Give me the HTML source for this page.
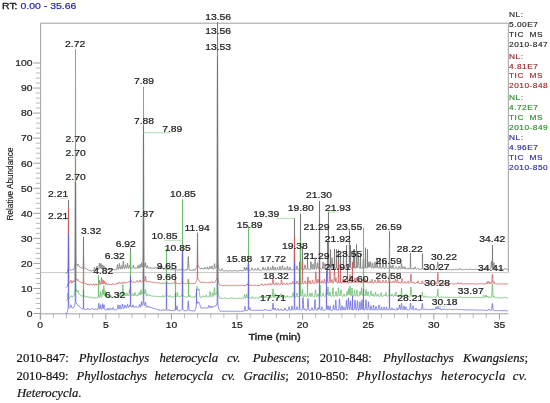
<!DOCTYPE html>
<html><head><meta charset="utf-8"><style>
html,body{margin:0;padding:0;background:#fff;width:550px;height:403px;overflow:hidden;}
svg{position:absolute;left:0;top:0;display:block;will-change:transform;}
.cap{position:absolute;left:0;top:0;font-family:"Liberation Serif",serif;font-size:12.7px;color:#111;-webkit-text-stroke:0.2px #111;}
.w{position:absolute;height:17.4px;line-height:17.4px;white-space:nowrap;transform:scaleY(1.05);transform-origin:0 13px;}
.j{text-align:justify;text-align-last:justify;white-space:normal;}
</style></head><body>
<svg width="550" height="403" viewBox="0 0 550 403" font-family="Liberation Sans, sans-serif">
<rect width="550" height="403" fill="#fff"/>
<text transform="translate(2.0,8.8) scale(1.14,1)" font-size="9.2" fill="#222" stroke="#222" stroke-width="0.35">RT: <tspan fill="#2323b0" stroke="#2323b0" stroke-width="0.2">0.00 - 35.66</tspan></text>
<line x1="40.60" y1="23.20" x2="508.30" y2="23.20" stroke="#a0a0a0" stroke-width="1" stroke-opacity="1.0"/>
<line x1="508.30" y1="23.20" x2="508.30" y2="272.50" stroke="#a0a0a0" stroke-width="1" stroke-opacity="1.0"/>
<line x1="40.60" y1="272.60" x2="508.30" y2="272.60" stroke="#c8c8c8" stroke-width="1" stroke-opacity="1.0"/>
<line x1="40.60" y1="23.20" x2="40.60" y2="319.50" stroke="#a0a0a0" stroke-width="1" stroke-opacity="1.0"/>
<line x1="40.60" y1="313.80" x2="508.50" y2="313.80" stroke="#a0a0a0" stroke-width="1" stroke-opacity="1.0"/>
<line x1="33.50" y1="313.50" x2="40.60" y2="313.50" stroke="#a0a0a0" stroke-width="1" stroke-opacity="1.0"/>
<line x1="35.80" y1="308.49" x2="40.60" y2="308.49" stroke="#b8b8b8" stroke-width="1" stroke-opacity="1.0"/>
<line x1="35.80" y1="303.48" x2="40.60" y2="303.48" stroke="#b8b8b8" stroke-width="1" stroke-opacity="1.0"/>
<line x1="35.80" y1="298.47" x2="40.60" y2="298.47" stroke="#b8b8b8" stroke-width="1" stroke-opacity="1.0"/>
<line x1="35.80" y1="293.46" x2="40.60" y2="293.46" stroke="#b8b8b8" stroke-width="1" stroke-opacity="1.0"/>
<line x1="33.50" y1="288.45" x2="40.60" y2="288.45" stroke="#a0a0a0" stroke-width="1" stroke-opacity="1.0"/>
<line x1="35.80" y1="283.44" x2="40.60" y2="283.44" stroke="#b8b8b8" stroke-width="1" stroke-opacity="1.0"/>
<line x1="35.80" y1="278.43" x2="40.60" y2="278.43" stroke="#b8b8b8" stroke-width="1" stroke-opacity="1.0"/>
<line x1="35.80" y1="273.42" x2="40.60" y2="273.42" stroke="#b8b8b8" stroke-width="1" stroke-opacity="1.0"/>
<line x1="35.80" y1="268.41" x2="40.60" y2="268.41" stroke="#b8b8b8" stroke-width="1" stroke-opacity="1.0"/>
<line x1="33.50" y1="263.40" x2="40.60" y2="263.40" stroke="#a0a0a0" stroke-width="1" stroke-opacity="1.0"/>
<line x1="35.80" y1="258.39" x2="40.60" y2="258.39" stroke="#b8b8b8" stroke-width="1" stroke-opacity="1.0"/>
<line x1="35.80" y1="253.38" x2="40.60" y2="253.38" stroke="#b8b8b8" stroke-width="1" stroke-opacity="1.0"/>
<line x1="35.80" y1="248.37" x2="40.60" y2="248.37" stroke="#b8b8b8" stroke-width="1" stroke-opacity="1.0"/>
<line x1="35.80" y1="243.36" x2="40.60" y2="243.36" stroke="#b8b8b8" stroke-width="1" stroke-opacity="1.0"/>
<line x1="33.50" y1="238.35" x2="40.60" y2="238.35" stroke="#a0a0a0" stroke-width="1" stroke-opacity="1.0"/>
<line x1="35.80" y1="233.34" x2="40.60" y2="233.34" stroke="#b8b8b8" stroke-width="1" stroke-opacity="1.0"/>
<line x1="35.80" y1="228.33" x2="40.60" y2="228.33" stroke="#b8b8b8" stroke-width="1" stroke-opacity="1.0"/>
<line x1="35.80" y1="223.32" x2="40.60" y2="223.32" stroke="#b8b8b8" stroke-width="1" stroke-opacity="1.0"/>
<line x1="35.80" y1="218.31" x2="40.60" y2="218.31" stroke="#b8b8b8" stroke-width="1" stroke-opacity="1.0"/>
<line x1="33.50" y1="213.30" x2="40.60" y2="213.30" stroke="#a0a0a0" stroke-width="1" stroke-opacity="1.0"/>
<line x1="35.80" y1="208.29" x2="40.60" y2="208.29" stroke="#b8b8b8" stroke-width="1" stroke-opacity="1.0"/>
<line x1="35.80" y1="203.28" x2="40.60" y2="203.28" stroke="#b8b8b8" stroke-width="1" stroke-opacity="1.0"/>
<line x1="35.80" y1="198.27" x2="40.60" y2="198.27" stroke="#b8b8b8" stroke-width="1" stroke-opacity="1.0"/>
<line x1="35.80" y1="193.26" x2="40.60" y2="193.26" stroke="#b8b8b8" stroke-width="1" stroke-opacity="1.0"/>
<line x1="33.50" y1="188.25" x2="40.60" y2="188.25" stroke="#a0a0a0" stroke-width="1" stroke-opacity="1.0"/>
<line x1="35.80" y1="183.24" x2="40.60" y2="183.24" stroke="#b8b8b8" stroke-width="1" stroke-opacity="1.0"/>
<line x1="35.80" y1="178.23" x2="40.60" y2="178.23" stroke="#b8b8b8" stroke-width="1" stroke-opacity="1.0"/>
<line x1="35.80" y1="173.22" x2="40.60" y2="173.22" stroke="#b8b8b8" stroke-width="1" stroke-opacity="1.0"/>
<line x1="35.80" y1="168.21" x2="40.60" y2="168.21" stroke="#b8b8b8" stroke-width="1" stroke-opacity="1.0"/>
<line x1="33.50" y1="163.20" x2="40.60" y2="163.20" stroke="#a0a0a0" stroke-width="1" stroke-opacity="1.0"/>
<line x1="35.80" y1="158.19" x2="40.60" y2="158.19" stroke="#b8b8b8" stroke-width="1" stroke-opacity="1.0"/>
<line x1="35.80" y1="153.18" x2="40.60" y2="153.18" stroke="#b8b8b8" stroke-width="1" stroke-opacity="1.0"/>
<line x1="35.80" y1="148.17" x2="40.60" y2="148.17" stroke="#b8b8b8" stroke-width="1" stroke-opacity="1.0"/>
<line x1="35.80" y1="143.16" x2="40.60" y2="143.16" stroke="#b8b8b8" stroke-width="1" stroke-opacity="1.0"/>
<line x1="33.50" y1="138.15" x2="40.60" y2="138.15" stroke="#a0a0a0" stroke-width="1" stroke-opacity="1.0"/>
<line x1="35.80" y1="133.14" x2="40.60" y2="133.14" stroke="#b8b8b8" stroke-width="1" stroke-opacity="1.0"/>
<line x1="35.80" y1="128.13" x2="40.60" y2="128.13" stroke="#b8b8b8" stroke-width="1" stroke-opacity="1.0"/>
<line x1="35.80" y1="123.12" x2="40.60" y2="123.12" stroke="#b8b8b8" stroke-width="1" stroke-opacity="1.0"/>
<line x1="35.80" y1="118.11" x2="40.60" y2="118.11" stroke="#b8b8b8" stroke-width="1" stroke-opacity="1.0"/>
<line x1="33.50" y1="113.10" x2="40.60" y2="113.10" stroke="#a0a0a0" stroke-width="1" stroke-opacity="1.0"/>
<line x1="35.80" y1="108.09" x2="40.60" y2="108.09" stroke="#b8b8b8" stroke-width="1" stroke-opacity="1.0"/>
<line x1="35.80" y1="103.08" x2="40.60" y2="103.08" stroke="#b8b8b8" stroke-width="1" stroke-opacity="1.0"/>
<line x1="35.80" y1="98.07" x2="40.60" y2="98.07" stroke="#b8b8b8" stroke-width="1" stroke-opacity="1.0"/>
<line x1="35.80" y1="93.06" x2="40.60" y2="93.06" stroke="#b8b8b8" stroke-width="1" stroke-opacity="1.0"/>
<line x1="33.50" y1="88.05" x2="40.60" y2="88.05" stroke="#a0a0a0" stroke-width="1" stroke-opacity="1.0"/>
<line x1="35.80" y1="83.04" x2="40.60" y2="83.04" stroke="#b8b8b8" stroke-width="1" stroke-opacity="1.0"/>
<line x1="35.80" y1="78.03" x2="40.60" y2="78.03" stroke="#b8b8b8" stroke-width="1" stroke-opacity="1.0"/>
<line x1="35.80" y1="73.02" x2="40.60" y2="73.02" stroke="#b8b8b8" stroke-width="1" stroke-opacity="1.0"/>
<line x1="35.80" y1="68.01" x2="40.60" y2="68.01" stroke="#b8b8b8" stroke-width="1" stroke-opacity="1.0"/>
<line x1="33.50" y1="63.00" x2="40.60" y2="63.00" stroke="#a0a0a0" stroke-width="1" stroke-opacity="1.0"/>
<text transform="translate(32.60,316.80) scale(1.15,1)" font-size="9.0" fill="#1e1e1e" stroke="#1e1e1e" stroke-width="0.22" text-anchor="end" font-weight="normal">0</text>
<text transform="translate(32.60,291.75) scale(1.15,1)" font-size="9.0" fill="#1e1e1e" stroke="#1e1e1e" stroke-width="0.22" text-anchor="end" font-weight="normal">10</text>
<text transform="translate(32.60,266.70) scale(1.15,1)" font-size="9.0" fill="#1e1e1e" stroke="#1e1e1e" stroke-width="0.22" text-anchor="end" font-weight="normal">20</text>
<text transform="translate(32.60,241.65) scale(1.15,1)" font-size="9.0" fill="#1e1e1e" stroke="#1e1e1e" stroke-width="0.22" text-anchor="end" font-weight="normal">30</text>
<text transform="translate(32.60,216.60) scale(1.15,1)" font-size="9.0" fill="#1e1e1e" stroke="#1e1e1e" stroke-width="0.22" text-anchor="end" font-weight="normal">40</text>
<text transform="translate(32.60,191.55) scale(1.15,1)" font-size="9.0" fill="#1e1e1e" stroke="#1e1e1e" stroke-width="0.22" text-anchor="end" font-weight="normal">50</text>
<text transform="translate(32.60,166.50) scale(1.15,1)" font-size="9.0" fill="#1e1e1e" stroke="#1e1e1e" stroke-width="0.22" text-anchor="end" font-weight="normal">60</text>
<text transform="translate(32.60,141.45) scale(1.15,1)" font-size="9.0" fill="#1e1e1e" stroke="#1e1e1e" stroke-width="0.22" text-anchor="end" font-weight="normal">70</text>
<text transform="translate(32.60,116.40) scale(1.15,1)" font-size="9.0" fill="#1e1e1e" stroke="#1e1e1e" stroke-width="0.22" text-anchor="end" font-weight="normal">80</text>
<text transform="translate(32.60,91.35) scale(1.15,1)" font-size="9.0" fill="#1e1e1e" stroke="#1e1e1e" stroke-width="0.22" text-anchor="end" font-weight="normal">90</text>
<text transform="translate(32.60,66.30) scale(1.15,1)" font-size="9.0" fill="#1e1e1e" stroke="#1e1e1e" stroke-width="0.22" text-anchor="end" font-weight="normal">100</text>
<line x1="40.20" y1="313.80" x2="40.20" y2="319.60" stroke="#a0a0a0" stroke-width="1" stroke-opacity="1.0"/>
<line x1="53.32" y1="313.80" x2="53.32" y2="318.00" stroke="#b8b8b8" stroke-width="1" stroke-opacity="1.0"/>
<line x1="66.44" y1="313.80" x2="66.44" y2="318.00" stroke="#b8b8b8" stroke-width="1" stroke-opacity="1.0"/>
<line x1="79.56" y1="313.80" x2="79.56" y2="318.00" stroke="#b8b8b8" stroke-width="1" stroke-opacity="1.0"/>
<line x1="92.68" y1="313.80" x2="92.68" y2="318.00" stroke="#b8b8b8" stroke-width="1" stroke-opacity="1.0"/>
<line x1="105.80" y1="313.80" x2="105.80" y2="319.60" stroke="#a0a0a0" stroke-width="1" stroke-opacity="1.0"/>
<line x1="118.92" y1="313.80" x2="118.92" y2="318.00" stroke="#b8b8b8" stroke-width="1" stroke-opacity="1.0"/>
<line x1="132.04" y1="313.80" x2="132.04" y2="318.00" stroke="#b8b8b8" stroke-width="1" stroke-opacity="1.0"/>
<line x1="145.16" y1="313.80" x2="145.16" y2="318.00" stroke="#b8b8b8" stroke-width="1" stroke-opacity="1.0"/>
<line x1="158.28" y1="313.80" x2="158.28" y2="318.00" stroke="#b8b8b8" stroke-width="1" stroke-opacity="1.0"/>
<line x1="171.40" y1="313.80" x2="171.40" y2="319.60" stroke="#a0a0a0" stroke-width="1" stroke-opacity="1.0"/>
<line x1="184.52" y1="313.80" x2="184.52" y2="318.00" stroke="#b8b8b8" stroke-width="1" stroke-opacity="1.0"/>
<line x1="197.64" y1="313.80" x2="197.64" y2="318.00" stroke="#b8b8b8" stroke-width="1" stroke-opacity="1.0"/>
<line x1="210.76" y1="313.80" x2="210.76" y2="318.00" stroke="#b8b8b8" stroke-width="1" stroke-opacity="1.0"/>
<line x1="223.88" y1="313.80" x2="223.88" y2="318.00" stroke="#b8b8b8" stroke-width="1" stroke-opacity="1.0"/>
<line x1="237.00" y1="313.80" x2="237.00" y2="319.60" stroke="#a0a0a0" stroke-width="1" stroke-opacity="1.0"/>
<line x1="250.12" y1="313.80" x2="250.12" y2="318.00" stroke="#b8b8b8" stroke-width="1" stroke-opacity="1.0"/>
<line x1="263.24" y1="313.80" x2="263.24" y2="318.00" stroke="#b8b8b8" stroke-width="1" stroke-opacity="1.0"/>
<line x1="276.36" y1="313.80" x2="276.36" y2="318.00" stroke="#b8b8b8" stroke-width="1" stroke-opacity="1.0"/>
<line x1="289.48" y1="313.80" x2="289.48" y2="318.00" stroke="#b8b8b8" stroke-width="1" stroke-opacity="1.0"/>
<line x1="302.60" y1="313.80" x2="302.60" y2="319.60" stroke="#a0a0a0" stroke-width="1" stroke-opacity="1.0"/>
<line x1="315.72" y1="313.80" x2="315.72" y2="318.00" stroke="#b8b8b8" stroke-width="1" stroke-opacity="1.0"/>
<line x1="328.84" y1="313.80" x2="328.84" y2="318.00" stroke="#b8b8b8" stroke-width="1" stroke-opacity="1.0"/>
<line x1="341.96" y1="313.80" x2="341.96" y2="318.00" stroke="#b8b8b8" stroke-width="1" stroke-opacity="1.0"/>
<line x1="355.08" y1="313.80" x2="355.08" y2="318.00" stroke="#b8b8b8" stroke-width="1" stroke-opacity="1.0"/>
<line x1="368.20" y1="313.80" x2="368.20" y2="319.60" stroke="#a0a0a0" stroke-width="1" stroke-opacity="1.0"/>
<line x1="381.32" y1="313.80" x2="381.32" y2="318.00" stroke="#b8b8b8" stroke-width="1" stroke-opacity="1.0"/>
<line x1="394.44" y1="313.80" x2="394.44" y2="318.00" stroke="#b8b8b8" stroke-width="1" stroke-opacity="1.0"/>
<line x1="407.56" y1="313.80" x2="407.56" y2="318.00" stroke="#b8b8b8" stroke-width="1" stroke-opacity="1.0"/>
<line x1="420.68" y1="313.80" x2="420.68" y2="318.00" stroke="#b8b8b8" stroke-width="1" stroke-opacity="1.0"/>
<line x1="433.80" y1="313.80" x2="433.80" y2="319.60" stroke="#a0a0a0" stroke-width="1" stroke-opacity="1.0"/>
<line x1="446.92" y1="313.80" x2="446.92" y2="318.00" stroke="#b8b8b8" stroke-width="1" stroke-opacity="1.0"/>
<line x1="460.04" y1="313.80" x2="460.04" y2="318.00" stroke="#b8b8b8" stroke-width="1" stroke-opacity="1.0"/>
<line x1="473.16" y1="313.80" x2="473.16" y2="318.00" stroke="#b8b8b8" stroke-width="1" stroke-opacity="1.0"/>
<line x1="486.28" y1="313.80" x2="486.28" y2="318.00" stroke="#b8b8b8" stroke-width="1" stroke-opacity="1.0"/>
<line x1="499.40" y1="313.80" x2="499.40" y2="319.60" stroke="#a0a0a0" stroke-width="1" stroke-opacity="1.0"/>
<text transform="translate(40.20,328.30) scale(1.15,1)" font-size="9.0" fill="#1e1e1e" stroke="#1e1e1e" stroke-width="0.22" text-anchor="middle" font-weight="normal">0</text>
<text transform="translate(105.80,328.30) scale(1.15,1)" font-size="9.0" fill="#1e1e1e" stroke="#1e1e1e" stroke-width="0.22" text-anchor="middle" font-weight="normal">5</text>
<text transform="translate(171.40,328.30) scale(1.15,1)" font-size="9.0" fill="#1e1e1e" stroke="#1e1e1e" stroke-width="0.22" text-anchor="middle" font-weight="normal">10</text>
<text transform="translate(237.00,328.30) scale(1.15,1)" font-size="9.0" fill="#1e1e1e" stroke="#1e1e1e" stroke-width="0.22" text-anchor="middle" font-weight="normal">15</text>
<text transform="translate(302.60,328.30) scale(1.15,1)" font-size="9.0" fill="#1e1e1e" stroke="#1e1e1e" stroke-width="0.22" text-anchor="middle" font-weight="normal">20</text>
<text transform="translate(368.20,328.30) scale(1.15,1)" font-size="9.0" fill="#1e1e1e" stroke="#1e1e1e" stroke-width="0.22" text-anchor="middle" font-weight="normal">25</text>
<text transform="translate(433.80,328.30) scale(1.15,1)" font-size="9.0" fill="#1e1e1e" stroke="#1e1e1e" stroke-width="0.22" text-anchor="middle" font-weight="normal">30</text>
<text transform="translate(499.40,328.30) scale(1.15,1)" font-size="9.0" fill="#1e1e1e" stroke="#1e1e1e" stroke-width="0.22" text-anchor="middle" font-weight="normal">35</text>
<text transform="translate(274.60,340.10) scale(1.15,1)" font-size="9.6" fill="#1e1e1e" stroke="#1e1e1e" stroke-width="0.4" text-anchor="middle" font-weight="normal">Time (min)</text>
<text transform="translate(13.2,184) rotate(-90) scale(1,1.15)" font-size="8.2" fill="#1e1e1e" stroke="#1e1e1e" stroke-width="0.15" text-anchor="middle">Relative Abundance</text>
<path d="M66.00,273.8 66.20,273.4 66.50,273.0 66.52,273.0 66.76,272.6 67.00,272.2 67.24,271.9 67.48,271.5 67.50,270.5 67.80,270.0 68.00,269.5 68.13,269.1 68.20,268.2 68.30,259.5 68.38,235.4 68.44,211.4 68.50,200.0 68.53,203.1 68.56,211.4 68.62,235.2 68.70,259.3 68.80,267.9 68.85,268.6 69.00,268.9 69.09,269.0 69.33,269.2 69.50,269.4 69.57,269.4 69.81,269.7 69.88,269.8 70.00,269.9 70.13,270.0 70.28,270.1 70.50,270.1 70.53,270.1 70.60,270.0 70.84,269.9 71.00,270.0 71.08,270.0 71.21,270.0 71.32,270.0 71.50,270.1 71.56,270.1 71.61,270.1 71.88,270.0 71.93,270.0 72.00,269.9 72.17,269.8 72.28,269.7 72.41,269.7 72.50,269.7 72.65,269.8 72.89,269.9 73.00,270.0 73.21,269.7 73.43,269.7 73.50,269.6 73.61,269.6 73.83,269.4 74.00,269.2 74.15,268.7 74.39,268.0 74.50,267.6 74.63,267.1 74.87,266.1 75.00,265.5 75.11,264.9 75.20,263.1 75.30,247.8 75.38,205.5 75.43,170.0 75.44,163.7 75.50,143.6 75.56,163.5 75.62,205.1 75.69,243.6 75.70,247.1 75.80,262.1 75.83,263.0 76.00,263.8 76.09,264.1 76.41,264.8 76.50,264.9 76.65,265.1 76.89,265.4 76.94,265.4 77.00,265.5 77.01,265.5 77.13,265.6 77.34,265.6 77.37,265.5 77.50,265.3 77.60,265.0 77.66,264.8 77.69,264.7 77.80,264.4 77.90,264.2 78.00,264.3 78.09,264.4 78.14,264.5 78.20,264.6 78.38,265.3 78.40,265.4 78.50,265.7 78.55,265.8 78.62,266.0 78.66,266.1 78.94,266.4 78.95,266.4 78.99,266.4 79.00,266.4 79.27,266.6 79.34,266.6 79.50,266.7 79.51,266.7 79.75,266.8 79.99,267.0 80.00,267.0 80.23,267.2 80.50,267.5 80.55,267.5 80.66,267.6 80.95,267.8 81.00,267.8 81.06,267.8 81.38,267.9 81.50,267.9 81.62,267.9 81.86,268.0 81.91,268.0 82.00,268.0 82.10,268.0 82.31,268.0 82.34,268.0 82.50,268.0 82.63,267.9 82.66,267.9 82.87,267.7 83.00,267.6 83.06,267.5 83.11,267.5 83.20,267.0 83.30,263.2 83.35,257.4 83.38,252.5 83.44,241.9 83.50,236.9 83.56,242.0 83.59,247.1 83.62,252.6 83.70,263.3 83.80,267.1 83.91,267.6 84.00,267.7 84.14,267.8 84.31,267.9 84.50,268.0 84.54,268.0 84.86,268.0 85.00,268.0 85.10,268.0 85.34,268.2 85.50,268.3 85.58,268.4 85.78,268.5 85.82,268.6 86.00,268.8 86.14,268.8 86.18,268.9 86.50,268.9 86.54,268.9 86.74,268.8 86.98,268.9 87.00,268.9 87.22,269.1 87.46,269.4 87.50,269.4 87.78,269.7 87.92,269.8 88.00,269.9 88.18,270.0 88.32,270.1 88.50,270.1 88.64,270.2 88.88,270.2 89.00,270.3 89.12,270.3 89.30,270.4 89.36,270.5 89.50,270.6 89.60,270.7 89.70,270.7 89.92,270.8 90.00,270.8 90.02,270.8 90.26,270.7 90.32,270.7 90.50,270.7 90.74,270.7 90.98,270.8 91.00,270.8 91.30,270.9 91.46,270.9 91.50,270.9 91.70,270.9 91.86,270.8 92.00,270.8 92.18,270.6 92.42,270.5 92.50,270.4 92.66,270.4 92.90,270.4 92.97,270.5 93.00,270.5 93.14,270.5 93.37,270.5 93.46,270.5 93.50,270.5 93.51,270.5 93.69,270.3 93.84,269.9 93.86,269.8 93.93,269.6 94.00,269.2 94.10,268.7 94.17,268.3 94.30,267.7 94.41,267.3 94.50,267.2 94.65,267.6 94.70,267.8 94.86,268.7 94.90,268.9 94.97,269.2 95.00,269.4 95.16,269.9 95.26,270.0 95.37,270.1 95.49,270.1 95.50,270.1 95.58,270.0 95.82,269.8 96.00,269.7 96.01,269.7 96.06,269.6 96.13,269.6 96.30,269.3 96.34,269.3 96.50,268.7 96.53,268.5 96.54,268.5 96.60,268.1 96.80,266.9 96.85,266.6 96.86,266.6 97.00,266.2 97.09,266.3 97.20,266.7 97.26,267.0 97.33,267.4 97.40,267.9 97.50,268.4 97.57,268.8 97.66,269.1 97.81,269.4 97.99,269.6 98.00,269.6 98.13,269.7 98.39,269.7 98.50,269.6 98.51,269.6 98.53,269.6 98.79,269.0 98.84,268.8 99.00,267.6 99.10,266.5 99.11,266.4 99.30,264.2 99.35,263.7 99.50,263.0 99.59,263.2 99.67,263.8 99.70,264.0 99.83,265.5 99.90,266.3 100.00,267.3 100.01,267.4 100.07,267.9 100.16,268.3 100.34,268.4 100.39,268.2 100.49,267.5 100.50,267.5 100.60,266.5 100.63,266.2 100.79,264.6 100.80,264.5 100.87,263.9 101.00,263.5 101.11,263.9 101.20,264.6 101.35,266.2 101.40,266.7 101.50,267.7 101.51,267.8 101.59,268.3 101.66,268.7 101.67,268.7 101.84,268.8 101.99,268.2 102.00,268.1 102.07,267.6 102.10,267.4 102.30,265.7 102.31,265.6 102.50,264.8 102.55,264.9 102.70,265.6 102.79,266.4 102.90,267.3 103.00,268.1 103.01,268.1 103.03,268.3 103.16,268.9 103.27,269.1 103.34,269.0 103.38,268.9 103.49,268.5 103.50,268.5 103.59,268.0 103.60,267.9 103.78,266.7 103.80,266.6 103.99,265.8 104.00,265.8 104.10,266.0 104.20,266.4 104.34,267.3 104.40,267.7 104.50,268.3 104.51,268.3 104.58,268.6 104.66,268.9 104.82,269.1 104.84,269.1 104.88,269.1 104.99,268.9 105.00,268.9 105.06,268.7 105.10,268.5 105.28,267.8 105.30,267.8 105.38,267.5 105.50,267.3 105.60,267.4 105.70,267.7 105.78,268.0 105.84,268.2 105.90,268.4 106.00,268.8 106.08,269.1 106.16,269.3 106.32,269.5 106.49,269.7 106.50,269.7 106.56,269.8 106.88,269.9 107.00,270.0 107.26,270.0 107.28,270.0 107.50,270.0 107.66,269.9 107.98,269.8 108.00,269.8 108.01,269.8 108.22,269.7 108.34,269.5 108.46,269.3 108.50,269.3 108.60,269.0 108.70,268.8 108.80,268.6 108.91,268.4 108.94,268.4 109.00,268.4 109.20,268.7 109.26,268.8 109.31,269.0 109.40,269.2 109.50,269.4 109.63,269.6 109.66,269.7 109.87,269.8 109.99,269.8 110.00,269.8 110.11,269.8 110.35,269.8 110.38,269.8 110.50,269.9 110.59,269.9 110.78,269.9 110.91,269.9 111.00,269.9 111.01,269.9 111.10,269.9 111.31,269.7 111.34,269.6 111.50,269.3 111.58,269.2 111.60,269.1 111.80,268.6 111.82,268.6 112.00,268.4 112.06,268.4 112.20,268.7 112.32,269.0 112.38,269.2 112.40,269.2 112.50,269.5 112.66,269.7 112.72,269.8 112.78,269.8 112.99,269.8 113.00,269.8 113.04,269.8 113.28,269.7 113.50,269.7 113.52,269.7 113.76,269.7 114.00,269.8 114.18,269.9 114.32,269.9 114.50,269.9 114.58,269.9 114.72,269.9 114.90,269.8 115.00,269.7 115.14,269.6 115.38,269.5 115.50,269.6 115.62,269.6 115.86,269.7 116.00,269.7 116.18,269.8 116.46,269.7 116.50,269.7 116.51,269.7 116.58,269.7 116.84,269.1 116.86,269.0 117.00,268.1 117.10,267.3 117.18,266.6 117.30,265.5 117.42,264.7 117.50,264.5 117.66,265.0 117.70,265.3 117.90,267.0 118.00,267.8 118.14,268.6 118.16,268.7 118.46,269.4 118.49,269.4 118.50,269.4 118.51,269.4 118.67,269.2 118.84,268.7 118.86,268.6 119.00,267.6 119.07,266.9 119.10,266.6 119.30,264.4 119.39,263.7 119.50,263.3 119.63,263.7 119.70,264.2 119.87,265.9 119.90,266.2 120.00,267.2 120.11,268.0 120.16,268.3 120.26,268.7 120.35,269.0 120.49,269.1 120.50,269.1 120.51,269.1 120.66,269.1 120.67,269.1 120.84,268.8 120.98,268.2 121.00,268.1 121.07,267.7 121.10,267.6 121.22,266.8 121.30,266.3 121.46,265.8 121.50,265.7 121.70,266.3 121.88,267.4 121.90,267.5 121.94,267.7 122.00,268.0 122.16,268.6 122.26,268.8 122.28,268.8 122.31,268.8 122.49,268.6 122.50,268.5 122.60,268.1 122.64,267.9 122.66,267.7 122.84,265.9 122.90,265.2 123.00,263.8 123.08,262.7 123.10,262.5 123.30,261.2 123.32,261.2 123.50,262.6 123.56,263.3 123.59,263.8 123.70,265.3 123.88,267.3 123.96,267.9 123.99,268.0 124.00,268.1 124.28,268.7 124.29,268.7 124.31,268.7 124.50,268.6 124.51,268.6 124.55,268.5 124.79,268.1 124.84,268.0 125.00,267.3 125.03,267.2 125.08,266.9 125.10,266.7 125.27,265.6 125.30,265.5 125.48,264.8 125.50,264.8 125.59,265.0 125.70,265.5 125.80,266.1 125.90,266.7 125.99,267.2 126.00,267.3 126.04,267.5 126.16,267.9 126.28,268.2 126.49,268.4 126.50,268.4 126.51,268.4 126.52,268.4 126.59,268.4 126.76,268.2 126.84,267.9 126.99,267.1 127.00,267.0 127.08,266.3 127.10,266.2 127.30,264.3 127.31,264.2 127.48,263.3 127.50,263.2 127.55,263.3 127.70,264.0 127.79,264.8 127.87,265.6 127.90,265.9 128.00,266.7 128.03,266.9 128.16,267.7 128.27,268.1 128.49,268.4 128.50,268.4 128.51,268.4 128.59,268.4 128.83,268.0 128.84,268.0 128.99,267.5 129.00,267.4 129.07,267.1 129.10,267.0 129.30,266.0 129.31,266.0 129.50,265.5 129.55,265.6 129.70,265.9 129.82,266.4 129.87,266.6 129.90,266.7 130.00,267.0 130.06,267.2 130.16,267.3 130.20,267.2 130.27,266.1 130.30,264.8 130.38,258.0 130.44,251.3 130.49,248.1 130.50,248.0 130.54,249.6 130.56,251.3 130.62,258.2 130.70,265.1 130.78,267.5 130.80,267.7 131.00,268.1 131.10,268.2 131.20,268.3 131.50,268.3 131.52,268.3 131.76,268.3 132.00,268.3 132.24,268.3 132.48,268.4 132.50,268.4 132.51,268.4 132.80,268.1 132.84,268.0 133.00,267.4 133.08,267.0 133.10,266.9 133.20,266.2 133.30,265.6 133.48,265.0 133.50,265.0 133.70,265.5 133.80,266.1 133.90,266.7 134.00,267.2 134.04,267.4 134.16,267.8 134.28,268.0 134.49,268.2 134.50,268.2 134.52,268.3 134.76,268.4 134.98,268.4 135.00,268.4 135.01,268.4 135.08,268.4 135.34,268.4 135.38,268.3 135.48,268.2 135.50,268.2 135.60,268.1 135.70,268.0 135.80,267.8 135.94,267.7 136.00,267.6 136.18,267.6 136.20,267.7 136.40,267.9 136.42,267.9 136.50,268.0 136.66,268.2 136.84,268.3 136.98,268.4 136.99,268.4 137.00,268.4 137.01,268.4 137.24,268.2 137.34,268.0 137.38,267.9 137.50,267.5 137.56,267.2 137.60,267.0 137.80,265.9 138.00,265.4 138.04,265.4 138.20,265.9 138.28,266.3 138.40,266.9 138.50,267.4 138.52,267.5 138.66,268.0 138.84,268.3 138.93,268.3 138.99,268.3 139.00,268.3 139.01,268.3 139.24,268.1 139.33,267.9 139.34,267.9 139.50,267.2 139.60,266.6 139.65,266.2 139.80,265.2 139.89,264.8 140.00,264.5 140.13,264.8 140.20,265.1 140.37,266.2 140.40,266.3 140.50,266.9 140.51,267.0 140.60,267.3 140.61,267.4 140.66,267.5 140.84,267.3 140.92,267.0 140.93,267.0 140.99,266.6 141.00,266.5 141.10,265.4 141.16,264.9 141.30,263.6 141.33,263.4 141.40,262.9 141.50,262.7 141.64,263.1 141.70,263.5 141.88,265.0 141.90,265.2 142.00,265.9 142.16,266.7 142.20,266.8 142.49,266.8 142.50,266.8 142.51,266.8 142.60,266.6 142.91,265.8 143.00,265.4 143.20,263.1 143.23,260.9 143.30,246.3 143.38,200.0 143.44,154.1 143.47,138.2 143.50,132.2 143.56,154.1 143.62,199.9 143.70,246.1 143.71,249.4 143.80,262.8 143.95,265.0 144.00,265.2 144.19,265.9 144.28,266.2 144.50,266.7 144.51,266.8 144.68,266.9 144.84,266.6 144.91,266.4 145.00,265.8 145.10,265.1 145.24,263.9 145.30,263.4 145.48,262.7 145.50,262.7 145.70,263.7 145.72,263.8 145.90,265.6 145.96,266.1 146.00,266.7 146.09,267.3 146.16,267.7 146.28,268.0 146.49,268.3 146.50,268.3 146.51,268.3 146.68,268.2 146.81,268.0 146.84,267.9 147.00,267.4 147.05,267.2 147.10,267.0 147.29,266.1 147.30,266.1 147.50,265.7 147.53,265.7 147.69,266.2 147.70,266.2 147.77,266.5 147.90,267.2 148.00,267.6 148.09,267.9 148.16,268.0 148.41,268.2 148.49,268.2 148.50,268.2 148.65,268.1 148.89,268.1 149.00,268.1 149.01,268.1 149.13,268.1 149.34,268.1 149.37,268.1 149.50,268.0 149.53,268.0 149.60,267.9 149.69,267.8 149.80,267.6 149.93,267.5 150.00,267.4 150.09,267.4 150.20,267.5 150.25,267.6 150.40,267.7 150.49,267.8 150.50,267.9 150.66,268.0 150.73,268.0 150.83,268.1 150.97,268.1 150.99,268.2 151.00,268.2 151.01,268.2 151.21,268.2 151.23,268.2 151.34,268.2 151.50,268.2 151.53,268.1 151.55,268.1 151.60,268.1 151.79,267.9 151.80,267.9 151.93,267.8 152.00,267.7 152.03,267.7 152.20,267.9 152.27,267.9 152.40,268.1 152.50,268.2 152.51,268.2 152.66,268.3 152.71,268.4 152.83,268.4 152.99,268.4 153.00,268.4 153.11,268.4 153.23,268.4 153.43,268.3 153.50,268.2 153.67,268.1 153.91,268.0 154.00,268.0 154.15,268.1 154.39,268.3 154.50,268.3 154.51,268.3 154.71,268.3 154.84,268.2 155.00,268.0 155.04,267.9 155.10,267.7 155.11,267.7 155.30,267.2 155.44,267.0 155.50,266.9 155.70,267.1 155.76,267.2 155.90,267.5 156.00,267.7 156.16,268.0 156.24,268.1 156.48,268.2 156.49,268.3 156.50,268.3 156.72,268.4 157.00,268.6 157.01,268.6 157.04,268.6 157.34,268.5 157.42,268.4 157.44,268.4 157.50,268.3 157.60,268.1 157.80,267.6 157.82,267.6 158.00,267.4 158.14,267.5 158.20,267.5 158.38,267.9 158.40,267.9 158.50,268.1 158.62,268.3 158.66,268.3 158.86,268.5 158.96,268.6 158.99,268.6 159.00,268.6 159.01,268.6 159.10,268.6 159.34,268.4 159.36,268.3 159.42,268.2 159.50,267.9 159.60,267.4 159.68,266.9 159.80,266.3 159.82,266.2 159.92,265.8 160.00,265.7 160.16,266.1 160.20,266.2 160.40,267.3 160.50,267.9 160.64,268.4 160.66,268.5 160.84,268.8 160.96,268.9 160.99,268.9 161.00,268.9 161.01,268.9 161.24,268.9 161.34,268.7 161.36,268.7 161.50,268.3 161.56,268.0 161.60,267.9 161.80,267.0 162.00,266.6 162.04,266.7 162.20,267.1 162.28,267.4 162.40,267.9 162.50,268.3 162.52,268.4 162.66,268.8 162.84,269.1 162.91,269.2 162.99,269.2 163.00,269.2 163.24,269.3 163.31,269.3 163.50,269.3 163.51,269.3 163.63,269.2 163.84,269.1 163.87,269.0 164.00,268.8 164.10,268.6 164.11,268.6 164.30,268.1 164.35,268.0 164.50,267.9 164.59,268.0 164.70,268.2 164.80,268.5 164.90,268.7 164.91,268.8 165.00,269.0 165.16,269.2 165.20,269.3 165.31,269.3 165.49,269.3 165.50,269.3 165.52,269.3 165.61,269.3 165.76,269.1 165.94,268.8 166.00,268.6 166.15,267.9 166.20,267.6 166.24,267.3 166.40,266.4 166.48,266.1 166.50,266.0 166.55,265.9 166.60,265.9 166.80,266.5 166.87,266.9 167.00,267.8 167.11,268.4 167.20,268.8 167.26,269.0 167.35,269.2 167.50,269.4 167.59,269.5 167.83,269.6 168.00,269.6 168.01,269.6 168.15,269.6 168.34,269.5 168.48,269.3 168.50,269.3 168.55,269.2 168.60,269.1 168.80,268.7 168.88,268.5 169.00,268.4 169.20,268.6 169.40,269.0 169.44,269.1 169.50,269.2 169.66,269.4 169.68,269.4 169.92,269.6 169.99,269.6 170.00,269.6 170.14,269.7 170.16,269.7 170.48,269.8 170.50,269.8 170.54,269.8 170.86,269.7 170.88,269.7 171.00,269.7 171.01,269.7 171.10,269.6 171.34,269.5 171.50,269.4 171.58,269.3 171.60,269.2 171.80,269.0 171.82,269.0 172.00,268.9 172.14,269.1 172.20,269.1 172.23,269.2 172.40,269.5 172.50,269.7 172.54,269.7 172.63,269.8 172.66,269.8 172.95,269.9 172.99,269.9 173.00,269.9 173.19,269.9 173.43,269.9 173.50,269.9 173.67,269.9 173.91,270.0 173.96,270.0 174.00,270.0 174.23,270.1 174.36,270.1 174.50,270.0 174.63,270.0 174.68,270.0 174.92,269.9 175.00,269.8 175.01,269.8 175.16,269.8 175.34,269.6 175.40,269.6 175.50,269.4 175.54,269.3 175.60,269.2 175.64,269.1 175.80,268.7 175.94,268.4 175.96,268.4 176.00,268.4 176.20,268.6 176.26,268.7 176.36,269.0 176.40,269.1 176.50,269.3 176.66,269.6 176.74,269.7 176.98,269.9 176.99,269.9 177.00,269.9 177.22,270.1 177.43,270.2 177.50,270.2 177.54,270.2 177.83,270.3 177.94,270.2 178.00,270.2 178.15,270.1 178.39,270.0 178.50,269.9 178.63,269.9 178.87,270.0 179.00,270.1 179.01,270.1 179.11,270.2 179.34,270.2 179.43,270.2 179.50,270.1 179.60,270.0 179.80,269.6 179.83,269.6 180.00,269.4 180.15,269.4 180.20,269.5 180.39,269.8 180.40,269.8 180.50,269.9 180.63,270.0 180.66,270.0 180.87,270.1 180.99,270.2 181.00,270.2 181.10,270.2 181.11,270.2 181.43,270.1 181.50,270.1 181.82,269.9 181.83,269.9 182.00,269.7 182.06,269.6 182.20,269.2 182.30,265.4 182.38,255.2 182.44,245.0 182.50,240.1 182.54,242.4 182.56,245.0 182.62,255.2 182.70,265.5 182.78,269.0 182.80,269.3 183.00,269.8 183.10,269.9 183.18,270.0 183.50,270.1 183.58,270.2 183.90,270.2 184.00,270.2 184.14,270.2 184.38,270.2 184.45,270.2 184.50,270.2 184.62,270.2 184.85,270.3 184.86,270.3 185.00,270.4 185.01,270.4 185.17,270.3 185.18,270.3 185.34,270.2 185.41,270.1 185.50,270.0 185.58,269.9 185.60,269.8 185.65,269.7 185.70,269.6 185.80,269.5 185.89,269.4 186.00,269.3 186.10,269.4 186.13,269.4 186.20,269.5 186.40,269.8 186.42,269.8 186.45,269.8 186.50,269.9 186.66,270.0 186.85,270.0 186.90,270.0 186.99,270.0 187.00,270.0 187.14,270.0 187.31,270.0 187.38,269.9 187.50,269.5 187.64,268.4 187.70,267.6 187.78,266.3 187.90,263.7 188.00,261.2 188.10,258.9 188.30,256.5 188.34,256.6 188.50,258.7 188.58,260.6 188.70,263.5 188.82,266.1 188.96,268.3 189.00,268.7 189.06,269.2 189.29,270.1 189.38,270.2 189.49,270.3 189.50,270.3 189.78,270.4 189.89,270.4 190.00,270.3 190.21,270.2 190.45,270.1 190.50,270.0 190.69,270.0 190.93,270.1 191.00,270.1 191.01,270.1 191.17,270.2 191.34,270.3 191.49,270.3 191.50,270.3 191.60,270.2 191.71,270.1 191.80,270.1 191.89,270.0 192.00,270.0 192.11,270.0 192.20,270.0 192.40,270.1 192.43,270.2 192.50,270.2 192.66,270.2 192.67,270.2 192.91,270.2 192.99,270.2 193.00,270.2 193.01,270.2 193.02,270.2 193.15,270.2 193.34,270.2 193.39,270.1 193.42,270.1 193.50,270.0 193.60,269.8 193.71,269.6 193.74,269.6 193.80,269.4 193.98,269.2 194.00,269.2 194.11,269.2 194.20,269.3 194.22,269.3 194.40,269.7 194.46,269.8 194.50,269.9 194.66,270.1 194.70,270.2 194.99,270.4 195.00,270.4 195.02,270.3 195.34,269.9 195.42,269.8 195.50,269.6 195.74,269.2 196.00,268.7 196.06,268.6 196.30,268.1 196.50,267.7 196.54,267.6 196.78,267.2 197.00,266.7 197.02,266.7 197.20,265.9 197.22,265.5 197.30,261.6 197.34,256.8 197.38,249.9 197.44,238.4 197.50,232.8 197.56,238.2 197.62,249.5 197.70,260.9 197.74,263.5 197.80,264.9 197.94,265.1 198.00,265.1 198.18,265.4 198.42,265.8 198.50,266.0 198.66,266.4 198.82,266.7 198.90,266.9 199.00,267.1 199.22,267.6 199.50,268.0 199.54,268.0 199.62,268.1 199.78,268.3 200.00,268.6 200.02,268.6 200.09,268.6 200.26,268.7 200.49,268.8 200.50,268.8 200.81,268.9 200.82,268.9 201.00,268.9 201.01,268.9 201.05,268.9 201.22,268.8 201.29,268.8 201.34,268.8 201.50,268.6 201.53,268.5 201.60,268.4 201.77,268.2 201.80,268.1 202.00,268.0 202.09,268.0 202.17,268.1 202.20,268.2 202.40,268.5 202.49,268.7 202.50,268.7 202.57,268.8 202.66,268.9 202.89,268.9 202.99,268.9 203.00,268.9 203.13,268.9 203.37,268.9 203.50,268.9 203.61,268.9 203.66,268.9 203.85,269.0 204.00,269.0 204.01,269.0 204.06,269.0 204.17,268.9 204.34,268.8 204.38,268.7 204.50,268.4 204.57,268.2 204.60,268.1 204.62,268.1 204.80,267.5 204.86,267.4 204.95,267.3 205.00,267.3 205.10,267.4 205.20,267.6 205.34,268.0 205.35,268.1 205.40,268.2 205.50,268.5 205.66,268.8 205.67,268.8 205.91,269.0 205.99,269.0 206.00,269.0 206.06,269.0 206.15,269.0 206.35,269.0 206.39,269.0 206.50,269.0 206.51,269.0 206.63,269.0 206.75,268.9 206.84,268.8 206.95,268.6 207.00,268.4 207.07,268.2 207.10,268.0 207.30,267.2 207.31,267.2 207.35,267.1 207.50,266.8 207.55,266.9 207.70,267.2 207.79,267.6 207.90,268.0 208.00,268.4 208.03,268.5 208.16,268.9 208.35,269.1 208.49,269.2 208.50,269.2 208.56,269.2 208.75,269.2 208.96,269.2 209.00,269.2 209.01,269.2 209.28,268.9 209.34,268.8 209.50,268.2 209.52,268.2 209.60,267.8 209.76,267.0 209.80,266.8 209.97,266.4 210.00,266.4 210.20,266.9 210.24,267.0 210.37,267.7 210.40,267.8 210.50,268.3 210.56,268.5 210.66,268.7 210.69,268.7 210.93,268.9 210.96,268.8 210.99,268.8 211.00,268.8 211.01,268.8 211.17,268.7 211.34,268.5 211.41,268.3 211.50,267.9 211.53,267.8 211.60,267.5 211.65,267.2 211.80,266.4 211.93,265.9 211.97,265.9 212.00,265.8 212.20,266.3 212.25,266.6 212.37,267.2 212.40,267.4 212.49,267.8 212.50,267.9 212.66,268.4 212.73,268.6 212.97,268.9 212.99,268.9 213.00,268.9 213.19,269.1 213.21,269.1 213.50,269.2 213.51,269.2 213.53,269.2 213.59,269.1 213.84,268.4 213.91,268.0 213.93,267.9 214.00,267.4 214.10,266.4 214.15,265.9 214.30,264.5 214.39,263.8 214.50,263.6 214.63,264.0 214.70,264.6 214.75,265.1 214.87,266.3 214.90,266.6 215.00,267.5 215.15,268.0 215.16,268.0 215.19,268.1 215.47,268.3 215.49,268.3 215.50,268.3 215.59,268.2 215.71,268.0 215.95,267.5 216.00,267.5 216.09,267.4 216.19,267.2 216.43,266.8 216.49,266.7 216.50,266.7 216.75,265.8 216.81,265.5 217.00,264.4 217.05,264.0 217.15,262.8 217.20,260.3 217.29,235.9 217.30,229.9 217.38,145.6 217.44,62.2 217.50,22.4 217.51,23.7 217.53,33.3 217.56,62.3 217.62,145.9 217.70,230.3 217.77,257.0 217.80,260.8 217.91,264.4 218.00,265.1 218.09,265.8 218.23,266.6 218.47,267.7 218.49,267.8 218.50,267.8 218.71,268.6 218.95,269.3 219.00,269.4 219.19,269.8 219.50,270.3 219.51,270.3 219.90,270.6 219.91,270.6 220.00,271.0 220.22,270.9 220.46,270.8 220.50,270.8 220.70,270.8 220.94,270.8 221.00,270.8 221.01,270.8 221.18,270.8 221.34,270.6 221.50,270.2 221.60,269.8 221.64,269.6 221.80,268.9 221.90,268.6 222.00,268.5 222.04,268.5 222.20,268.8 222.36,269.4 222.40,269.6 222.50,270.0 222.60,270.2 222.66,270.3 222.84,270.5 222.99,270.7 223.00,270.7 223.08,270.7 223.32,270.9 223.50,271.0 223.64,271.0 223.90,271.1 224.00,271.1 224.04,271.1 224.30,271.0 224.50,270.9 224.62,270.9 224.86,270.7 225.00,270.6 225.01,270.6 225.10,270.6 225.34,270.6 225.50,270.6 225.58,270.6 225.60,270.6 225.80,270.5 225.90,270.5 225.91,270.5 226.00,270.5 226.20,270.6 226.30,270.7 226.31,270.7 226.40,270.8 226.50,270.8 226.63,270.9 226.66,270.9 226.87,270.9 226.99,270.9 227.00,270.9 227.11,270.9 227.35,270.9 227.50,271.0 227.59,271.0 227.91,271.1 228.00,271.1 228.12,271.1 228.31,271.1 228.50,271.1 228.52,271.1 228.84,271.0 229.00,270.9 229.01,270.9 229.08,270.9 229.32,270.8 229.34,270.8 229.50,270.7 229.56,270.6 229.60,270.6 229.80,270.5 230.00,270.4 230.05,270.5 230.12,270.5 230.20,270.6 230.40,270.8 230.45,270.8 230.50,270.9 230.52,270.9 230.66,270.9 230.77,270.9 230.99,270.9 231.00,270.9 231.01,270.9 231.25,270.8 231.49,270.9 231.50,270.9 231.73,271.0 231.75,271.0 232.00,271.0 232.05,271.0 232.15,271.0 232.45,270.9 232.47,270.9 232.50,270.9 232.71,270.7 232.95,270.7 233.00,270.7 233.19,270.7 233.29,270.8 233.43,270.9 233.50,270.9 233.69,271.0 233.75,271.0 234.00,271.0 234.01,271.0 234.15,270.9 234.25,270.9 234.34,270.8 234.49,270.7 234.50,270.7 234.60,270.6 234.73,270.4 234.80,270.3 234.91,270.2 234.97,270.2 235.00,270.2 235.20,270.4 235.29,270.5 235.31,270.5 235.40,270.6 235.50,270.8 235.63,270.8 235.66,270.8 235.69,270.9 235.87,270.9 235.99,270.8 236.00,270.8 236.11,270.8 236.35,270.9 236.50,270.9 236.59,271.0 236.91,271.1 237.00,271.1 237.05,271.1 237.31,271.1 237.45,271.0 237.50,271.0 237.77,270.9 238.00,270.7 238.01,270.7 238.25,270.6 238.49,270.7 238.50,270.7 238.73,270.9 239.00,271.0 239.01,271.0 239.03,271.0 239.05,271.0 239.34,271.0 239.43,270.9 239.45,270.9 239.50,270.8 239.60,270.7 239.75,270.4 239.80,270.3 239.99,270.1 240.00,270.1 240.20,270.1 240.23,270.2 240.40,270.4 240.47,270.5 240.48,270.5 240.50,270.5 240.66,270.7 240.71,270.8 240.88,270.9 240.99,270.9 241.00,270.9 241.03,270.9 241.20,270.8 241.43,270.7 241.44,270.7 241.50,270.7 241.68,270.6 241.92,270.7 242.00,270.7 242.16,270.9 242.26,270.9 242.48,271.0 242.50,271.0 242.66,271.0 242.88,270.9 242.98,270.9 243.00,270.9 243.22,270.7 243.46,270.6 243.50,270.6 243.51,270.6 243.70,270.5 243.84,270.2 243.94,269.9 244.00,269.6 244.10,269.0 244.26,267.9 244.30,267.6 244.50,267.0 244.62,267.3 244.66,267.4 244.70,267.7 244.90,269.1 245.00,269.7 245.02,269.8 245.16,270.4 245.34,270.6 245.49,270.6 245.50,270.6 245.51,270.6 245.58,270.5 245.82,270.1 245.84,270.1 246.00,269.5 246.06,269.2 246.10,269.0 246.30,267.9 246.50,267.4 246.62,267.6 246.70,268.0 246.90,269.1 246.99,269.6 247.00,269.7 247.02,269.8 247.16,270.3 247.39,270.5 247.41,270.5 247.49,270.4 247.50,270.4 247.71,269.7 247.74,269.5 247.95,267.5 248.00,266.9 248.19,264.3 248.20,264.2 248.40,262.9 248.43,262.9 248.50,263.2 248.60,264.2 248.67,265.1 248.80,266.9 248.97,268.8 248.99,268.9 249.00,269.0 249.06,269.5 249.37,270.3 249.39,270.3 249.50,270.4 249.69,270.3 249.93,270.2 250.00,270.1 250.17,270.1 250.41,270.2 250.50,270.2 250.65,270.3 250.97,270.4 251.00,270.4 251.01,270.4 251.34,270.1 251.36,270.1 251.37,270.0 251.50,269.7 251.60,269.3 251.76,268.5 251.80,268.4 252.00,267.8 252.08,267.9 252.20,268.2 252.32,268.6 252.40,268.9 252.50,269.3 252.56,269.5 252.66,269.7 252.73,269.9 252.80,270.0 252.99,270.2 253.00,270.2 253.04,270.2 253.13,270.2 253.36,270.3 253.45,270.2 253.50,270.2 253.69,270.1 253.76,270.1 253.93,270.1 254.00,270.0 254.01,270.0 254.17,270.0 254.34,270.0 254.41,269.9 254.50,269.7 254.60,269.4 254.73,269.0 254.80,268.8 254.99,268.5 255.00,268.5 255.13,268.6 255.20,268.8 255.39,269.4 255.40,269.4 255.50,269.7 255.66,270.0 255.71,270.0 255.95,270.0 255.99,270.0 256.00,270.0 256.19,270.0 256.43,270.1 256.50,270.1 256.67,270.2 256.87,270.3 256.99,270.3 257.00,270.3 257.01,270.3 257.27,270.2 257.34,270.0 257.39,269.9 257.50,269.5 257.59,269.2 257.60,269.1 257.80,268.2 257.83,268.1 258.00,267.7 258.07,267.8 258.16,268.0 258.20,268.2 258.31,268.6 258.40,269.0 258.50,269.5 258.55,269.6 258.56,269.6 258.66,269.9 258.87,270.1 258.88,270.1 258.99,270.1 259.00,270.1 259.12,270.0 259.27,270.0 259.36,270.0 259.50,270.0 259.60,270.0 259.84,270.2 260.00,270.3 260.16,270.4 260.35,270.4 260.50,270.4 260.56,270.4 260.75,270.4 261.00,270.3 261.07,270.3 261.31,270.2 261.50,270.1 261.55,270.1 261.79,270.2 262.00,270.2 262.01,270.2 262.03,270.2 262.34,269.9 262.35,269.9 262.41,269.7 262.50,269.4 262.60,268.9 262.73,268.1 262.75,268.0 262.80,267.8 262.97,267.2 263.00,267.2 263.20,267.6 263.21,267.7 263.38,268.5 263.40,268.7 263.45,268.9 263.50,269.2 263.66,269.7 263.69,269.8 263.78,270.0 263.99,270.1 264.00,270.1 264.01,270.1 264.10,270.1 264.34,270.0 264.41,269.9 264.50,269.9 264.51,269.9 264.58,269.9 264.72,269.8 264.82,269.7 264.84,269.7 265.00,269.3 265.06,269.1 265.10,269.0 265.12,268.9 265.30,268.2 265.38,268.0 265.44,267.9 265.50,267.8 265.68,268.1 265.70,268.1 265.78,268.4 265.90,268.9 265.92,269.0 266.00,269.3 266.16,269.8 266.40,270.1 266.49,270.2 266.50,270.2 266.70,270.3 266.72,270.3 267.00,270.2 267.01,270.2 267.10,270.2 267.12,270.2 267.34,269.7 267.42,269.4 267.50,269.0 267.60,268.4 267.66,268.1 267.80,267.2 267.90,266.8 268.00,266.6 268.14,267.0 268.20,267.3 268.38,268.4 268.40,268.5 268.50,269.1 268.66,269.8 268.70,269.9 268.74,270.0 268.99,270.2 269.00,270.2 269.10,270.3 269.14,270.3 269.46,270.1 269.50,270.1 269.51,270.1 269.70,269.9 269.84,269.6 269.94,269.3 270.00,269.1 270.10,268.7 270.18,268.3 270.22,268.1 270.30,267.8 270.42,267.4 270.50,267.3 270.62,267.5 270.70,267.8 270.74,268.0 270.90,268.7 270.94,268.9 271.00,269.1 271.14,269.5 271.16,269.5 271.18,269.5 271.42,269.7 271.49,269.7 271.50,269.8 271.66,269.8 271.81,269.9 271.88,269.9 271.90,269.9 272.00,269.8 272.14,269.6 272.22,269.2 272.28,268.9 272.40,268.1 272.50,267.3 272.60,266.5 272.62,266.4 272.80,265.7 272.84,265.7 273.00,266.3 273.08,266.9 273.20,267.8 273.32,268.7 273.46,269.4 273.50,269.6 273.56,269.7 273.79,270.1 273.88,270.2 273.96,270.2 274.00,270.2 274.01,270.2 274.28,269.9 274.34,269.8 274.36,269.8 274.50,269.3 274.60,268.7 274.68,268.3 274.80,267.6 274.92,267.2 275.00,267.0 275.16,267.3 275.20,267.5 275.40,268.5 275.50,269.0 275.56,269.3 275.64,269.6 275.66,269.6 275.96,270.1 275.99,270.1 276.00,270.1 276.28,270.1 276.36,270.1 276.50,270.1 276.51,270.1 276.52,270.1 276.76,269.8 276.84,269.7 277.00,269.2 277.10,268.8 277.13,268.7 277.24,268.1 277.30,267.9 277.50,267.4 277.53,267.4 277.56,267.5 277.70,267.9 277.85,268.5 277.90,268.8 277.96,269.0 278.00,269.2 278.09,269.4 278.16,269.6 278.33,269.8 278.49,269.9 278.50,270.0 278.57,270.0 278.61,270.0 278.81,270.1 279.00,270.1 279.01,270.1 279.13,270.0 279.33,269.5 279.34,269.5 279.50,268.7 279.53,268.5 279.57,268.3 279.60,268.0 279.80,266.7 279.81,266.6 280.00,266.1 280.05,266.2 280.20,266.8 280.29,267.5 280.40,268.3 280.50,268.9 280.61,269.5 280.66,269.6 280.92,270.1 280.99,270.1 281.00,270.1 281.01,270.1 281.32,270.1 281.50,270.0 281.51,270.0 281.64,269.8 281.84,269.3 281.88,269.1 282.00,268.5 282.10,267.8 282.12,267.6 282.30,266.3 282.36,266.0 282.50,265.7 282.60,266.0 282.70,266.6 282.90,268.1 282.92,268.2 283.00,268.8 283.16,269.5 283.32,269.8 283.49,269.8 283.50,269.8 283.56,269.8 283.80,269.8 284.00,269.8 284.01,269.8 284.04,269.8 284.28,269.7 284.34,269.7 284.50,269.2 284.51,269.2 284.60,268.8 284.80,267.9 284.91,267.5 285.00,267.4 285.20,267.8 285.23,267.9 285.40,268.7 285.47,269.0 285.50,269.1 285.66,269.5 285.71,269.6 285.95,269.9 285.99,269.9 286.00,269.9 286.19,270.0 286.50,270.1 286.51,270.1 286.71,269.9 286.84,269.6 286.91,269.4 287.00,269.0 287.10,268.4 287.11,268.3 287.30,267.0 287.43,266.4 287.50,266.3 287.67,266.7 287.70,266.9 287.90,268.1 287.91,268.2 288.00,268.7 288.15,269.4 288.16,269.4 288.39,269.9 288.49,270.0 288.50,270.0 288.57,270.1 288.71,270.1 288.97,270.1 289.00,270.0 289.01,270.0 289.11,270.0 289.29,269.7 289.34,269.5 289.50,268.9 289.53,268.8 289.60,268.5 289.77,267.6 289.80,267.5 290.00,267.1 290.01,267.1 290.20,267.7 290.25,267.9 290.40,268.7 290.50,269.2 290.57,269.5 290.59,269.6 290.66,269.7 290.97,270.1 290.99,270.1 291.00,270.1 291.31,270.0 291.50,269.9 291.55,269.9 291.79,269.9 292.00,269.9 292.03,269.8 292.27,269.9 292.50,269.9 292.59,269.9 292.87,269.9 292.99,269.8 293.00,269.8 293.27,269.7 293.50,269.4 293.59,269.3 293.83,269.0 294.00,268.7 294.07,268.6 294.18,268.1 294.20,267.9 294.30,261.5 294.31,260.1 294.38,243.9 294.44,226.5 294.50,218.2 294.55,224.2 294.56,226.6 294.58,232.0 294.62,244.0 294.70,261.6 294.80,268.0 294.87,268.6 294.90,268.7 295.00,268.8 295.14,269.0 295.27,269.1 295.38,269.2 295.50,269.3 295.62,269.4 295.86,269.6 295.89,269.6 296.00,269.6 296.01,269.6 296.18,269.6 296.29,269.4 296.34,269.2 296.50,268.5 296.58,268.0 296.60,267.9 296.61,267.8 296.80,266.4 296.85,266.1 297.00,265.8 297.09,266.0 297.20,266.5 297.33,267.4 297.40,267.9 297.50,268.6 297.57,269.0 297.66,269.4 297.89,269.9 297.99,270.0 298.00,270.0 298.19,269.9 298.29,269.9 298.50,269.8 298.59,269.8 298.91,269.5 299.00,269.4 299.15,269.3 299.39,269.0 299.50,269.0 299.59,268.9 299.63,268.9 299.87,268.8 299.99,268.7 300.00,268.7 300.19,267.9 300.20,267.7 300.30,260.8 300.31,259.3 300.38,241.8 300.44,222.9 300.50,213.8 300.55,220.3 300.56,222.8 300.59,231.9 300.62,241.7 300.70,260.8 300.79,267.4 300.80,267.6 301.00,268.6 301.03,268.6 301.27,268.9 301.37,269.0 301.50,269.1 301.59,269.1 301.77,269.1 301.99,269.0 302.00,269.0 302.09,268.9 302.20,268.5 302.30,265.7 302.33,263.4 302.38,257.8 302.44,250.1 302.50,246.4 302.56,250.1 302.57,251.2 302.62,257.8 302.70,265.7 302.76,268.0 302.80,268.6 302.81,268.6 303.00,269.2 303.05,269.3 303.16,269.4 303.37,269.5 303.48,269.5 303.50,269.5 303.72,269.5 303.77,269.5 303.96,269.5 304.00,269.5 304.01,269.5 304.20,269.3 304.22,269.3 304.34,269.0 304.44,268.5 304.50,268.2 304.60,267.4 304.62,267.2 304.76,266.0 304.80,265.7 304.94,264.9 305.00,264.8 305.16,265.3 305.18,265.4 305.20,265.6 305.40,267.2 305.42,267.4 305.50,268.0 305.66,268.9 305.90,269.5 305.99,269.6 306.00,269.6 306.10,269.7 306.22,269.7 306.50,269.6 306.62,269.6 306.82,269.4 307.00,269.2 307.06,269.1 307.20,268.8 307.30,266.8 307.34,264.6 307.38,261.4 307.44,256.1 307.50,253.5 307.54,254.8 307.56,256.1 307.62,261.5 307.70,267.0 307.74,268.2 307.78,268.8 307.80,269.0 308.00,269.2 308.06,269.2 308.10,269.2 308.30,269.2 308.50,269.2 308.54,269.2 308.78,269.3 309.00,269.5 309.02,269.5 309.34,269.7 309.50,269.7 309.73,269.7 309.74,269.7 310.00,269.7 310.01,269.6 310.13,269.5 310.34,268.6 310.45,267.6 310.50,267.1 310.60,265.8 310.69,264.5 310.80,263.0 310.93,261.9 311.00,261.7 311.15,262.5 311.17,262.7 311.20,263.0 311.40,265.8 311.41,266.0 311.50,267.1 311.55,267.6 311.66,268.5 311.73,268.9 311.87,269.3 311.99,269.4 312.00,269.4 312.01,269.4 312.11,269.4 312.13,269.3 312.34,268.8 312.35,268.7 312.50,267.7 312.54,267.4 312.59,266.9 312.60,266.8 312.80,264.8 312.83,264.6 312.94,264.0 313.00,263.9 313.15,264.4 313.20,264.8 313.26,265.4 313.40,266.7 313.50,267.6 313.55,268.0 313.66,268.6 313.74,268.9 313.94,269.3 313.98,269.3 313.99,269.3 314.00,269.3 314.21,269.3 314.22,269.3 314.34,269.0 314.50,268.2 314.54,267.8 314.66,266.3 314.80,263.7 314.90,261.5 314.94,260.7 315.00,259.5 315.14,257.7 315.20,257.5 315.32,258.3 315.38,259.2 315.40,259.6 315.50,261.6 315.60,263.8 315.62,264.2 315.72,266.0 315.86,267.8 315.94,268.5 316.00,268.8 316.04,269.0 316.19,269.3 316.28,269.3 316.34,269.4 316.50,269.3 316.51,269.3 316.52,269.3 316.76,268.9 316.84,268.5 316.85,268.5 317.00,267.4 317.10,266.2 317.25,264.4 317.30,263.9 317.32,263.7 317.50,262.7 317.57,262.8 317.70,263.8 317.72,263.9 317.81,264.9 317.90,266.0 318.00,267.0 318.05,267.4 318.16,268.1 318.29,268.5 318.49,268.7 318.50,268.7 318.53,268.7 318.68,268.6 318.85,268.4 319.00,268.2 319.08,268.0 319.20,267.0 319.25,264.7 319.30,258.6 319.38,235.3 319.40,227.3 319.44,212.2 319.50,201.2 319.56,212.1 319.62,235.2 319.64,242.6 319.70,258.5 319.80,266.9 319.88,267.7 320.00,268.0 320.12,268.2 320.36,268.6 320.50,268.8 320.68,269.0 320.71,269.0 321.00,269.2 321.08,269.2 321.11,269.2 321.43,269.2 321.50,269.2 321.67,269.2 321.91,269.1 322.00,269.2 322.01,269.2 322.15,269.1 322.34,268.4 322.39,268.0 322.50,267.1 322.51,266.9 322.60,265.9 322.71,264.4 322.80,263.3 322.91,262.3 323.00,261.9 323.11,262.4 323.20,263.2 323.23,263.5 323.40,265.8 323.47,266.6 323.50,266.9 323.66,268.3 323.71,268.5 323.75,268.7 323.95,269.1 323.99,269.2 324.00,269.2 324.01,269.2 324.15,269.1 324.19,269.0 324.34,268.5 324.47,267.7 324.50,267.5 324.51,267.4 324.60,266.6 324.71,265.4 324.80,264.5 324.91,263.8 324.95,263.6 325.00,263.6 325.19,264.5 325.20,264.6 325.40,266.6 325.43,266.9 325.50,267.6 325.53,267.8 325.66,268.7 325.75,269.0 325.93,269.4 325.99,269.4 326.00,269.4 326.15,269.3 326.25,269.3 326.49,269.2 326.50,269.2 326.73,269.2 326.97,269.1 327.00,269.1 327.21,269.0 327.50,268.9 327.53,268.8 327.68,268.7 327.93,268.4 328.00,268.3 328.08,268.1 328.20,267.2 328.30,260.1 328.38,240.5 328.40,233.8 328.44,221.1 328.50,211.8 328.56,221.0 328.62,240.4 328.64,246.6 328.70,260.0 328.80,267.0 328.88,267.8 328.92,267.8 329.00,268.0 329.12,268.1 329.32,268.4 329.36,268.4 329.50,268.5 329.64,268.5 329.68,268.5 329.88,268.5 330.00,268.5 330.08,268.5 330.12,268.4 330.20,268.2 330.22,268.1 330.30,265.9 330.36,261.3 330.38,259.3 330.44,252.7 330.50,249.6 330.56,252.7 330.60,257.1 330.62,259.3 330.70,266.0 330.80,268.3 330.92,268.5 330.94,268.5 331.00,268.6 331.01,268.6 331.18,268.2 331.32,267.3 331.34,267.1 331.42,266.3 331.50,265.1 331.60,263.4 331.66,262.2 331.80,259.6 331.90,258.2 332.00,257.7 332.10,258.3 332.20,259.7 332.22,260.1 332.40,263.7 332.50,265.5 332.62,267.1 332.66,267.5 332.82,268.4 332.99,268.6 333.00,268.7 333.06,268.7 333.30,268.6 333.50,268.7 333.54,268.7 333.78,268.8 334.00,268.8 334.10,268.8 334.20,268.5 334.27,267.3 334.30,266.0 334.38,259.1 334.44,252.2 334.50,248.9 334.56,252.1 334.62,259.0 334.67,264.0 334.70,265.9 334.80,268.4 334.99,268.6 335.00,268.6 335.23,268.5 335.47,268.5 335.50,268.5 335.71,268.6 335.95,268.6 336.00,268.6 336.20,268.4 336.27,267.2 336.30,266.0 336.38,259.2 336.44,252.5 336.50,249.3 336.56,252.5 336.62,259.2 336.65,262.3 336.67,264.1 336.70,266.0 336.80,268.4 337.00,268.7 337.05,268.7 337.37,268.7 337.50,268.6 337.61,268.5 337.85,268.4 338.00,268.4 338.09,268.4 338.20,268.2 338.30,265.9 338.33,264.0 338.38,259.3 338.44,252.9 338.50,249.8 338.56,252.9 338.58,254.9 338.62,259.4 338.65,262.5 338.70,266.0 338.80,268.4 338.98,268.7 339.00,268.7 339.05,268.7 339.30,268.7 339.50,268.6 339.54,268.6 339.78,268.6 340.00,268.6 340.02,268.6 340.10,268.6 340.20,268.4 340.26,267.8 340.30,266.7 340.38,261.9 340.44,257.1 340.50,254.8 340.56,257.1 340.58,258.6 340.62,261.9 340.70,266.7 340.80,268.5 340.82,268.5 340.98,268.6 341.00,268.6 341.06,268.6 341.30,268.6 341.50,268.7 341.54,268.7 341.72,268.8 341.78,268.8 342.00,268.9 342.10,268.9 342.12,268.9 342.44,268.8 342.50,268.8 342.68,268.7 342.92,268.6 343.00,268.6 343.16,268.5 343.20,268.3 343.30,266.2 343.38,260.4 343.40,258.4 343.41,257.4 343.44,254.6 343.50,251.9 343.56,254.7 343.62,260.5 343.70,266.3 343.72,267.1 343.80,268.4 343.81,268.5 344.00,268.6 344.12,268.5 344.13,268.5 344.37,268.4 344.50,268.4 344.61,268.4 344.65,268.4 344.85,268.5 345.00,268.5 345.05,268.6 345.09,268.6 345.37,268.6 345.41,268.6 345.50,268.6 345.61,268.5 345.81,268.4 345.85,268.4 345.93,268.4 346.00,268.4 346.09,268.3 346.20,268.0 346.30,265.1 346.33,262.8 346.38,257.0 346.44,249.0 346.50,245.2 346.56,249.0 346.62,257.0 346.65,260.7 346.70,265.1 346.80,268.0 346.89,268.3 347.00,268.4 347.05,268.3 347.13,268.3 347.37,268.5 347.48,268.5 347.50,268.5 347.61,268.6 347.88,268.6 347.93,268.6 348.00,268.5 348.20,268.3 348.33,268.2 348.44,268.1 348.50,268.0 348.68,267.9 348.92,267.7 349.00,267.7 349.16,267.5 349.20,267.2 349.30,262.5 349.38,249.6 349.44,236.8 349.48,231.4 349.50,230.7 349.56,236.8 349.62,249.6 349.70,262.5 349.80,267.1 349.88,267.6 350.00,267.6 350.02,267.6 350.20,267.4 350.26,266.4 350.30,264.6 350.38,256.8 350.44,249.0 350.50,245.3 350.56,249.1 350.62,256.9 350.70,264.8 350.74,266.6 350.80,267.7 350.98,268.2 351.00,268.2 351.30,268.4 351.50,268.5 351.61,268.5 351.70,268.6 352.00,268.6 352.01,268.6 352.33,268.4 352.50,268.3 352.57,268.2 352.81,268.0 353.00,268.0 353.05,268.0 353.20,267.8 353.29,266.0 353.30,265.5 353.38,259.1 353.44,252.7 353.50,249.7 353.56,252.7 353.61,258.0 353.62,259.1 353.70,265.5 353.74,267.0 353.80,267.8 354.00,268.1 354.01,268.0 354.14,268.0 354.20,267.8 354.30,265.4 354.38,258.8 354.44,252.3 354.46,250.7 354.50,249.2 354.56,252.3 354.62,258.8 354.70,265.4 354.80,267.8 354.94,268.0 355.00,268.1 355.18,268.1 355.42,268.2 355.50,268.2 355.74,268.2 355.93,268.2 356.00,268.2 356.14,268.0 356.20,267.8 356.30,264.8 356.33,262.4 356.38,256.6 356.44,248.4 356.50,244.5 356.56,248.4 356.62,256.4 356.65,260.2 356.70,264.6 356.80,267.5 356.89,267.7 357.00,267.8 357.13,267.8 357.31,267.7 357.37,267.7 357.50,267.3 357.61,266.6 357.64,266.3 357.90,261.9 357.93,261.2 358.00,259.5 358.10,257.2 358.18,255.8 358.30,254.8 358.33,254.9 358.50,257.2 358.58,259.0 358.70,261.9 358.90,265.7 358.96,266.5 359.00,266.9 359.14,267.7 359.29,268.1 359.38,268.2 359.50,268.2 359.62,268.2 359.86,268.3 360.00,268.3 360.18,268.2 360.20,268.1 360.23,267.9 360.30,266.3 360.38,261.2 360.44,256.2 360.50,253.8 360.56,256.2 360.58,257.8 360.62,261.2 360.63,262.0 360.70,266.2 360.80,268.0 360.95,268.2 361.00,268.2 361.19,268.2 361.43,268.2 361.50,268.2 361.67,268.3 361.85,268.4 361.91,268.4 362.00,268.4 362.23,268.5 362.25,268.5 362.50,268.3 362.51,268.3 362.57,268.2 362.63,268.0 362.81,267.1 362.84,266.9 363.00,265.0 363.05,264.1 363.10,263.2 363.20,261.3 363.29,259.7 363.30,259.6 363.50,257.8 363.53,257.8 363.60,258.3 363.70,259.6 363.85,262.3 363.90,263.2 363.92,263.6 364.00,264.9 364.16,266.7 364.25,267.3 364.40,267.8 364.49,267.9 364.50,267.9 364.52,267.9 364.64,268.0 364.88,268.0 364.92,268.0 365.00,268.0 365.20,267.6 365.24,267.1 365.30,265.0 365.38,258.0 365.44,251.0 365.48,248.1 365.50,247.7 365.56,251.0 365.60,255.5 365.62,257.9 365.70,264.9 365.72,265.9 365.80,267.5 365.96,267.8 366.00,267.8 366.20,268.0 366.50,268.1 366.52,268.1 366.73,268.1 366.92,268.0 367.00,268.0 367.13,267.9 367.20,267.7 367.30,265.3 367.38,258.8 367.44,252.4 367.45,251.5 367.50,249.3 367.56,252.3 367.62,258.7 367.69,264.6 367.70,265.1 367.80,267.4 367.93,267.6 368.00,267.7 368.01,267.7 368.17,267.6 368.34,267.1 368.41,266.7 368.50,266.1 368.60,265.1 368.73,263.6 368.80,262.9 369.00,261.8 369.10,262.1 369.13,262.3 369.20,262.9 369.40,265.2 369.50,266.1 369.51,266.2 369.66,267.1 369.82,267.1 369.84,267.0 369.99,266.1 370.00,266.0 370.06,265.4 370.10,265.0 370.30,262.7 370.50,261.7 370.54,261.7 370.61,262.1 370.70,262.9 370.78,263.8 370.90,265.2 371.00,266.3 371.01,266.4 371.10,267.1 371.16,267.4 371.33,268.0 371.49,268.2 371.50,268.2 371.57,268.2 371.61,268.1 371.81,267.9 371.94,267.5 372.00,267.2 372.05,266.9 372.20,265.7 372.29,264.8 372.40,263.8 372.50,263.2 372.56,263.0 372.60,262.9 372.61,262.9 372.80,263.9 372.96,265.4 373.00,265.8 373.01,265.9 373.26,267.6 373.28,267.7 373.50,268.1 373.52,268.1 373.59,268.2 373.76,268.2 374.00,268.2 374.01,268.2 374.24,267.9 374.34,267.5 374.49,266.5 374.50,266.4 374.56,265.8 374.60,265.3 374.80,263.0 374.89,262.3 374.96,261.9 375.00,261.9 375.20,262.9 375.21,263.0 375.40,265.0 375.45,265.5 375.50,266.0 375.66,267.1 375.69,267.3 375.93,267.9 375.99,267.9 376.00,267.9 376.01,267.9 376.03,267.9 376.17,267.8 376.34,266.9 376.43,266.0 376.49,265.2 376.50,265.0 376.60,263.4 376.75,260.5 376.80,259.7 376.89,258.5 376.99,257.9 377.00,257.8 377.20,259.6 377.23,260.1 377.29,261.2 377.40,263.3 377.47,264.6 377.50,265.0 377.66,267.0 377.69,267.2 377.71,267.3 377.99,268.2 378.00,268.2 378.01,268.2 378.03,268.2 378.25,268.2 378.43,268.2 378.49,268.2 378.50,268.2 378.73,268.2 378.97,268.3 379.00,268.3 379.01,268.3 379.13,268.2 379.29,267.6 379.34,267.2 379.50,265.5 379.53,265.1 379.60,263.9 379.69,262.4 379.80,260.5 379.85,259.8 380.00,258.8 380.09,259.1 380.20,260.4 380.33,262.5 380.40,263.7 380.50,265.3 380.56,266.1 380.57,266.2 380.66,267.1 380.81,268.0 380.96,268.4 380.99,268.4 381.00,268.4 381.13,268.5 381.28,268.5 381.50,268.4 381.52,268.4 381.53,268.4 381.76,268.4 382.00,268.3 382.01,268.3 382.24,267.9 382.34,267.4 382.50,265.9 382.56,265.1 382.60,264.5 382.80,261.5 382.86,260.8 382.96,260.1 383.00,260.0 383.20,261.5 383.26,262.3 383.40,264.5 383.50,265.9 383.58,266.8 383.66,267.4 383.82,268.2 383.99,268.5 384.00,268.5 384.06,268.5 384.30,268.6 384.34,268.6 384.50,268.7 384.54,268.7 384.74,268.7 384.86,268.6 385.00,268.5 385.01,268.5 385.06,268.4 385.26,267.9 385.30,267.7 385.34,267.5 385.50,266.2 385.54,265.8 385.60,265.1 385.78,263.0 385.80,262.8 386.00,261.8 386.02,261.8 386.20,263.1 386.34,264.7 386.40,265.5 386.50,266.5 386.66,267.7 386.72,268.0 386.74,268.0 386.96,268.4 386.99,268.4 387.00,268.4 387.20,268.3 387.44,268.4 387.50,268.4 387.68,268.5 387.91,268.6 388.00,268.6 388.31,268.6 388.40,268.5 388.50,268.4 388.63,268.3 388.87,268.0 389.00,267.9 389.11,267.7 389.15,267.6 389.20,267.3 389.30,262.7 389.35,255.8 389.38,249.9 389.44,237.3 389.50,231.3 389.55,235.6 389.56,237.3 389.59,243.5 389.62,250.0 389.70,262.8 389.80,267.4 389.87,267.8 389.91,267.9 390.00,268.0 390.01,268.0 390.11,268.0 390.31,267.9 390.34,267.9 390.35,267.8 390.50,267.4 390.59,267.1 390.60,267.0 390.80,266.1 390.83,266.0 390.87,265.9 391.00,265.7 391.15,266.1 391.20,266.3 391.27,266.6 391.40,267.3 391.50,267.8 391.55,267.9 391.59,268.1 391.66,268.2 391.83,268.4 391.99,268.4 392.00,268.5 392.01,268.5 392.07,268.5 392.16,268.4 392.31,268.2 392.34,268.1 392.50,267.5 392.55,267.2 392.56,267.1 392.60,266.9 392.80,265.5 392.87,265.1 392.88,265.1 393.00,264.8 393.12,265.0 393.20,265.4 393.27,265.9 393.36,266.5 393.40,266.8 393.50,267.5 393.60,268.0 393.66,268.3 393.84,268.7 393.99,268.9 394.00,268.9 394.14,269.0 394.16,269.0 394.50,269.0 394.54,269.0 394.56,269.0 394.86,268.8 395.00,268.7 395.01,268.7 395.10,268.6 395.34,268.3 395.35,268.3 395.50,268.0 395.58,267.7 395.60,267.7 395.75,267.2 395.80,267.0 395.82,267.0 396.00,266.7 396.07,266.7 396.14,266.8 396.20,267.0 396.31,267.3 396.40,267.6 396.50,267.9 396.54,268.1 396.55,268.1 396.66,268.3 396.79,268.6 396.99,268.8 397.00,268.8 397.03,268.8 397.17,268.9 397.35,269.0 397.50,269.0 397.57,269.1 397.75,269.0 397.89,269.0 398.00,268.9 398.01,268.9 398.13,268.9 398.34,268.6 398.37,268.5 398.45,268.3 398.50,268.1 398.60,267.7 398.61,267.6 398.80,266.8 398.85,266.6 399.00,266.3 399.17,266.6 399.20,266.7 399.40,267.5 399.41,267.6 399.50,267.9 399.57,268.1 399.65,268.3 399.66,268.4 399.89,268.7 399.99,268.8 400.00,268.8 400.13,268.9 400.27,269.0 400.45,269.0 400.50,269.0 400.51,269.0 400.67,268.8 400.84,268.3 400.85,268.2 400.99,267.4 401.00,267.3 401.10,266.4 401.23,265.1 401.30,264.5 401.47,263.6 401.50,263.6 401.70,264.5 401.71,264.6 401.90,266.4 401.95,266.9 402.00,267.3 402.01,267.4 402.16,268.2 402.27,268.5 402.34,268.6 402.49,268.4 402.50,268.3 402.60,268.0 402.67,267.7 402.80,267.2 402.99,266.7 403.00,266.7 403.20,267.0 403.23,267.1 403.40,267.7 403.47,267.9 403.50,268.0 403.59,268.3 403.66,268.4 403.71,268.5 403.95,268.9 403.99,268.9 404.00,268.9 404.01,268.9 404.27,268.8 404.31,268.7 404.34,268.6 404.50,268.2 404.55,268.0 404.60,267.8 404.67,267.5 404.79,267.0 404.80,267.0 405.00,266.7 405.03,266.7 405.20,267.2 405.27,267.5 405.40,268.0 405.50,268.4 405.57,268.7 405.59,268.7 405.66,268.9 405.97,269.2 405.99,269.2 406.00,269.2 406.29,269.2 406.50,269.1 406.53,269.1 406.77,269.1 407.00,269.1 407.01,269.1 407.25,269.1 407.26,269.1 407.34,269.0 407.50,268.8 407.57,268.7 407.60,268.6 407.66,268.5 407.80,268.1 407.97,267.8 407.98,267.8 408.00,267.8 408.20,267.9 408.22,267.9 408.40,268.3 408.46,268.4 408.50,268.5 408.66,268.8 408.70,268.8 408.94,269.0 408.99,269.0 409.00,269.0 409.20,269.1 409.26,269.1 409.50,269.1 409.60,269.1 409.66,269.0 409.92,268.9 410.00,268.8 410.16,268.6 410.20,268.5 410.30,266.5 410.38,261.0 410.40,259.1 410.44,255.6 410.50,253.0 410.56,255.6 410.62,261.0 410.64,262.8 410.70,266.5 410.80,268.5 410.88,268.8 411.00,268.9 411.10,268.9 411.20,268.9 411.42,268.9 411.50,268.9 411.60,268.9 411.66,268.8 411.90,268.8 412.00,268.8 412.01,268.8 412.14,268.9 412.34,268.9 412.38,268.9 412.50,268.7 412.60,268.6 412.66,268.4 412.70,268.4 412.80,268.1 413.00,268.0 413.06,268.0 413.10,268.0 413.20,268.2 413.38,268.5 413.40,268.6 413.50,268.7 413.62,268.9 413.66,268.9 413.86,269.0 413.99,269.0 414.00,269.0 414.01,269.1 414.10,269.1 414.34,268.9 414.40,268.8 414.50,268.5 414.60,268.2 414.66,267.9 414.80,267.3 415.00,266.9 415.06,266.9 415.12,267.0 415.20,267.2 415.36,267.8 415.40,267.9 415.50,268.3 415.60,268.5 415.66,268.7 415.84,269.0 415.99,269.1 416.00,269.1 416.08,269.2 416.25,269.3 416.40,269.3 416.50,269.3 416.65,269.3 416.80,269.3 416.97,269.2 417.00,269.2 417.01,269.2 417.21,269.0 417.34,268.9 417.45,268.7 417.50,268.7 417.60,268.6 417.69,268.4 417.80,268.3 417.84,268.3 417.93,268.3 418.00,268.3 418.20,268.6 418.24,268.6 418.25,268.6 418.40,268.9 418.50,269.1 418.56,269.1 418.65,269.2 418.66,269.2 418.80,269.2 418.99,269.2 419.00,269.2 419.04,269.3 419.28,269.3 419.41,269.3 419.50,269.4 419.52,269.4 419.81,269.4 419.84,269.4 420.00,269.4 420.13,269.3 420.24,269.3 420.37,269.3 420.50,269.2 420.61,269.2 420.85,269.2 421.00,269.3 421.09,269.3 421.41,269.3 421.50,269.3 421.66,269.3 421.81,269.2 422.00,269.1 422.06,269.1 422.20,268.8 422.30,266.9 422.38,261.5 422.44,256.1 422.50,253.6 422.56,256.1 422.62,261.4 422.70,266.7 422.80,268.6 422.86,268.8 423.00,268.9 423.10,269.0 423.34,269.1 423.50,269.3 423.66,269.3 423.74,269.4 424.00,269.4 424.01,269.4 424.06,269.4 424.14,269.4 424.34,269.3 424.46,269.1 424.50,269.1 424.60,268.9 424.70,268.7 424.80,268.5 424.94,268.3 425.00,268.4 425.18,268.5 425.20,268.6 425.23,268.6 425.40,269.0 425.42,269.0 425.50,269.1 425.63,269.3 425.66,269.3 425.74,269.4 425.95,269.4 425.99,269.3 426.00,269.3 426.14,269.3 426.19,269.3 426.43,269.2 426.50,269.2 426.67,269.3 426.91,269.4 427.00,269.4 427.01,269.4 427.23,269.5 427.34,269.5 427.50,269.4 427.56,269.3 427.60,269.3 427.63,269.3 427.80,269.1 427.96,269.0 428.00,268.9 428.20,269.0 428.28,269.0 428.40,269.1 428.50,269.2 428.52,269.2 428.66,269.2 428.76,269.2 428.99,269.3 429.00,269.3 429.24,269.5 429.25,269.5 429.50,269.5 429.56,269.5 429.65,269.5 429.96,269.4 429.97,269.4 430.00,269.4 430.21,269.3 430.45,269.2 430.50,269.2 430.69,269.3 430.93,269.4 431.00,269.5 431.01,269.5 431.02,269.5 431.25,269.6 431.34,269.6 431.42,269.6 431.50,269.6 431.60,269.5 431.65,269.5 431.74,269.5 431.80,269.4 431.98,269.4 432.00,269.4 432.20,269.4 432.22,269.4 432.40,269.5 432.46,269.5 432.50,269.5 432.66,269.6 432.70,269.6 432.99,269.7 433.00,269.7 433.02,269.7 433.07,269.7 433.42,269.7 433.47,269.7 433.50,269.7 433.79,269.6 434.00,269.5 434.03,269.5 434.27,269.4 434.50,269.5 434.51,269.5 434.62,269.5 434.75,269.6 435.00,269.6 435.02,269.6 435.07,269.6 435.34,269.6 435.47,269.6 435.50,269.6 435.58,269.6 435.82,269.6 435.92,269.6 436.00,269.6 436.06,269.6 436.30,269.6 436.32,269.6 436.50,269.6 436.62,269.5 436.64,269.5 436.71,269.4 436.88,269.1 437.00,268.6 437.02,268.5 437.04,268.4 437.12,267.8 437.30,265.8 437.36,265.0 437.50,263.2 437.60,262.3 437.70,261.9 437.90,263.3 437.92,263.5 438.00,264.6 438.01,264.7 438.10,266.0 438.32,268.3 438.36,268.6 438.41,268.8 438.50,269.2 438.69,269.4 438.73,269.4 438.97,269.3 439.00,269.3 439.21,269.3 439.45,269.4 439.50,269.4 439.69,269.5 440.00,269.7 440.01,269.7 440.29,269.8 440.41,269.8 440.50,269.8 440.69,269.8 441.00,269.7 441.01,269.7 441.25,269.6 441.49,269.5 441.50,269.5 441.73,269.6 441.77,269.6 441.97,269.6 442.00,269.7 442.17,269.7 442.29,269.7 442.49,269.6 442.50,269.6 442.69,269.6 442.73,269.6 442.97,269.5 443.00,269.5 443.21,269.5 443.40,269.6 443.45,269.6 443.50,269.7 443.77,269.7 443.80,269.7 444.00,269.7 444.12,269.7 444.17,269.7 444.36,269.6 444.50,269.6 444.60,269.6 444.84,269.6 445.00,269.6 445.01,269.6 445.08,269.7 445.34,269.6 445.37,269.6 445.40,269.6 445.50,269.5 445.60,269.4 445.77,269.1 445.80,269.1 446.00,268.9 446.09,269.0 446.20,269.0 446.33,269.2 446.40,269.3 446.50,269.4 446.57,269.4 446.66,269.5 446.81,269.6 446.99,269.7 447.00,269.7 447.05,269.7 447.19,269.7 447.37,269.7 447.50,269.7 447.59,269.7 447.77,269.6 447.91,269.5 448.00,269.5 448.15,269.4 448.39,269.3 448.50,269.3 448.63,269.4 448.87,269.5 449.00,269.6 449.05,269.6 449.19,269.7 449.45,269.7 449.50,269.7 449.59,269.7 449.77,269.7 450.00,269.6 450.01,269.6 450.25,269.6 450.49,269.6 450.50,269.6 450.73,269.7 451.00,269.7 451.05,269.7 451.38,269.7 451.45,269.7 451.50,269.7 451.78,269.7 452.00,269.7 452.10,269.6 452.34,269.6 452.50,269.5 452.58,269.5 452.82,269.6 453.00,269.6 453.06,269.6 453.38,269.7 453.50,269.7 453.60,269.7 453.78,269.7 454.00,269.7 454.32,269.6 454.50,269.5 454.56,269.5 454.80,269.5 455.00,269.5 455.04,269.5 455.26,269.6 455.28,269.6 455.50,269.6 455.60,269.6 455.66,269.6 455.98,269.5 456.00,269.5 456.22,269.3 456.46,269.2 456.50,269.2 456.70,269.3 456.94,269.5 457.00,269.5 457.26,269.6 457.50,269.7 457.55,269.7 457.66,269.7 457.95,269.7 458.00,269.6 458.27,269.6 458.50,269.5 458.51,269.5 458.75,269.4 458.99,269.5 459.00,269.5 459.01,269.5 459.23,269.5 459.34,269.4 459.50,269.3 459.55,269.2 459.60,269.1 459.61,269.1 459.80,268.7 459.95,268.5 460.00,268.5 460.01,268.5 460.20,268.7 460.33,268.9 460.40,269.0 460.50,269.2 460.57,269.3 460.66,269.4 460.81,269.5 460.99,269.5 461.00,269.6 461.05,269.6 461.29,269.6 461.36,269.6 461.50,269.6 461.61,269.6 461.76,269.6 462.00,269.6 462.01,269.6 462.08,269.6 462.32,269.5 462.50,269.5 462.56,269.5 462.80,269.5 463.00,269.6 463.04,269.6 463.36,269.6 463.50,269.7 463.74,269.7 463.76,269.7 464.00,269.6 464.14,269.6 464.46,269.5 464.50,269.5 464.70,269.4 464.94,269.4 465.00,269.4 465.11,269.4 465.18,269.4 465.42,269.5 465.50,269.5 465.51,269.5 465.74,269.5 465.83,269.4 466.00,269.3 466.07,269.3 466.14,269.3 466.31,269.2 466.50,269.3 466.55,269.3 466.79,269.4 467.00,269.6 467.11,269.6 467.31,269.6 467.50,269.6 467.51,269.6 467.71,269.6 468.00,269.6 468.03,269.6 468.27,269.5 468.50,269.5 468.51,269.5 468.75,269.5 468.99,269.6 469.00,269.6 469.01,269.6 469.31,269.5 469.34,269.5 469.39,269.5 469.50,269.4 469.60,269.2 469.71,269.1 469.80,268.9 469.95,268.8 470.00,268.8 470.19,268.8 470.20,268.8 470.40,269.1 470.43,269.1 470.50,269.2 470.66,269.4 470.67,269.4 470.99,269.6 471.00,269.6 471.35,269.6 471.39,269.6 471.50,269.6 471.75,269.6 472.00,269.6 472.07,269.5 472.31,269.5 472.50,269.5 472.55,269.5 472.79,269.5 472.87,269.5 473.00,269.5 473.03,269.5 473.27,269.5 473.35,269.5 473.50,269.4 473.59,269.4 473.75,269.3 473.83,269.2 474.00,269.2 474.07,269.2 474.31,269.2 474.49,269.3 474.50,269.3 474.55,269.4 474.87,269.5 474.89,269.5 475.00,269.5 475.21,269.4 475.27,269.3 475.45,269.2 475.50,269.2 475.69,269.1 475.82,269.1 475.93,269.2 476.00,269.2 476.17,269.3 476.22,269.4 476.49,269.4 476.50,269.4 476.54,269.4 476.78,269.4 476.89,269.4 477.00,269.4 477.02,269.4 477.25,269.4 477.26,269.4 477.50,269.5 477.65,269.5 477.82,269.5 477.97,269.5 478.00,269.5 478.21,269.4 478.22,269.4 478.45,269.4 478.50,269.4 478.69,269.4 478.93,269.5 479.00,269.5 479.01,269.5 479.17,269.5 479.25,269.5 479.34,269.5 479.50,269.4 479.57,269.3 479.60,269.2 479.65,269.2 479.80,269.0 479.89,268.9 480.00,268.8 480.13,268.8 480.20,268.8 480.37,269.0 480.40,269.0 480.50,269.1 480.61,269.2 480.66,269.3 480.85,269.4 480.99,269.5 481.00,269.5 481.15,269.5 481.17,269.5 481.50,269.5 481.55,269.5 481.57,269.5 481.87,269.4 482.00,269.4 482.11,269.4 482.35,269.3 482.50,269.3 482.59,269.4 482.83,269.4 483.00,269.5 483.15,269.5 483.49,269.5 483.50,269.5 483.55,269.5 483.89,269.5 484.00,269.5 484.21,269.4 484.45,269.3 484.50,269.3 484.69,269.3 484.93,269.3 484.95,269.3 485.00,269.3 485.17,269.4 485.35,269.4 485.49,269.4 485.50,269.4 485.67,269.4 485.89,269.3 485.91,269.2 486.00,269.2 486.01,269.2 486.15,269.1 486.34,269.0 486.39,269.0 486.50,268.8 486.52,268.8 486.60,268.6 486.63,268.5 486.80,268.2 486.92,268.0 486.95,267.9 487.00,267.9 487.20,268.1 487.24,268.2 487.35,268.5 487.40,268.6 487.48,268.8 487.50,268.8 487.66,269.0 487.72,269.1 487.96,269.3 487.99,269.3 488.00,269.3 488.14,269.3 488.20,269.4 488.50,269.4 488.52,269.4 488.54,269.4 488.86,269.4 488.92,269.4 489.00,269.4 489.10,269.3 489.34,269.3 489.50,269.3 489.58,269.3 489.82,269.4 490.00,269.4 490.14,269.4 490.35,269.3 490.50,269.2 490.51,269.2 490.54,269.2 490.75,268.7 490.84,268.2 491.00,266.7 491.07,265.8 491.10,265.4 491.30,262.6 491.31,262.5 491.50,261.2 491.55,261.3 491.70,262.5 491.79,263.6 491.90,265.1 492.00,266.3 492.03,266.6 492.16,267.5 492.20,267.5 492.30,265.0 492.33,262.7 492.35,260.6 492.38,256.9 492.44,248.8 492.49,245.1 492.50,245.0 492.56,248.9 492.62,257.1 492.70,265.4 492.73,266.9 492.75,267.6 492.80,268.3 493.00,268.6 493.01,268.6 493.05,268.5 493.29,268.0 493.34,267.7 493.50,266.6 493.53,266.3 493.60,265.6 493.77,263.8 493.80,263.5 494.00,262.6 494.01,262.6 494.20,263.9 494.33,265.4 494.40,266.2 494.50,267.3 494.55,267.7 494.66,268.4 494.73,268.8 494.95,269.2 494.99,269.2 495.00,269.3 495.27,269.3 495.50,269.3 495.51,269.3 495.75,269.2 495.99,269.3 496.00,269.3 496.23,269.3 496.50,269.4 496.55,269.4 496.95,269.5 497.00,269.5 497.35,269.4 497.50,269.4 497.67,269.3 497.91,269.2 498.00,269.2 498.15,269.2 498.39,269.2 498.50,269.2 498.63,269.3 498.95,269.4 499.00,269.4 499.01,269.4 499.03,269.4 499.34,269.4 499.35,269.3 499.43,269.3 499.50,269.2 499.60,269.1 499.75,268.9 499.80,268.9 499.99,268.7 500.00,268.7 500.20,268.7 500.23,268.8 500.40,268.9 500.47,269.0 500.50,269.0 500.66,269.2 500.71,269.2 500.77,269.3 500.99,269.4 501.00,269.4 501.03,269.4 501.17,269.4 501.43,269.4 501.49,269.4 501.50,269.3 501.73,269.3 501.97,269.3 502.00,269.3 502.21,269.3 502.45,269.4 502.50,269.4 502.65,269.4 502.77,269.4 503.00,269.4 503.05,269.4 503.17,269.4 503.37,269.4 503.50,269.3 503.61,269.3 503.85,269.3 504.00,269.3 504.01,269.3 504.09,269.3 504.33,269.2 504.34,269.2 504.50,269.1 504.60,269.0 504.65,268.9 504.67,268.8 504.80,268.6 505.00,268.5 505.05,268.5 505.07,268.5 505.20,268.5 505.39,268.7 505.40,268.7 505.50,268.8 505.63,268.9 505.66,268.9 505.87,268.9 505.99,269.0 506.00,269.0 506.11,269.0 506.35,269.2 506.50,269.3 506.56,269.3 506.67,269.3 506.96,269.3 507.00,269.3 507.07,269.3 507.28,269.2 507.50,269.1 507.52,269.0 507.76,269.0 508.00,269.0 508.24,269.2" fill="none" stroke="#727272" stroke-width="0.8" stroke-opacity="1" stroke-linejoin="round"/>
<path d="M66.00,287.8 66.01,287.7 66.20,287.5 66.34,287.4 66.50,287.2 66.52,287.2 66.60,287.1 66.76,287.0 66.80,287.0 67.00,286.8 67.20,286.5 67.24,286.5 67.40,286.4 67.48,286.3 67.50,284.7 67.66,284.8 67.67,284.8 67.80,284.7 67.99,284.3 68.00,284.2 68.07,284.0 68.20,282.7 68.30,273.0 68.38,246.6 68.39,242.2 68.44,220.5 68.50,208.0 68.56,220.3 68.62,246.1 68.63,250.4 68.70,272.2 68.80,281.5 68.87,282.3 69.00,282.6 69.11,282.7 69.35,283.0 69.43,283.0 69.50,283.1 69.67,283.1 69.83,283.0 70.00,282.9 70.01,282.8 70.07,282.8 70.15,282.8 70.34,282.4 70.39,282.3 70.50,281.9 70.60,281.5 70.63,281.3 70.80,280.5 70.87,280.3 71.00,280.3 71.11,280.5 71.20,280.8 71.34,281.5 71.40,281.9 71.43,282.0 71.50,282.3 71.66,282.8 71.74,283.0 71.83,283.0 71.99,283.1 72.00,283.1 72.01,283.1 72.06,283.0 72.30,282.8 72.34,282.7 72.50,282.3 72.54,282.2 72.60,281.9 72.78,281.3 72.80,281.2 73.00,280.9 73.02,280.7 73.15,280.9 73.20,281.0 73.34,281.4 73.40,281.6 73.50,281.9 73.55,282.0 73.66,282.1 73.74,282.1 73.87,282.1 73.99,281.9 74.00,281.9 74.11,281.6 74.35,281.0 74.50,280.7 74.59,280.5 74.83,279.8 75.00,279.2 75.15,278.3 75.20,277.0 75.30,261.7 75.38,219.5 75.44,177.8 75.50,157.8 75.55,172.0 75.56,177.6 75.62,219.3 75.70,261.3 75.80,276.4 76.00,278.3 76.02,278.3 76.26,279.0 76.50,279.5 76.74,279.9 76.87,280.1 76.98,280.2 77.00,280.2 77.01,280.2 77.27,280.4 77.30,280.4 77.34,280.3 77.50,280.1 77.59,279.9 77.60,279.9 77.70,279.6 77.80,279.4 77.83,279.3 78.00,279.4 78.07,279.4 78.20,279.7 78.31,280.0 78.40,280.3 78.50,280.6 78.55,280.7 78.66,281.0 78.87,281.2 78.99,281.2 79.00,281.3 79.04,281.3 79.27,281.4 79.44,281.5 79.50,281.5 79.76,281.6 80.00,281.6 80.24,281.6 80.29,281.7 80.48,281.8 80.50,281.9 80.69,282.1 80.72,282.1 81.00,282.2 81.01,282.2 81.04,282.2 81.25,282.1 81.44,282.2 81.49,282.2 81.50,282.2 81.73,282.4 81.97,282.7 82.00,282.8 82.29,283.0 82.50,283.0 82.64,283.0 82.69,283.0 83.00,282.8 83.04,282.8 83.20,282.4 83.30,279.1 83.36,272.9 83.38,270.0 83.44,261.0 83.50,256.7 83.56,260.9 83.60,266.8 83.62,269.9 83.70,279.0 83.80,282.2 83.84,282.5 84.00,282.8 84.08,282.9 84.32,283.2 84.50,283.4 84.58,283.5 84.64,283.6 84.98,283.8 85.00,283.8 85.01,283.8 85.04,283.8 85.30,283.8 85.34,283.8 85.50,283.7 85.54,283.6 85.60,283.6 85.78,283.3 85.80,283.3 86.00,283.3 86.02,283.3 86.20,283.6 86.26,283.7 86.40,283.9 86.50,284.1 86.52,284.1 86.58,284.2 86.66,284.3 86.76,284.3 86.98,284.4 86.99,284.4 87.00,284.4 87.07,284.4 87.24,284.6 87.47,284.7 87.48,284.8 87.50,284.8 87.51,284.8 87.79,284.8 87.80,284.8 87.84,284.8 88.00,284.6 88.03,284.6 88.10,284.4 88.20,284.2 88.27,284.1 88.30,284.0 88.50,283.8 88.51,283.8 88.56,283.9 88.70,284.1 88.75,284.2 88.90,284.6 88.96,284.7 89.00,284.8 89.07,284.9 89.16,285.0 89.28,285.1 89.47,285.1 89.49,285.1 89.50,285.1 89.52,285.1 89.76,285.1 90.00,285.1 90.01,285.1 90.24,285.1 90.32,285.0 90.34,285.0 90.50,284.8 90.56,284.7 90.60,284.6 90.72,284.3 90.80,284.1 90.96,283.9 91.00,283.9 91.04,283.9 91.20,284.0 91.28,284.1 91.40,284.3 91.50,284.5 91.52,284.6 91.66,284.8 91.76,284.9 91.99,285.1 92.00,285.1 92.32,285.2 92.50,285.2 92.51,285.2 92.53,285.2 92.72,285.1 92.84,285.0 92.93,284.9 93.00,284.8 93.10,284.5 93.25,284.1 93.30,284.0 93.49,283.7 93.50,283.7 93.70,283.9 93.73,283.9 93.90,284.3 93.97,284.5 94.00,284.6 94.16,284.9 94.21,285.0 94.49,285.2 94.50,285.2 94.53,285.2 94.90,285.2 94.93,285.2 95.00,285.2 95.01,285.2 95.22,285.0 95.34,284.9 95.46,284.6 95.50,284.6 95.60,284.3 95.70,284.1 95.80,283.9 95.94,283.7 96.00,283.7 96.18,284.0 96.20,284.0 96.40,284.6 96.49,284.8 96.50,284.8 96.66,285.0 96.89,285.1 96.90,285.1 96.99,285.1 97.00,285.1 97.21,285.1 97.45,284.9 97.50,284.9 97.69,284.9 97.93,284.9 98.00,284.9 98.03,285.0 98.17,285.0 98.43,285.0 98.49,285.0 98.50,285.0 98.51,284.9 98.75,284.5 98.84,284.2 98.89,284.0 98.99,283.4 99.00,283.3 99.10,282.6 99.23,281.6 99.30,281.1 99.47,280.5 99.50,280.5 99.70,281.4 99.71,281.4 99.90,283.0 100.00,283.7 100.03,283.8 100.16,284.5 100.42,284.9 100.43,284.9 100.49,284.9 100.50,284.9 100.51,284.9 100.82,284.1 100.84,284.0 101.00,282.6 101.10,281.4 101.14,280.9 101.30,278.8 101.38,278.0 101.50,277.5 101.62,277.9 101.70,278.6 101.86,280.7 101.90,281.2 102.00,282.3 102.01,282.4 102.10,283.2 102.16,283.6 102.34,283.9 102.42,283.6 102.47,283.4 102.49,283.3 102.50,283.2 102.60,282.5 102.80,280.8 102.82,280.6 102.87,280.3 103.00,279.9 103.19,280.6 103.20,280.7 103.40,282.3 103.43,282.6 103.50,283.1 103.51,283.1 103.66,283.8 103.67,283.9 103.84,284.0 103.91,283.8 103.95,283.7 103.99,283.5 104.00,283.4 104.10,282.9 104.15,282.5 104.30,281.5 104.35,281.3 104.47,280.9 104.50,280.9 104.67,281.3 104.70,281.5 104.87,282.6 104.90,282.8 104.91,282.9 105.00,283.4 105.01,283.5 105.15,284.1 105.16,284.1 105.23,284.2 105.34,284.3 105.39,284.3 105.49,284.1 105.50,284.1 105.60,283.8 105.63,283.7 105.80,283.1 105.95,282.7 106.00,282.7 106.19,282.9 106.20,282.9 106.35,283.4 106.40,283.5 106.43,283.6 106.50,283.9 106.66,284.3 106.67,284.3 106.91,284.7 106.99,284.7 107.00,284.8 107.23,284.8 107.31,284.8 107.50,284.8 107.51,284.8 107.63,284.6 107.84,284.4 107.87,284.3 108.00,284.1 108.10,284.0 108.11,283.9 108.30,283.7 108.35,283.7 108.50,283.7 108.58,283.7 108.59,283.8 108.70,283.9 108.90,284.3 108.91,284.3 108.98,284.4 109.00,284.4 109.16,284.5 109.30,284.5 109.31,284.5 109.49,284.4 109.50,284.4 109.54,284.3 109.78,284.2 110.00,284.3 110.01,284.3 110.02,284.3 110.26,284.4 110.34,284.5 110.50,284.4 110.58,284.4 110.60,284.3 110.79,284.1 110.80,284.1 110.98,284.0 111.00,284.0 111.19,284.1 111.20,284.1 111.40,284.3 111.50,284.4 111.51,284.4 111.66,284.5 111.75,284.5 111.99,284.6 112.00,284.6 112.01,284.6 112.23,284.5 112.24,284.5 112.34,284.5 112.47,284.4 112.50,284.4 112.60,284.3 112.64,284.2 112.79,284.0 112.80,284.0 112.96,283.7 113.00,283.7 113.19,283.6 113.20,283.6 113.40,283.7 113.44,283.8 113.50,283.8 113.66,284.0 113.68,284.0 113.92,284.3 113.99,284.3 114.00,284.3 114.01,284.3 114.24,284.4 114.41,284.4 114.50,284.4 114.64,284.3 114.73,284.2 114.97,284.0 115.00,284.0 115.21,283.9 115.45,283.9 115.50,284.0 115.69,284.1 116.00,284.2 116.01,284.2 116.09,284.2 116.34,284.1 116.41,284.0 116.50,283.8 116.60,283.6 116.65,283.5 116.80,283.1 116.89,282.9 117.00,282.9 117.13,283.0 117.20,283.1 117.37,283.4 117.40,283.5 117.50,283.7 117.64,283.9 117.66,283.9 117.69,284.0 117.99,284.0 118.00,284.0 118.04,284.0 118.09,284.0 118.36,283.8 118.50,283.6 118.51,283.6 118.60,283.5 118.84,283.2 119.00,282.9 119.08,282.7 119.10,282.6 119.16,282.5 119.30,282.1 119.32,282.0 119.50,281.9 119.56,281.9 119.64,282.1 119.70,282.2 119.88,282.8 119.90,282.8 120.00,283.1 120.04,283.2 120.12,283.3 120.16,283.4 120.36,283.6 120.49,283.6 120.50,283.6 120.60,283.6 120.76,283.6 120.84,283.6 121.00,283.6 121.01,283.6 121.16,283.5 121.34,283.4 121.48,283.2 121.50,283.1 121.56,283.0 121.60,283.0 121.72,282.7 121.80,282.6 121.96,282.4 122.00,282.4 122.20,282.6 122.40,282.9 122.44,283.0 122.50,283.1 122.66,283.3 122.76,283.3 122.87,283.4 122.99,283.4 123.00,283.4 123.01,283.4 123.16,283.3 123.27,283.2 123.34,283.2 123.50,282.9 123.59,282.7 123.60,282.6 123.80,282.1 123.83,282.1 124.00,281.8 124.07,281.9 124.20,282.0 124.31,282.3 124.37,282.4 124.40,282.5 124.50,282.7 124.55,282.8 124.66,283.0 124.77,283.0 124.87,283.1 124.99,283.1 125.00,283.1 125.09,283.1 125.27,283.0 125.33,283.0 125.50,282.9 125.57,282.9 125.64,282.9 125.81,282.9 126.00,282.9 126.04,282.9 126.05,282.9 126.36,282.7 126.37,282.7 126.50,282.6 126.60,282.5 126.77,282.4 126.84,282.4 127.00,282.4 127.05,282.4 127.08,282.5 127.32,282.6 127.45,282.6 127.50,282.6 127.64,282.6 127.77,282.6 128.00,282.4 128.01,282.4 128.04,282.4 128.25,282.2 128.34,282.2 128.49,282.0 128.50,282.0 128.60,281.9 128.73,281.7 128.79,281.6 128.80,281.6 129.00,281.4 129.05,281.4 129.19,281.6 129.20,281.6 129.40,281.9 129.45,282.0 129.50,282.1 129.51,282.1 129.66,282.2 129.75,282.2 129.99,282.2 130.00,282.2 130.01,282.2 130.23,282.1 130.34,282.0 130.47,281.7 130.50,281.6 130.60,281.2 130.79,280.4 130.80,280.4 130.87,280.2 131.00,280.0 131.19,280.4 131.20,280.4 131.27,280.7 131.40,281.2 131.50,281.6 131.59,281.8 131.66,282.0 131.83,282.2 131.99,282.2 132.00,282.2 132.07,282.2 132.31,282.3 132.50,282.3 132.55,282.3 132.84,282.4 132.87,282.4 133.00,282.4 133.01,282.4 133.24,282.4 133.27,282.3 133.34,282.3 133.50,282.2 133.56,282.2 133.60,282.1 133.80,281.9 134.00,281.8 134.04,281.8 134.20,281.9 134.28,282.0 134.40,282.1 134.50,282.2 134.52,282.2 134.55,282.2 134.66,282.3 134.84,282.3 134.95,282.3 134.99,282.3 135.00,282.3 135.24,282.3 135.27,282.3 135.50,282.2 135.51,282.2 135.75,282.1 135.99,282.1 136.00,282.1 136.01,282.1 136.07,282.2 136.23,282.1 136.34,282.0 136.47,281.8 136.50,281.8 136.55,281.7 136.60,281.5 136.79,281.0 136.80,280.9 136.95,280.6 137.00,280.5 137.03,280.5 137.20,280.6 137.27,280.8 137.40,281.1 137.50,281.4 137.51,281.4 137.66,281.7 137.75,281.9 137.99,282.1 138.00,282.2 138.07,282.2 138.23,282.2 138.47,282.2 138.50,282.2 138.63,282.2 138.95,282.1 139.00,282.1 139.01,282.1 139.19,281.9 139.34,281.7 139.43,281.5 139.50,281.3 139.60,280.9 139.67,280.7 139.80,280.2 139.91,280.0 140.00,279.9 140.20,280.3 140.23,280.4 140.40,281.1 140.50,281.5 140.63,281.8 140.66,281.9 140.90,282.1 140.99,282.1 141.00,282.1 141.22,282.0 141.46,281.8 141.50,281.8 141.70,281.7 141.94,281.7 142.00,281.7 142.17,281.6 142.18,281.6 142.50,281.4 142.57,281.3 142.89,280.7 142.90,280.7 143.00,280.5 143.13,280.1 143.20,279.3 143.30,271.6 143.37,253.9 143.38,250.4 143.44,229.5 143.50,219.5 143.56,229.5 143.61,246.9 143.62,250.5 143.70,271.7 143.80,279.5 143.85,280.1 144.00,280.6 144.14,280.9 144.17,281.0 144.50,281.3 144.51,281.3 144.54,281.3 144.57,281.3 144.84,280.8 144.86,280.7 145.00,279.8 145.10,278.9 145.30,277.0 145.34,276.7 145.50,276.2 145.58,276.4 145.70,277.2 145.82,278.4 145.90,279.2 146.00,280.2 146.14,281.1 146.16,281.2 146.49,281.9 146.50,282.0 146.51,282.0 146.53,282.0 146.54,282.0 146.84,281.9 146.93,281.9 147.00,281.8 147.10,281.7 147.25,281.5 147.30,281.5 147.49,281.3 147.50,281.3 147.70,281.4 147.73,281.4 147.90,281.6 147.97,281.7 148.00,281.7 148.04,281.7 148.16,281.8 148.21,281.9 148.44,281.9 148.49,281.9 148.50,281.9 148.53,281.9 148.76,281.8 148.93,281.6 149.00,281.6 149.01,281.6 149.24,281.5 149.34,281.5 149.48,281.5 149.50,281.5 149.60,281.4 149.63,281.4 149.72,281.4 149.80,281.4 150.00,281.4 150.03,281.4 150.04,281.4 150.20,281.5 150.35,281.6 150.40,281.7 150.44,281.7 150.50,281.7 150.59,281.8 150.66,281.8 150.83,281.8 150.92,281.9 150.99,281.9 151.00,281.9 151.07,281.9 151.31,282.1 151.32,282.1 151.50,282.1 151.63,282.1 151.64,282.1 151.88,282.2 152.00,282.2 152.03,282.2 152.12,282.2 152.36,282.2 152.50,282.3 152.60,282.3 152.82,282.4 152.92,282.4 153.00,282.4 153.22,282.4 153.32,282.4 153.50,282.4 153.54,282.4 153.78,282.4 154.00,282.4 154.02,282.4 154.26,282.5 154.50,282.6 154.74,282.7 154.82,282.7 155.00,282.7 155.14,282.7 155.22,282.7 155.46,282.7 155.50,282.7 155.70,282.6 155.94,282.6 156.00,282.6 156.18,282.7 156.42,282.8 156.48,282.9 156.50,282.9 156.74,282.9 156.88,282.9 157.00,282.9 157.14,282.8 157.20,282.8 157.44,282.6 157.50,282.6 157.68,282.6 157.92,282.7 158.00,282.8 158.16,282.9 158.26,283.0 158.48,283.2 158.50,283.2 158.66,283.2 158.88,283.2 158.98,283.2 159.00,283.2 159.22,283.1 159.46,283.0 159.50,283.0 159.70,283.1 159.94,283.3 160.00,283.3 160.26,283.4 160.50,283.5 160.66,283.5 160.90,283.5 161.00,283.5 161.22,283.4 161.46,283.4 161.50,283.3 161.70,283.3 161.89,283.3 161.94,283.3 162.00,283.4 162.01,283.4 162.18,283.4 162.29,283.4 162.34,283.4 162.50,283.3 162.60,283.2 162.61,283.2 162.80,283.1 162.85,283.0 162.90,283.0 163.00,283.0 163.09,282.9 163.20,283.0 163.33,283.0 163.40,283.1 163.50,283.2 163.57,283.3 163.66,283.3 163.89,283.5 163.99,283.5 164.00,283.5 164.07,283.5 164.29,283.5 164.47,283.5 164.50,283.5 164.79,283.4 165.00,283.4 165.03,283.3 165.27,283.3 165.50,283.3 165.51,283.3 165.61,283.3 165.75,283.3 165.90,283.2 165.94,283.1 166.00,283.0 166.07,282.8 166.20,282.3 166.22,282.2 166.40,281.5 166.46,281.3 166.47,281.3 166.50,281.2 166.60,281.0 166.70,281.1 166.80,281.4 166.94,282.0 167.00,282.2 167.18,282.9 167.26,283.1 167.50,283.4 167.59,283.5 167.83,283.5 167.90,283.5 168.00,283.5 168.23,283.5 168.50,283.5 168.55,283.5 168.79,283.4 169.00,283.4 169.03,283.4 169.27,283.4 169.50,283.5 169.51,283.5 169.83,283.6 170.00,283.6 170.17,283.6 170.23,283.6 170.50,283.5 170.57,283.5 170.89,283.3 171.00,283.2 171.01,283.2 171.13,283.1 171.34,283.0 171.37,283.0 171.50,283.1 171.60,283.1 171.61,283.1 171.80,283.2 171.85,283.2 172.00,283.3 172.09,283.4 172.17,283.4 172.20,283.4 172.40,283.5 172.49,283.5 172.50,283.5 172.57,283.5 172.66,283.5 172.81,283.4 172.99,283.4 173.00,283.4 173.05,283.3 173.29,283.3 173.42,283.3 173.50,283.3 173.53,283.3 173.77,283.4 173.82,283.4 174.00,283.5 174.09,283.5 174.14,283.5 174.31,283.4 174.38,283.4 174.49,283.2 174.50,283.2 174.62,282.9 174.64,282.8 174.86,281.6 174.90,281.3 175.00,280.5 175.10,279.7 175.30,279.0 175.42,279.3 175.50,279.8 175.70,281.4 175.77,281.9 175.82,282.2 175.96,282.9 176.00,283.1 176.17,283.4 176.29,283.5 176.49,283.5 176.50,283.5 176.73,283.4 176.97,283.4 177.00,283.4 177.21,283.4 177.45,283.5 177.50,283.5 177.77,283.6 177.82,283.6 178.00,283.6 178.17,283.6 178.22,283.6 178.50,283.6 178.54,283.5 178.78,283.5 179.00,283.4 179.02,283.4 179.26,283.5 179.50,283.6 179.82,283.6 180.00,283.7 180.01,283.6 180.22,283.6 180.41,283.5 180.50,283.5 180.73,283.3 180.97,283.2 181.00,283.1 181.21,283.0 181.45,283.0 181.50,283.0 181.56,283.0 181.69,283.0 181.96,282.9 182.00,282.9 182.01,282.9 182.20,282.4 182.28,279.9 182.30,278.5 182.38,267.7 182.41,262.1 182.44,257.0 182.50,251.8 182.52,252.5 182.56,256.9 182.62,267.6 182.70,278.4 182.76,281.6 182.80,282.3 183.00,282.9 183.24,283.1 183.50,283.3 183.56,283.3 183.62,283.4 183.96,283.5 184.00,283.5 184.02,283.5 184.34,283.5 184.50,283.5 184.58,283.5 184.82,283.5 185.00,283.6 185.06,283.6 185.10,283.6 185.30,283.6 185.50,283.6 185.62,283.6 185.82,283.5 186.00,283.4 186.02,283.4 186.06,283.4 186.30,283.3 186.50,283.4 186.54,283.4 186.78,283.5 187.00,283.6 187.10,283.6 187.31,283.6 187.32,283.6 187.50,283.4 187.64,283.1 187.72,282.7 187.90,281.6 188.00,280.8 188.04,280.4 188.10,280.0 188.28,279.2 188.30,279.1 188.50,279.8 188.52,279.9 188.70,281.3 188.76,281.8 188.86,282.4 188.96,282.9 189.00,283.0 189.26,283.5 189.29,283.5 189.32,283.5 189.50,283.5 189.58,283.4 189.72,283.3 189.82,283.3 190.00,283.2 190.06,283.2 190.30,283.3 190.50,283.4 190.54,283.5 190.70,283.6 190.86,283.7 191.00,283.7 191.02,283.7 191.26,283.7 191.50,283.7 191.74,283.7 191.82,283.7 191.98,283.7 192.00,283.7 192.22,283.7 192.30,283.7 192.50,283.6 192.54,283.6 192.70,283.5 192.78,283.5 193.00,283.5 193.02,283.5 193.10,283.5 193.26,283.5 193.50,283.6 193.82,283.7 194.00,283.6 194.06,283.6 194.22,283.6 194.30,283.6 194.50,283.6 194.54,283.6 194.74,283.7 194.78,283.7 195.00,283.7 195.10,283.5 195.14,283.5 195.46,282.8 195.50,282.8 195.70,282.3 195.94,281.9 196.00,281.8 196.10,281.6 196.18,281.5 196.42,281.2 196.50,281.1 196.74,280.6 196.82,280.4 197.00,279.9 197.06,279.8 197.14,279.5 197.20,279.0 197.30,274.4 197.38,262.0 197.44,249.7 197.50,243.8 197.54,246.5 197.56,249.6 197.62,261.7 197.70,273.9 197.78,278.0 197.80,278.3 198.00,278.7 198.10,278.9 198.37,279.6 198.50,279.8 198.77,280.3 199.00,280.6 199.09,280.6 199.33,280.9 199.50,281.0 199.57,281.2 199.81,281.6 200.00,282.2 200.05,282.2 200.35,282.4 200.37,282.4 200.50,282.5 200.75,282.5 200.77,282.5 201.00,282.4 201.07,282.3 201.31,282.2 201.50,282.1 201.55,282.1 201.79,282.2 202.00,282.3 202.01,282.3 202.03,282.3 202.25,282.4 202.34,282.4 202.35,282.4 202.50,282.4 202.60,282.3 202.65,282.2 202.75,282.1 202.80,282.0 202.97,281.9 203.00,281.9 203.20,282.0 203.21,282.0 203.40,282.2 203.45,282.2 203.50,282.3 203.66,282.4 203.69,282.4 203.90,282.5 203.93,282.5 203.99,282.5 204.00,282.5 204.22,282.6 204.25,282.6 204.46,282.6 204.50,282.6 204.65,282.6 204.70,282.6 204.94,282.6 205.00,282.6 205.01,282.6 205.18,282.6 205.34,282.6 205.50,282.6 205.60,282.6 205.79,282.5 205.80,282.5 205.90,282.5 206.00,282.5 206.19,282.5 206.20,282.5 206.40,282.5 206.50,282.4 206.51,282.4 206.66,282.4 206.75,282.3 206.99,282.3 207.00,282.3 207.23,282.4 207.47,282.5 207.50,282.6 207.79,282.7 208.00,282.7 208.01,282.7 208.14,282.7 208.19,282.7 208.34,282.7 208.50,282.5 208.54,282.5 208.60,282.4 208.80,282.1 208.86,282.0 209.00,281.9 209.10,281.9 209.20,282.0 209.34,282.2 209.40,282.3 209.50,282.5 209.58,282.6 209.66,282.6 209.82,282.7 209.99,282.8 210.00,282.8 210.11,282.8 210.14,282.8 210.50,282.8 210.51,282.8 210.54,282.8 210.83,282.7 211.00,282.6 211.01,282.6 211.07,282.6 211.31,282.4 211.34,282.4 211.50,282.1 211.55,282.1 211.60,282.0 211.79,281.6 211.80,281.6 212.00,281.4 212.11,281.5 212.18,281.7 212.20,281.7 212.40,282.2 212.50,282.5 212.51,282.5 212.58,282.6 212.66,282.7 212.90,282.8 212.99,282.8 213.00,282.8 213.14,282.7 213.38,282.7 213.50,282.7 213.62,282.8 213.86,282.9 214.00,282.9 214.18,282.8 214.50,282.6 214.58,282.6 214.98,282.2 215.00,282.2 215.30,281.3 215.50,280.9 215.54,280.9 215.78,280.4 216.00,279.9 216.02,279.8 216.26,279.7 216.44,279.4 216.50,279.3 216.58,279.1 216.84,278.2 216.98,277.5 217.00,277.4 217.16,275.6 217.20,273.4 217.30,242.9 217.38,158.0 217.40,129.2 217.44,74.1 217.50,34.0 217.56,74.2 217.62,158.3 217.64,185.2 217.70,243.3 217.80,274.1 217.88,277.4 218.00,278.7 218.12,279.6 218.44,281.8 218.50,282.1 218.72,283.1 218.84,283.6 219.00,284.1 219.12,284.3 219.44,284.6 219.50,284.6 219.68,284.7 219.92,284.7 220.00,285.2 220.16,285.3 220.40,285.5 220.50,285.5 220.72,285.6 220.76,285.6 221.00,285.7 221.12,285.6 221.16,285.6 221.48,285.5 221.50,285.4 221.72,285.3 221.96,285.2 222.00,285.2 222.20,285.3 222.44,285.5 222.50,285.5 222.76,285.6 223.00,285.7 223.06,285.7 223.16,285.7 223.46,285.7 223.50,285.7 223.78,285.6 224.00,285.5 224.01,285.5 224.02,285.5 224.26,285.4 224.34,285.4 224.50,285.4 224.60,285.4 224.74,285.4 224.80,285.4 225.00,285.4 225.06,285.5 225.08,285.5 225.20,285.5 225.40,285.6 225.46,285.6 225.48,285.6 225.50,285.6 225.66,285.5 225.80,285.4 225.99,285.3 226.00,285.3 226.04,285.2 226.28,285.1 226.50,285.2 226.52,285.2 226.76,285.4 227.00,285.6 227.08,285.6 227.33,285.7 227.48,285.7 227.50,285.7 227.73,285.7 228.00,285.6 228.05,285.5 228.29,285.4 228.50,285.4 228.53,285.4 228.77,285.4 229.00,285.5 229.01,285.6 229.33,285.7 229.48,285.7 229.50,285.7 229.73,285.7 229.88,285.6 230.00,285.6 230.20,285.4 230.44,285.3 230.50,285.2 230.68,285.2 230.92,285.3 231.00,285.3 231.16,285.4 231.37,285.6 231.48,285.6 231.50,285.6 231.77,285.6 231.88,285.6 232.00,285.5 232.09,285.5 232.33,285.4 232.50,285.3 232.57,285.3 232.81,285.4 233.00,285.5 233.02,285.5 233.05,285.5 233.37,285.6 233.42,285.6 233.50,285.6 233.74,285.5 233.77,285.5 233.98,285.4 234.00,285.4 234.01,285.4 234.22,285.3 234.34,285.3 234.46,285.3 234.50,285.3 234.60,285.4 234.70,285.4 234.80,285.4 234.95,285.4 235.00,285.4 235.02,285.4 235.20,285.5 235.35,285.6 235.40,285.6 235.42,285.6 235.50,285.6 235.66,285.6 235.67,285.6 235.91,285.6 235.99,285.6 236.00,285.6 236.15,285.6 236.39,285.6 236.50,285.6 236.63,285.6 236.92,285.7 236.95,285.7 237.00,285.7 237.32,285.6 237.35,285.6 237.50,285.5 237.64,285.4 237.88,285.2 238.00,285.1 238.12,285.1 238.36,285.2 238.50,285.3 238.60,285.4 238.92,285.6 239.00,285.6 239.18,285.7 239.32,285.7 239.50,285.7 239.58,285.6 239.90,285.5 240.00,285.4 240.14,285.3 240.38,285.2 240.50,285.3 240.62,285.3 240.84,285.5 240.86,285.5 241.00,285.5 241.18,285.6 241.24,285.6 241.50,285.5 241.56,285.5 241.58,285.5 241.80,285.3 242.00,285.2 242.04,285.2 242.28,285.3 242.50,285.5 242.52,285.5 242.74,285.6 242.84,285.6 243.00,285.7 243.14,285.6 243.24,285.6 243.46,285.5 243.50,285.5 243.70,285.4 243.94,285.4 244.00,285.4 244.18,285.4 244.42,285.5 244.50,285.6 244.74,285.7 244.95,285.7 245.00,285.7 245.14,285.7 245.35,285.7 245.50,285.6 245.67,285.6 245.91,285.5 246.00,285.5 246.01,285.5 246.15,285.5 246.34,285.3 246.39,285.2 246.50,285.0 246.60,284.8 246.63,284.7 246.80,284.2 246.95,284.0 247.00,284.0 247.05,284.0 247.20,284.2 247.35,284.7 247.40,284.8 247.41,284.8 247.45,284.9 247.50,285.0 247.66,285.1 247.74,285.1 247.77,285.0 247.99,284.3 248.00,284.2 248.01,284.2 248.20,283.3 248.25,283.1 248.40,282.9 248.49,283.0 248.50,283.0 248.60,283.4 248.73,284.0 248.80,284.3 248.97,285.0 249.00,285.1 249.05,285.2 249.06,285.2 249.37,285.5 249.39,285.5 249.45,285.5 249.50,285.5 249.69,285.4 249.93,285.3 250.00,285.3 250.17,285.3 250.41,285.3 250.45,285.3 250.50,285.4 250.65,285.4 250.85,285.5 250.97,285.5 251.00,285.5 251.17,285.4 251.37,285.3 251.41,285.2 251.50,285.2 251.65,285.2 251.89,285.2 252.00,285.3 252.13,285.4 252.24,285.4 252.45,285.5 252.50,285.5 252.64,285.5 252.85,285.5 252.96,285.4 253.00,285.4 253.20,285.2 253.44,285.2 253.50,285.2 253.68,285.2 253.92,285.4 254.00,285.4 254.01,285.4 254.24,285.5 254.34,285.5 254.50,285.4 254.55,285.3 254.60,285.3 254.64,285.2 254.80,285.1 254.95,285.0 255.00,285.0 255.20,285.0 255.27,285.0 255.40,285.1 255.50,285.2 255.51,285.2 255.66,285.3 255.75,285.3 255.76,285.3 255.99,285.3 256.00,285.3 256.16,285.4 256.23,285.4 256.48,285.4 256.50,285.4 256.55,285.4 256.72,285.3 256.95,285.3 256.96,285.3 257.00,285.3 257.20,285.3 257.44,285.4 257.50,285.4 257.76,285.5 257.77,285.5 258.00,285.5 258.16,285.5 258.17,285.5 258.49,285.4 258.50,285.4 258.73,285.3 258.97,285.3 259.00,285.3 259.18,285.3 259.21,285.3 259.45,285.4 259.50,285.4 259.58,285.4 259.77,285.3 259.90,285.2 260.00,285.1 260.14,285.0 260.17,285.0 260.38,284.9 260.50,284.9 260.62,285.0 260.86,285.2 261.00,285.3 261.01,285.3 261.17,285.3 261.18,285.3 261.34,285.2 261.50,284.9 261.57,284.8 261.58,284.7 261.60,284.7 261.80,284.1 261.89,283.9 262.00,283.8 262.13,283.8 262.20,283.9 262.37,284.3 262.40,284.4 262.50,284.6 262.61,284.9 262.66,285.0 262.85,285.2 262.99,285.3 263.00,285.3 263.17,285.3 263.44,285.4 263.50,285.4 263.57,285.4 263.84,285.3 264.00,285.3 264.01,285.3 264.16,285.2 264.34,285.0 264.40,284.9 264.50,284.7 264.60,284.4 264.64,284.3 264.80,284.0 264.88,283.9 265.00,283.8 265.12,284.0 265.20,284.1 265.40,284.6 265.44,284.7 265.50,284.8 265.66,285.1 265.84,285.2 265.99,285.2 266.00,285.2 266.16,285.2 266.40,285.1 266.50,285.1 266.64,285.1 266.88,285.1 267.00,285.1 267.01,285.1 267.12,285.1 267.16,285.1 267.34,285.0 267.44,284.9 267.50,284.8 267.56,284.6 267.60,284.5 267.80,284.0 267.84,283.9 267.88,283.8 268.00,283.7 268.12,283.7 268.20,283.7 268.36,284.0 268.40,284.1 268.50,284.3 268.60,284.5 268.66,284.6 268.84,284.9 268.99,285.0 269.00,285.0 269.16,285.1 269.45,285.1 269.50,285.1 269.51,285.1 269.56,285.1 269.84,284.8 269.85,284.8 270.00,284.5 270.10,284.1 270.17,283.9 270.30,283.4 270.41,283.1 270.50,283.0 270.65,283.1 270.70,283.2 270.89,283.8 270.90,283.9 271.00,284.2 271.11,284.5 271.13,284.5 271.16,284.6 271.45,284.9 271.49,284.9 271.50,284.9 271.51,284.9 271.83,284.8 271.85,284.8 272.00,284.7 272.01,284.7 272.07,284.6 272.31,283.9 272.34,283.8 272.50,282.7 272.55,282.3 272.60,281.8 272.69,280.9 272.79,279.9 272.80,279.8 273.00,278.9 273.09,279.1 273.11,279.3 273.20,279.9 273.40,282.0 273.41,282.1 273.50,283.0 273.51,283.0 273.65,284.0 273.66,284.0 273.89,284.6 273.99,284.7 274.00,284.7 274.13,284.8 274.37,284.9 274.49,284.9 274.50,284.9 274.69,284.9 274.89,284.9 275.00,284.8 275.01,284.8 275.09,284.7 275.21,284.6 275.34,284.3 275.45,284.0 275.50,283.9 275.60,283.5 275.69,283.2 275.80,282.8 275.93,282.6 276.00,282.6 276.17,283.0 276.20,283.1 276.40,283.9 276.49,284.2 276.50,284.2 276.66,284.6 276.71,284.7 276.89,284.8 276.99,284.8 277.00,284.8 277.11,284.8 277.43,284.7 277.50,284.6 277.51,284.6 277.67,284.4 277.84,284.2 277.91,284.0 278.00,283.8 278.10,283.6 278.15,283.4 278.30,283.0 278.39,282.9 278.50,282.8 278.70,283.2 278.71,283.3 278.90,283.9 279.00,284.2 279.05,284.4 279.11,284.5 279.16,284.6 279.45,284.8 279.49,284.8 279.50,284.8 279.77,284.7 280.00,284.6 280.01,284.6 280.25,284.5 280.45,284.5 280.49,284.5 280.50,284.5 280.51,284.5 280.73,284.3 280.84,284.0 280.85,283.9 281.00,283.1 281.05,282.7 281.10,282.3 281.17,281.7 281.30,280.6 281.41,279.9 281.45,279.8 281.50,279.7 281.65,280.1 281.70,280.5 281.89,282.1 281.90,282.2 281.98,282.8 282.00,283.0 282.13,283.8 282.16,283.9 282.38,284.5 282.45,284.5 282.49,284.6 282.50,284.6 282.70,284.6 282.85,284.5 282.94,284.5 283.00,284.5 283.01,284.5 283.18,284.4 283.34,284.3 283.42,284.1 283.50,284.0 283.60,283.8 283.66,283.6 283.68,283.5 283.80,283.2 283.98,282.9 284.00,282.9 284.08,283.0 284.20,283.2 284.38,283.6 284.40,283.7 284.50,283.9 284.64,284.0 284.66,284.1 284.88,284.2 284.99,284.2 285.00,284.2 285.12,284.3 285.36,284.4 285.47,284.5 285.50,284.5 285.68,284.6 285.87,284.6 286.00,284.5 286.01,284.5 286.08,284.5 286.19,284.4 286.34,284.2 286.43,284.0 286.50,283.9 286.60,283.6 286.67,283.4 286.80,283.0 286.91,282.8 287.00,282.8 287.15,283.0 287.20,283.2 287.40,283.8 287.47,284.0 287.50,284.0 287.66,284.3 287.68,284.3 287.87,284.5 287.99,284.5 288.00,284.5 288.08,284.5 288.40,284.2 288.50,284.2 288.64,284.0 288.88,283.9 289.00,283.9 289.01,283.9 289.12,284.0 289.34,284.0 289.36,284.0 289.42,283.9 289.50,283.8 289.60,283.7 289.68,283.5 289.80,283.2 289.82,283.2 290.00,282.9 290.08,283.0 290.14,283.1 290.20,283.2 290.38,283.6 290.40,283.6 290.50,283.9 290.62,284.1 290.66,284.1 290.86,284.3 290.99,284.3 291.00,284.3 291.06,284.3 291.10,284.3 291.38,284.1 291.42,284.1 291.50,284.0 291.51,284.0 291.62,283.9 291.82,283.6 291.84,283.5 291.86,283.5 291.91,283.4 292.00,283.1 292.10,282.7 292.30,281.9 292.31,281.9 292.34,281.8 292.50,281.5 292.63,281.7 292.66,281.8 292.70,281.9 292.87,282.5 292.90,282.6 293.00,282.9 293.06,283.0 293.11,283.2 293.16,283.2 293.35,283.5 293.49,283.5 293.50,283.5 293.59,283.5 293.79,283.5 293.91,283.4 294.00,283.3 294.19,282.6 294.20,282.5 294.30,276.5 294.31,275.1 294.38,260.0 294.44,243.7 294.50,235.9 294.51,236.1 294.56,243.6 294.62,259.9 294.70,276.4 294.75,280.7 294.80,282.3 294.99,283.1 295.00,283.1 295.23,283.4 295.47,283.6 295.50,283.7 295.79,283.9 295.94,284.0 296.00,284.0 296.01,284.0 296.19,283.9 296.34,283.6 296.50,283.1 296.60,282.5 296.66,282.2 296.80,281.4 296.90,281.0 297.00,280.9 297.14,281.2 297.20,281.4 297.31,282.1 297.38,282.5 297.40,282.6 297.50,283.1 297.62,283.6 297.66,283.7 297.71,283.8 297.94,284.0 297.99,284.0 298.00,284.0 298.03,284.0 298.27,283.9 298.34,283.9 298.50,283.9 298.51,283.9 298.54,283.9 298.75,283.9 298.81,283.8 298.94,283.7 298.99,283.6 299.00,283.6 299.14,283.1 299.26,282.2 299.31,281.8 299.40,280.8 299.50,279.7 299.60,278.6 299.71,277.7 299.74,277.6 299.80,277.5 299.98,278.4 300.00,278.6 300.02,278.8 300.20,280.9 300.22,281.1 300.42,282.9 300.46,283.1 300.50,283.3 300.54,283.5 300.74,283.8 300.79,283.9 300.94,283.9 300.98,283.9 301.00,283.9 301.22,283.8 301.28,283.8 301.46,283.8 301.50,283.8 301.68,283.7 301.70,283.7 302.00,283.5 302.02,283.5 302.20,283.0 302.24,282.5 302.30,280.2 302.38,272.6 302.42,267.5 302.44,265.2 302.48,262.0 302.50,261.6 302.56,265.2 302.62,272.7 302.70,280.2 302.72,281.3 302.80,283.0 302.96,283.5 303.00,283.5 303.01,283.5 303.28,283.7 303.41,283.8 303.50,283.8 303.68,283.8 303.73,283.7 303.97,283.6 304.00,283.6 304.01,283.6 304.21,283.4 304.34,283.2 304.45,282.9 304.50,282.7 304.60,282.3 304.69,281.9 304.80,281.3 305.00,280.9 305.01,280.9 305.20,281.5 305.40,282.5 305.41,282.6 305.50,283.0 305.66,283.4 305.72,283.5 305.96,283.6 305.99,283.6 306.00,283.6 306.20,283.5 306.44,283.6 306.50,283.6 306.68,283.8 306.91,283.8 307.00,283.7 307.24,283.0 307.35,282.2 307.40,281.7 307.50,280.6 307.70,278.1 307.75,277.6 307.90,276.9 308.00,277.1 308.07,277.7 308.10,277.9 308.30,280.2 308.31,280.4 308.50,282.1 308.55,282.5 308.56,282.5 308.79,283.4 308.89,283.5 309.00,283.6 309.01,283.6 309.03,283.6 309.19,283.6 309.34,283.4 309.35,283.3 309.50,282.8 309.51,282.8 309.60,282.3 309.75,281.4 309.80,281.2 309.99,280.6 310.00,280.6 310.20,281.2 310.23,281.3 310.40,282.3 310.47,282.7 310.50,282.8 310.60,283.2 310.66,283.4 310.79,283.7 310.92,283.8 310.99,283.8 311.00,283.8 311.16,283.8 311.19,283.8 311.40,283.8 311.50,283.8 311.51,283.8 311.64,283.7 311.84,283.3 311.88,283.2 311.97,282.8 312.00,282.6 312.10,282.0 312.20,281.3 312.30,280.6 312.37,280.2 312.50,279.9 312.60,280.0 312.69,280.4 312.70,280.4 312.90,281.6 312.93,281.8 313.00,282.2 313.16,282.9 313.17,282.9 313.38,283.3 313.41,283.4 313.49,283.5 313.50,283.5 313.65,283.6 313.78,283.7 313.97,283.7 314.00,283.7 314.10,283.7 314.34,283.6 314.37,283.6 314.50,283.5 314.58,283.5 314.81,283.4 314.82,283.4 315.00,282.9 315.06,282.6 315.14,282.0 315.38,278.4 315.40,278.0 315.50,275.9 315.60,273.9 315.72,272.1 315.78,271.8 315.80,271.7 315.96,273.0 316.00,273.6 316.20,277.6 316.44,281.5 316.46,281.7 316.50,282.1 316.68,283.1 316.79,283.4 316.82,283.4 317.00,283.5 317.01,283.5 317.22,283.3 317.34,282.9 317.40,282.7 317.50,282.2 317.54,281.9 317.60,281.5 317.78,280.1 317.80,280.0 318.00,279.2 318.02,279.2 318.20,279.8 318.26,280.2 318.40,281.1 318.50,281.7 318.66,282.4 318.82,282.6 318.93,282.6 318.99,282.5 319.00,282.5 319.20,281.7 319.22,281.2 319.30,275.2 319.33,270.0 319.38,257.2 319.44,239.4 319.50,230.9 319.56,239.4 319.62,257.1 319.65,265.4 319.70,275.1 319.80,281.5 319.89,282.2 320.00,282.3 320.13,282.5 320.37,282.8 320.50,282.9 320.61,283.0 320.93,283.3 321.00,283.3 321.01,283.3 321.08,283.3 321.33,283.1 321.34,283.1 321.48,282.6 321.50,282.6 321.60,282.1 321.80,281.1 322.00,280.6 322.04,280.6 322.20,280.9 322.28,281.2 322.39,281.8 322.40,281.8 322.50,282.3 322.52,282.4 322.66,282.9 322.76,283.1 322.79,283.1 322.99,283.3 323.00,283.3 323.08,283.3 323.11,283.3 323.35,283.1 323.48,283.0 323.50,283.0 323.51,283.0 323.59,282.9 323.83,282.5 323.84,282.5 324.00,281.8 324.07,281.4 324.10,281.1 324.30,279.7 324.39,279.2 324.45,279.0 324.50,279.0 324.70,279.8 324.79,280.4 324.85,280.9 324.90,281.3 325.00,282.1 325.16,282.8 325.17,282.8 325.41,283.2 325.49,283.2 325.50,283.2 325.65,283.2 325.89,283.2 326.00,283.2 326.13,283.2 326.20,283.2 326.45,283.1 326.50,283.0 326.60,283.0 326.85,282.7 326.92,282.5 327.00,282.4 327.16,282.0 327.20,281.6 327.30,276.4 327.38,262.3 327.40,257.5 327.44,248.3 327.50,241.6 327.56,248.3 327.62,262.3 327.64,266.8 327.70,276.5 327.80,281.7 327.88,282.3 328.00,282.5 328.20,282.7 328.49,283.0 328.50,283.0 328.60,283.0 328.89,283.0 329.00,282.9 329.01,282.9 329.21,282.2 329.34,281.2 329.45,279.6 329.50,278.7 329.60,276.6 329.69,274.4 329.80,271.9 329.93,270.0 330.00,269.8 330.17,271.6 330.20,272.1 330.37,276.2 330.40,276.9 330.49,278.8 330.50,279.0 330.66,281.4 330.77,282.3 330.89,282.8 330.99,282.9 331.00,282.9 331.01,282.9 331.09,282.9 331.33,282.4 331.34,282.4 331.50,281.7 331.57,281.3 331.60,281.2 331.80,280.1 331.81,280.0 332.00,279.6 332.05,279.7 332.20,280.4 332.37,281.5 332.40,281.7 332.50,282.2 332.53,282.4 332.66,282.9 332.77,283.1 332.93,283.2 332.99,283.2 333.00,283.2 333.25,283.0 333.49,282.7 333.50,282.7 333.51,282.6 333.73,281.8 333.84,280.9 333.97,279.1 334.00,278.6 334.10,276.5 334.21,274.0 334.28,272.4 334.30,272.0 334.50,269.9 334.53,269.9 334.68,271.8 334.70,272.1 334.90,276.7 334.93,277.4 335.00,278.7 335.01,278.9 335.16,280.9 335.24,281.4 335.34,281.6 335.48,281.1 335.49,281.0 335.50,281.0 335.60,280.2 335.72,279.2 335.73,279.1 335.80,278.5 335.96,277.7 336.00,277.7 336.13,278.1 336.20,278.6 336.28,279.3 336.40,280.5 336.45,280.9 336.50,281.3 336.66,282.1 336.68,282.2 336.69,282.3 336.93,282.7 336.99,282.7 337.00,282.7 337.17,282.8 337.41,282.9 337.50,283.0 337.73,283.0 337.91,283.0 338.00,282.9 338.13,282.8 338.20,282.5 338.30,279.9 338.31,279.3 338.38,272.5 338.44,265.3 338.50,261.8 338.56,265.2 338.62,272.4 338.63,273.6 338.70,279.6 338.80,282.2 338.87,282.4 339.00,282.4 339.11,282.5 339.35,282.6 339.50,282.7 339.59,282.8 339.91,282.9 339.97,282.9 340.00,282.9 340.20,282.6 340.30,280.5 340.31,280.0 340.37,275.5 340.38,274.6 340.44,268.7 340.50,265.9 340.56,268.7 340.62,274.5 340.69,279.9 340.70,280.4 340.80,282.6 340.93,282.8 341.00,282.8 341.17,282.9 341.41,283.0 341.50,283.0 341.65,283.1 341.97,283.2 342.00,283.2 342.01,283.2 342.25,282.9 342.34,282.7 342.37,282.5 342.50,281.9 342.60,281.1 342.65,280.7 342.80,279.5 342.97,278.7 343.00,278.7 343.20,279.2 343.21,279.3 343.40,280.7 343.45,281.0 343.50,281.3 343.66,282.2 343.69,282.3 343.93,282.9 343.99,283.0 344.00,283.0 344.01,283.0 344.25,283.0 344.34,282.8 344.50,282.2 344.60,281.7 344.63,281.5 344.65,281.4 344.80,280.5 345.00,279.9 345.03,279.9 345.20,280.4 345.35,281.2 345.40,281.5 345.50,281.9 345.59,282.3 345.66,282.5 345.83,282.7 345.99,282.9 346.00,282.9 346.07,282.9 346.31,283.0 346.50,283.1 346.63,283.1 346.77,283.1 347.00,283.0 347.03,283.0 347.17,282.8 347.20,282.7 347.30,280.8 347.38,275.5 347.44,270.3 347.49,267.9 347.50,267.9 347.56,270.3 347.62,275.5 347.70,280.7 347.73,281.6 347.80,282.5 347.97,282.7 348.00,282.7 348.21,282.8 348.45,283.0 348.50,283.0 348.77,283.1 349.00,283.1 349.01,283.1 349.07,283.0 349.17,282.8 349.34,282.0 349.47,280.8 349.50,280.5 349.60,279.1 349.79,276.3 349.80,276.1 350.00,274.6 350.03,274.6 350.20,275.8 350.27,276.8 350.40,278.7 350.50,280.1 350.51,280.2 350.66,281.7 350.68,281.8 350.75,282.2 350.99,282.9 351.00,282.9 351.07,283.0 351.08,283.0 351.40,283.0 351.47,282.9 351.50,282.9 351.64,282.9 351.88,282.7 352.00,282.7 352.12,282.6 352.20,282.4 352.30,279.8 352.36,274.8 352.38,272.5 352.41,268.8 352.44,265.3 352.50,261.9 352.56,265.4 352.62,272.6 352.68,278.5 352.70,279.8 352.80,282.4 352.81,282.5 353.00,282.7 353.08,282.7 353.13,282.7 353.37,282.7 353.50,282.7 353.61,282.7 353.85,282.8 354.00,282.8 354.01,282.8 354.09,282.8 354.34,282.4 354.41,282.0 354.50,281.5 354.54,281.1 354.60,280.6 354.80,278.8 354.81,278.7 354.94,278.0 355.00,277.9 355.20,278.7 355.26,279.2 355.40,280.5 355.50,281.2 355.66,282.1 355.74,282.4 355.77,282.5 355.98,282.7 355.99,282.8 356.00,282.8 356.01,282.8 356.17,282.7 356.22,282.6 356.34,282.2 356.49,281.3 356.50,281.2 356.54,280.9 356.60,280.3 356.73,279.0 356.80,278.4 356.94,277.6 356.97,277.5 357.00,277.5 357.05,277.5 357.20,278.4 357.21,278.5 357.40,280.4 357.45,280.8 357.50,281.2 357.66,282.2 357.77,282.5 357.99,282.7 358.00,282.7 358.01,282.7 358.17,282.7 358.25,282.7 358.45,282.7 358.49,282.7 358.50,282.7 358.51,282.7 358.73,282.7 358.84,282.6 358.85,282.5 359.00,282.0 359.05,281.8 359.10,281.5 359.17,281.1 359.30,280.3 359.41,279.9 359.45,279.8 359.50,279.7 359.65,280.0 359.70,280.3 359.89,281.4 359.90,281.4 360.00,282.0 360.13,282.5 360.16,282.6 360.45,283.1 360.49,283.1 360.50,283.1 360.60,283.2 360.85,283.2 361.00,283.2 361.01,283.1 361.32,282.8 361.34,282.8 361.50,282.4 361.56,282.1 361.60,282.0 361.80,281.2 361.98,280.8 362.00,280.8 362.04,280.9 362.20,281.2 362.28,281.6 362.38,282.0 362.40,282.0 362.50,282.4 362.60,282.6 362.66,282.7 362.70,282.8 362.94,282.8 362.99,282.8 363.00,282.8 363.18,282.8 363.42,282.9 363.50,282.9 363.66,283.0 363.98,283.1 364.00,283.1 364.01,283.1 364.05,283.1 364.34,282.5 364.38,282.4 364.45,282.0 364.50,281.7 364.60,281.0 364.77,279.6 364.80,279.4 365.00,278.6 365.01,278.6 365.20,279.2 365.25,279.5 365.40,280.7 365.49,281.3 365.50,281.4 365.66,282.3 365.73,282.5 365.99,283.0 366.00,283.0 366.01,283.0 366.05,283.0 366.07,283.0 366.34,282.7 366.45,282.4 366.47,282.3 366.50,282.2 366.60,281.7 366.79,280.7 366.80,280.7 367.00,280.0 367.03,280.0 367.20,280.4 367.27,280.7 367.40,281.3 367.50,281.8 367.51,281.9 367.66,282.4 367.75,282.7 367.86,282.8 367.99,283.0 368.00,283.0 368.07,283.0 368.26,283.0 368.47,282.9 368.50,282.9 368.58,282.9 368.82,282.7 369.00,282.5 369.01,282.5 369.06,282.5 369.17,282.5 369.30,282.4 369.34,282.4 369.50,282.1 369.54,282.0 369.57,281.9 369.60,281.8 369.80,281.2 369.86,281.0 369.89,280.9 370.00,280.8 370.13,281.0 370.20,281.1 370.26,281.3 370.37,281.8 370.40,281.9 370.50,282.2 370.61,282.5 370.66,282.7 370.85,282.9 370.99,283.0 371.00,283.0 371.01,283.0 371.17,282.9 371.34,282.6 371.40,282.4 371.50,281.9 371.57,281.5 371.60,281.3 371.72,280.5 371.80,280.0 371.96,279.3 372.00,279.3 372.20,279.9 372.40,281.2 372.44,281.4 372.50,281.8 372.66,282.5 372.68,282.5 372.99,283.0 373.00,283.0 373.07,283.0 373.40,283.1 373.47,283.0 373.50,283.0 373.79,282.9 374.00,282.7 374.01,282.7 374.03,282.7 374.27,282.4 374.34,282.2 374.50,281.7 374.51,281.7 374.60,281.3 374.75,280.6 374.80,280.3 374.90,280.0 375.00,279.9 375.07,280.0 375.20,280.5 375.30,281.0 375.40,281.5 375.47,281.8 375.50,281.9 375.62,282.3 375.66,282.4 375.86,282.5 375.99,282.5 376.00,282.5 376.10,282.5 376.34,282.6 376.50,282.7 376.58,282.8 376.77,282.9 376.90,283.0 377.00,283.0 377.01,283.0 377.17,282.8 377.30,282.5 377.34,282.4 377.49,281.7 377.50,281.6 377.60,280.9 377.73,279.9 377.80,279.5 377.97,278.8 378.00,278.7 378.20,279.5 378.21,279.5 378.40,280.9 378.43,281.2 378.45,281.3 378.50,281.6 378.66,282.4 378.77,282.7 378.83,282.7 378.99,282.8 379.00,282.8 379.01,282.8 379.15,282.7 379.17,282.7 379.34,282.3 379.39,282.2 379.50,281.9 379.60,281.5 379.63,281.4 379.80,280.9 379.87,280.7 380.00,280.6 380.11,280.8 380.20,281.1 380.40,282.0 380.43,282.1 380.50,282.3 380.66,282.7 380.71,282.8 380.83,282.9 380.99,283.0 381.00,283.0 381.11,283.0 381.43,282.9 381.50,282.9 381.67,282.9 381.91,282.8 382.00,282.8 382.01,282.8 382.15,282.7 382.34,282.5 382.39,282.4 382.50,282.0 382.60,281.5 382.71,280.9 382.80,280.5 382.93,280.1 383.00,280.0 383.11,280.1 383.20,280.5 383.33,281.1 383.40,281.5 383.50,281.9 383.65,282.3 383.66,282.3 383.89,282.4 383.99,282.4 384.00,282.4 384.13,282.4 384.37,282.5 384.50,282.6 384.61,282.7 384.76,282.8 384.93,282.9 385.00,282.9 385.01,282.9 385.16,282.8 385.33,282.6 385.34,282.5 385.48,282.1 385.50,282.0 385.60,281.5 385.72,280.9 385.80,280.6 385.96,280.1 386.00,280.1 386.20,280.6 386.40,281.6 386.44,281.8 386.50,282.0 386.60,282.3 386.66,282.5 386.76,282.6 386.92,282.7 386.99,282.7 387.00,282.7 387.16,282.7 387.40,282.6 387.50,282.6 387.64,282.7 387.88,282.8 388.00,282.8 388.01,282.8 388.20,282.8 388.21,282.8 388.41,282.4 388.50,282.1 388.54,281.9 388.60,281.5 388.73,280.2 388.80,279.4 388.97,277.2 389.00,276.8 389.20,275.6 389.21,275.6 389.24,275.6 389.40,276.8 389.45,277.4 389.50,278.0 389.60,279.3 389.64,279.8 389.69,280.3 389.86,281.6 389.96,282.0 390.00,282.1 390.01,282.2 390.19,282.3 390.20,282.3 390.34,282.2 390.41,282.1 390.44,282.1 390.50,282.0 390.60,281.9 390.68,281.8 390.80,281.7 390.92,281.7 391.00,281.7 391.06,281.8 391.20,282.0 391.24,282.1 391.40,282.4 391.46,282.5 391.50,282.6 391.64,282.7 391.66,282.8 391.78,282.8 391.99,282.7 392.00,282.7 392.01,282.7 392.02,282.7 392.26,282.5 392.34,282.4 392.50,282.1 392.60,281.8 392.74,281.4 392.80,281.2 393.00,280.9 393.06,281.0 393.20,281.3 393.22,281.4 393.40,282.0 393.46,282.2 393.50,282.4 393.62,282.6 393.66,282.7 393.94,282.8 393.99,282.8 394.00,282.8 394.18,282.7 394.42,282.6 394.50,282.6 394.51,282.6 394.66,282.5 394.84,282.3 394.90,282.1 395.00,281.6 395.01,281.6 395.10,281.0 395.22,280.2 395.30,279.6 395.41,279.1 395.50,278.9 395.62,279.1 395.70,279.5 395.73,279.7 395.90,280.8 395.97,281.2 396.00,281.4 396.16,282.0 396.21,282.2 396.29,282.4 396.45,282.6 396.49,282.6 396.50,282.6 396.51,282.6 396.69,282.6 396.84,282.4 397.00,281.8 397.01,281.8 397.10,281.3 397.25,280.4 397.30,280.2 397.41,279.7 397.49,279.6 397.50,279.6 397.70,280.2 397.73,280.4 397.90,281.4 397.97,281.8 397.99,281.9 398.00,282.0 398.16,282.6 398.29,282.8 398.39,282.9 398.49,282.9 398.50,282.9 398.69,282.9 398.71,282.8 398.95,282.6 399.00,282.6 399.01,282.6 399.19,282.5 399.34,282.5 399.43,282.4 399.50,282.4 399.60,282.3 399.67,282.2 399.80,282.0 399.99,281.9 400.00,281.9 400.20,282.2 400.29,282.3 400.39,282.6 400.40,282.6 400.50,282.8 400.66,283.0 400.69,283.0 400.99,283.0 401.00,283.0 401.01,283.0 401.25,282.6 401.34,282.3 401.49,281.5 401.50,281.4 401.60,280.7 401.73,279.6 401.80,279.1 401.97,278.4 402.00,278.4 402.06,278.5 402.20,279.3 402.29,280.0 402.40,280.9 402.46,281.4 402.50,281.7 402.66,282.5 402.69,282.6 402.78,282.8 402.99,283.0 403.00,283.0 403.02,283.0 403.26,283.1 403.50,283.1 403.74,283.2 403.78,283.2 404.00,283.2 404.01,283.2 404.06,283.2 404.18,283.1 404.34,282.9 404.46,282.7 404.50,282.6 404.60,282.3 404.74,281.9 404.80,281.8 404.98,281.5 405.00,281.5 405.20,281.8 405.22,281.8 405.40,282.4 405.46,282.6 405.50,282.7 405.66,283.0 405.78,283.1 405.99,283.3 406.00,283.3 406.06,283.3 406.18,283.3 406.46,283.3 406.50,283.3 406.78,283.1 407.00,283.0 407.01,283.0 407.02,283.0 407.26,282.8 407.34,282.7 407.50,282.3 407.60,282.0 407.64,281.8 407.74,281.4 407.80,281.2 408.00,280.9 408.04,280.9 408.06,281.0 408.20,281.3 408.36,281.9 408.40,282.1 408.46,282.3 408.50,282.4 408.60,282.7 408.66,282.8 408.84,283.0 408.99,283.1 409.00,283.1 409.08,283.1 409.32,283.2 409.50,283.3 409.58,283.3 409.64,283.3 409.91,283.1 409.98,283.0 410.00,283.0 410.04,282.9 410.24,281.9 410.30,281.3 410.50,278.6 410.54,278.0 410.70,275.5 410.78,274.5 410.90,273.9 410.94,274.0 411.00,274.4 411.02,274.6 411.10,275.6 411.26,278.1 411.30,278.8 411.34,279.4 411.50,281.4 411.56,281.8 411.58,282.0 411.66,282.4 411.89,282.8 411.90,282.8 411.98,282.8 412.00,282.8 412.01,282.8 412.14,282.8 412.17,282.8 412.34,282.7 412.38,282.7 412.50,282.6 412.57,282.5 412.60,282.4 412.62,282.4 412.80,282.0 412.89,281.9 412.94,281.8 413.00,281.8 413.13,281.9 413.20,282.0 413.34,282.4 413.37,282.5 413.40,282.5 413.50,282.8 413.61,283.0 413.64,283.1 413.66,283.1 413.85,283.3 413.99,283.3 414.00,283.3 414.04,283.3 414.17,283.3 414.36,283.2 414.50,283.2 414.57,283.1 414.60,283.1 414.84,283.0 415.00,283.1 415.08,283.1 415.23,283.2 415.32,283.3 415.50,283.3 415.51,283.4 415.63,283.4 415.64,283.4 415.84,283.2 415.95,283.1 416.00,283.0 416.04,282.9 416.10,282.8 416.19,282.6 416.30,282.4 416.43,282.2 416.50,282.2 416.67,282.4 416.70,282.4 416.90,282.9 416.91,282.9 417.00,283.1 417.01,283.1 417.16,283.2 417.17,283.2 417.23,283.2 417.34,283.1 417.49,282.7 417.50,282.7 417.57,282.4 417.60,282.3 417.63,282.1 417.80,281.4 417.89,281.1 418.00,280.9 418.13,281.1 418.20,281.3 418.37,282.0 418.40,282.2 418.50,282.6 418.61,282.9 418.66,283.1 418.85,283.4 418.99,283.5 419.00,283.5 419.17,283.5 419.25,283.5 419.50,283.6 419.57,283.6 419.65,283.6 419.97,283.5 420.00,283.5 420.21,283.5 420.45,283.4 420.50,283.4 420.69,283.5 420.93,283.5 421.00,283.5 421.06,283.5 421.25,283.5 421.31,283.5 421.46,283.5 421.50,283.4 421.64,283.2 421.65,283.1 421.78,282.7 421.90,282.2 422.00,281.7 422.02,281.6 422.10,281.2 422.26,280.8 422.30,280.8 422.50,281.3 422.70,282.2 422.74,282.4 422.90,283.0 422.96,283.2 423.00,283.2 423.06,283.3 423.22,283.4 423.29,283.4 423.46,283.3 423.50,283.3 423.70,283.3 423.94,283.4 424.00,283.4 424.18,283.5 424.22,283.5 424.50,283.6 424.62,283.6 424.90,283.6 424.94,283.5 425.00,283.5 425.01,283.5 425.18,283.4 425.34,283.3 425.42,283.3 425.50,283.2 425.60,283.1 425.66,283.0 425.80,282.9 425.90,282.9 425.92,282.9 426.00,282.9 426.20,283.1 426.22,283.1 426.32,283.2 426.40,283.3 426.50,283.4 426.62,283.4 426.64,283.4 426.66,283.4 426.88,283.4 426.99,283.4 427.00,283.4 427.12,283.4 427.31,283.4 427.36,283.4 427.50,283.5 427.60,283.6 427.71,283.6 427.92,283.6 428.00,283.6 428.03,283.6 428.27,283.6 428.32,283.6 428.50,283.6 428.51,283.6 428.75,283.6 428.99,283.7 429.00,283.7 429.01,283.7 429.27,283.7 429.31,283.7 429.34,283.6 429.50,283.5 429.60,283.4 429.67,283.2 429.71,283.2 429.80,283.0 429.99,282.8 430.00,282.8 430.20,282.8 430.23,282.8 430.40,283.0 430.47,283.1 430.50,283.1 430.66,283.3 430.71,283.4 430.95,283.6 430.99,283.6 431.00,283.6 431.10,283.7 431.27,283.7 431.50,283.7 431.67,283.7 431.82,283.6 432.00,283.4 432.06,283.4 432.30,283.3 432.50,283.4 432.54,283.4 432.78,283.6 433.00,283.7 433.04,283.8 433.10,283.8 433.44,283.8 433.50,283.8 433.76,283.6 434.00,283.4 434.24,283.4 434.48,283.4 434.50,283.5 434.52,283.5 434.72,283.6 434.92,283.7 435.00,283.7 435.04,283.7 435.24,283.6 435.44,283.5 435.48,283.5 435.50,283.5 435.72,283.4 435.96,283.5 436.00,283.5 436.20,283.6 436.50,283.8 436.52,283.8 436.69,283.8 436.81,283.7 436.92,283.5 437.00,283.2 437.09,282.6 437.14,282.2 437.40,278.4 437.41,278.2 437.50,276.3 437.60,274.4 437.65,273.6 437.80,272.5 437.89,272.9 438.00,274.3 438.13,276.8 438.20,278.2 438.27,279.6 438.37,281.1 438.46,282.1 438.50,282.5 438.67,283.4 438.69,283.4 438.79,283.6 438.99,283.7 439.00,283.7 439.09,283.7 439.23,283.7 439.47,283.7 439.50,283.7 439.71,283.7 439.95,283.8 440.00,283.9 440.27,283.9 440.50,284.0 440.57,284.0 440.67,284.0 440.97,284.0 441.00,284.0 441.29,283.9 441.50,283.8 441.53,283.8 441.77,283.8 442.00,283.8 442.01,283.8 442.25,283.9 442.50,284.0 442.57,284.0 442.97,284.0 443.00,284.0 443.37,283.9 443.50,283.9 443.69,283.7 443.93,283.6 444.00,283.5 444.01,283.5 444.17,283.4 444.33,283.4 444.34,283.4 444.41,283.4 444.50,283.4 444.60,283.4 444.65,283.4 444.73,283.4 444.80,283.4 444.97,283.3 445.00,283.3 445.05,283.4 445.20,283.4 445.29,283.5 445.37,283.5 445.40,283.6 445.50,283.6 445.53,283.6 445.66,283.7 445.77,283.8 445.99,283.9 446.00,283.9 446.01,283.9 446.33,284.0 446.40,284.0 446.50,284.0 446.73,284.0 446.80,284.0 447.00,283.9 447.12,283.9 447.36,283.8 447.50,283.8 447.60,283.8 447.72,283.8 447.84,283.8 448.00,283.8 448.08,283.9 448.12,283.9 448.40,283.8 448.44,283.7 448.50,283.7 448.68,283.6 448.80,283.5 448.92,283.5 449.00,283.5 449.16,283.6 449.40,283.8 449.43,283.8 449.50,283.8 449.72,283.9 449.83,283.9 450.00,283.9 450.12,283.8 450.15,283.8 450.39,283.6 450.50,283.6 450.63,283.5 450.78,283.6 450.87,283.6 451.00,283.7 451.11,283.8 451.18,283.8 451.43,283.8 451.50,283.8 451.74,283.8 451.83,283.7 451.98,283.7 452.00,283.7 452.22,283.8 452.46,283.9 452.50,283.9 452.78,284.0 452.80,284.0 453.00,284.0 453.18,284.0 453.20,284.0 453.50,284.0 453.52,284.0 453.76,283.9 454.00,283.9 454.24,283.9 454.48,284.0 454.50,284.0 454.64,284.0 454.80,283.9 454.96,283.8 455.00,283.8 455.20,283.7 455.44,283.6 455.50,283.6 455.68,283.7 455.92,283.8 456.00,283.9 456.24,284.0 456.50,284.0 456.54,284.0 456.64,284.0 456.94,284.0 457.00,283.9 457.01,283.9 457.26,283.7 457.34,283.5 457.50,283.2 457.60,283.0 457.74,282.7 457.80,282.6 457.87,282.5 457.98,282.5 458.00,282.5 458.20,282.8 458.22,282.9 458.27,283.0 458.40,283.3 458.50,283.5 458.54,283.5 458.59,283.6 458.66,283.7 458.83,283.7 458.94,283.7 458.99,283.7 459.00,283.7 459.07,283.7 459.31,283.7 459.50,283.8 459.55,283.9 459.87,284.0 459.98,284.0 460.00,284.0 460.01,284.0 460.27,283.9 460.34,283.9 460.38,283.8 460.50,283.6 460.60,283.4 460.70,283.2 460.80,283.0 460.94,282.7 461.00,282.7 461.18,282.8 461.20,282.8 461.40,283.2 461.42,283.3 461.50,283.5 461.66,283.7 461.98,284.0 461.99,284.0 462.00,284.0 462.01,284.0 462.38,284.0 462.41,284.0 462.50,284.0 462.73,284.0 462.97,283.9 463.00,283.9 463.21,283.9 463.29,283.9 463.45,283.9 463.50,283.9 463.69,284.0 464.00,284.0 464.01,284.0 464.25,283.9 464.41,283.9 464.49,283.9 464.50,283.9 464.54,283.9 464.73,283.9 464.94,283.9 464.97,283.9 465.00,283.9 465.26,283.9 465.29,283.9 465.50,283.8 465.69,283.7 465.74,283.7 465.98,283.8 466.00,283.8 466.22,283.9 466.35,284.0 466.50,284.0 466.54,284.0 466.75,284.0 466.94,284.0 467.00,283.9 467.07,283.9 467.31,283.8 467.50,283.7 467.55,283.7 467.73,283.7 467.79,283.8 468.00,283.9 468.03,283.9 468.13,283.9 468.35,284.0 468.45,284.0 468.50,283.9 468.69,283.9 468.75,283.9 468.93,283.9 469.00,283.9 469.01,283.9 469.17,283.9 469.34,283.9 469.41,283.8 469.50,283.8 469.57,283.7 469.60,283.7 469.73,283.5 469.80,283.4 469.89,283.3 470.00,283.2 470.13,283.1 470.20,283.1 470.37,283.3 470.40,283.3 470.50,283.4 470.61,283.5 470.66,283.6 470.85,283.8 470.99,283.9 471.00,283.9 471.17,284.0 471.50,284.1 471.56,284.1 471.57,284.1 471.96,284.0 472.00,284.0 472.28,283.8 472.50,283.6 472.52,283.6 472.76,283.5 472.88,283.6 473.00,283.6 473.24,283.8 473.28,283.8 473.50,283.9 473.56,284.0 473.60,284.0 473.84,284.0 473.96,284.0 474.00,284.0 474.08,284.0 474.32,284.0 474.50,284.0 474.56,284.0 474.88,284.1 475.00,284.1 475.22,284.1 475.28,284.1 475.50,284.1 475.62,284.1 475.94,283.9 476.00,283.9 476.18,283.8 476.42,283.8 476.50,283.8 476.66,283.8 476.90,283.9 477.00,284.0 477.22,284.1 477.34,284.1 477.50,284.1 477.62,284.1 477.74,284.1 478.00,284.0 478.06,284.0 478.30,283.9 478.50,283.8 478.54,283.8 478.78,283.9 479.00,284.0 479.01,284.0 479.02,284.0 479.10,284.0 479.34,284.0 479.50,283.9 479.60,283.7 479.74,283.5 479.80,283.4 479.82,283.4 480.00,283.2 480.06,283.2 480.20,283.3 480.30,283.4 480.40,283.5 480.50,283.6 480.54,283.7 480.66,283.8 480.78,283.9 480.81,283.9 480.99,284.0 481.00,284.0 481.10,284.0 481.21,284.0 481.50,283.9 481.53,283.9 481.77,283.8 482.00,283.7 482.01,283.7 482.03,283.7 482.25,283.8 482.43,283.8 482.49,283.8 482.50,283.8 482.75,283.8 482.81,283.8 482.99,283.7 483.00,283.7 483.21,283.7 483.23,283.7 483.47,283.8 483.50,283.8 483.71,283.9 484.00,284.1 484.03,284.1 484.24,284.1 484.43,284.1 484.50,284.1 484.64,284.1 484.96,284.0 485.00,284.0 485.20,284.0 485.44,283.9 485.50,283.9 485.68,284.0 485.92,284.0 485.99,284.0 486.00,284.0 486.01,284.0 486.24,283.9 486.34,283.7 486.39,283.6 486.50,283.3 486.60,282.9 486.64,282.8 486.71,282.4 486.80,282.1 486.95,281.6 487.00,281.6 487.19,281.8 487.20,281.9 487.40,282.7 487.43,282.8 487.50,283.0 487.51,283.1 487.66,283.4 487.67,283.5 487.84,283.5 487.99,283.2 488.00,283.2 488.07,282.9 488.10,282.8 488.30,281.8 488.39,281.5 488.50,281.3 488.63,281.5 488.70,281.7 488.87,282.5 488.90,282.6 489.00,283.0 489.01,283.1 489.07,283.3 489.11,283.4 489.16,283.5 489.34,283.6 489.35,283.6 489.47,283.5 489.49,283.4 489.50,283.4 489.60,283.2 489.67,283.0 489.79,282.6 489.80,282.5 490.00,282.2 490.03,282.2 490.07,282.2 490.20,282.4 490.27,282.6 490.29,282.6 490.40,283.0 490.50,283.2 490.51,283.3 490.66,283.6 490.69,283.6 490.75,283.7 490.99,283.7 491.00,283.7 491.01,283.7 491.07,283.7 491.25,283.5 491.41,283.4 491.47,283.3 491.49,283.3 491.50,283.2 491.73,282.3 491.74,282.3 491.97,279.7 492.00,279.2 492.20,276.0 492.29,275.0 492.40,274.4 492.45,274.6 492.50,274.9 492.60,276.1 492.69,277.5 492.80,279.4 492.85,280.2 493.00,282.0 493.01,282.1 493.06,282.5 493.17,283.1 493.34,283.2 493.39,283.2 493.41,283.1 493.50,282.9 493.60,282.6 493.65,282.4 493.80,281.9 493.89,281.7 494.00,281.6 494.13,281.9 494.20,282.1 494.40,283.0 494.45,283.2 494.50,283.4 494.66,283.8 494.68,283.8 494.85,284.0 494.99,284.1 495.00,284.1 495.08,284.1 495.40,283.9 495.50,283.9 495.64,283.8 495.88,283.7 496.00,283.8 496.12,283.8 496.36,284.0 496.37,284.0 496.50,284.0 496.68,284.1 496.77,284.1 497.00,284.0 497.08,284.0 497.09,284.0 497.33,283.8 497.50,283.8 497.57,283.8 497.81,283.8 498.00,283.9 498.05,284.0 498.18,284.0 498.37,284.1 498.50,284.1 498.58,284.1 498.77,284.0 498.90,283.9 499.00,283.8 499.01,283.8 499.14,283.6 499.34,283.5 499.38,283.5 499.50,283.4 499.60,283.3 499.62,283.3 499.80,283.3 499.86,283.3 500.00,283.3 500.18,283.5 500.20,283.5 500.34,283.7 500.40,283.8 500.50,283.9 500.58,284.0 500.66,284.1 500.74,284.1 500.99,284.1 501.00,284.1 501.06,284.1 501.30,284.0 501.50,283.9 501.54,283.9 501.78,284.0 502.00,284.1 502.02,284.1 502.34,284.2 502.50,284.2 502.63,284.2 502.74,284.2 503.00,284.1 503.03,284.1 503.35,284.0 503.50,283.9 503.59,283.8 503.83,283.7 504.00,283.8 504.07,283.8 504.31,284.0 504.50,284.1 504.63,284.1 504.77,284.2 505.00,284.2 505.03,284.2 505.17,284.1 505.49,283.9 505.50,283.9 505.73,283.8 505.97,283.7 506.00,283.7 506.01,283.7 506.21,283.8 506.34,283.8 506.45,283.9 506.50,283.9 506.60,283.9 506.77,283.9 506.80,283.9 506.85,283.9 507.00,283.8 507.17,283.8 507.20,283.7 507.40,283.7 507.41,283.7 507.50,283.6 507.65,283.6 507.66,283.6 507.89,283.7 507.99,283.8 508.00,283.8 508.13,283.9" fill="none" stroke="#cc5858" stroke-width="0.8" stroke-opacity="1" stroke-linejoin="round"/>
<path d="M66.00,301.2 66.20,301.0 66.50,300.6 66.52,300.6 66.76,300.3 67.00,300.0 67.01,300.0 67.24,299.7 67.34,299.6 67.48,299.4 67.50,297.3 67.60,296.3 67.78,294.3 67.80,294.1 68.00,293.0 68.18,293.7 68.20,293.8 68.40,295.7 68.50,296.6 68.66,297.5 68.74,297.8 68.98,298.0 68.99,298.0 69.00,298.0 69.22,297.9 69.46,297.7 69.50,297.7 69.51,297.7 69.78,297.5 69.91,297.4 70.00,297.3 70.01,297.3 70.18,297.1 70.23,297.1 70.34,296.9 70.47,296.7 70.50,296.6 70.60,296.3 70.71,296.1 70.80,295.9 70.95,295.7 70.97,295.7 71.00,295.7 71.19,296.0 71.20,296.0 71.37,296.4 71.40,296.5 71.50,296.7 71.51,296.7 71.66,296.8 71.69,296.8 71.91,296.8 71.93,296.8 71.99,296.7 72.00,296.7 72.17,296.7 72.32,296.7 72.41,296.7 72.50,296.8 72.65,296.9 72.72,296.9 72.97,297.0 73.00,297.0 73.04,296.5 73.28,296.3 73.37,296.2 73.50,296.1 73.52,296.0 73.76,295.8 73.95,295.5 74.00,295.4 74.32,294.1 74.35,294.0 74.50,293.2 74.67,292.2 74.72,291.8 74.91,290.4 75.00,289.7 75.15,287.8 75.20,285.2 75.30,255.0 75.38,171.5 75.39,157.4 75.44,88.9 75.50,49.4 75.56,88.7 75.62,171.2 75.63,184.7 75.70,254.4 75.80,284.4 75.95,287.9 76.00,288.1 76.02,288.3 76.34,289.9 76.35,289.9 76.50,290.4 76.58,290.6 76.82,291.2 76.92,291.5 77.00,291.6 77.01,291.7 77.06,291.8 77.30,292.0 77.32,292.0 77.34,292.0 77.50,291.7 77.60,291.4 77.62,291.3 77.64,291.2 77.80,290.5 77.88,290.2 78.00,290.5 78.02,290.5 78.12,290.6 78.20,291.0 78.36,291.9 78.40,292.1 78.50,292.6 78.54,292.8 78.60,293.1 78.66,293.3 78.92,293.8 78.94,293.8 78.99,293.9 79.00,293.9 79.26,294.1 79.32,294.2 79.50,294.3 79.74,294.5 79.98,294.7 80.00,294.8 80.22,295.0 80.31,295.1 80.50,295.3 80.54,295.3 80.71,295.5 80.94,295.6 81.00,295.6 81.03,295.5 81.27,295.6 81.50,295.7 81.51,295.7 81.74,295.9 81.75,295.9 81.99,296.3 82.00,296.3 82.14,296.3 82.31,296.3 82.46,296.2 82.50,296.2 82.70,296.0 82.71,296.0 82.94,295.8 83.00,295.8 83.18,295.6 83.20,295.5 83.30,292.5 83.38,284.1 83.42,278.3 83.44,275.7 83.47,272.8 83.50,271.7 83.56,275.8 83.62,284.3 83.70,292.9 83.74,294.8 83.80,296.0 83.87,296.3 84.00,296.4 84.14,296.4 84.19,296.4 84.43,296.4 84.50,296.4 84.67,296.5 84.91,296.7 85.00,296.8 85.15,296.9 85.18,296.9 85.47,297.1 85.50,297.2 85.58,297.2 85.87,297.1 85.90,297.1 86.00,297.1 86.01,297.1 86.14,297.0 86.34,296.8 86.38,296.8 86.50,296.7 86.60,296.6 86.62,296.6 86.80,296.4 86.86,296.3 87.00,296.4 87.18,296.6 87.20,296.6 87.40,297.0 87.50,297.2 87.52,297.2 87.58,297.3 87.66,297.4 87.92,297.5 87.99,297.5 88.00,297.5 88.24,297.4 88.48,297.3 88.50,297.3 88.72,297.3 88.78,297.3 88.96,297.4 89.00,297.4 89.01,297.4 89.18,297.4 89.20,297.4 89.34,297.4 89.50,297.3 89.52,297.2 89.60,297.1 89.74,296.9 89.80,296.8 89.92,296.7 89.98,296.7 90.00,296.7 90.20,296.9 90.22,296.9 90.40,297.3 90.46,297.4 90.50,297.4 90.62,297.6 90.66,297.7 90.78,297.8 90.99,297.8 91.00,297.8 91.02,297.8 91.18,297.8 91.34,297.8 91.50,297.7 91.58,297.7 91.82,297.7 92.00,297.7 92.01,297.7 92.06,297.7 92.30,297.8 92.31,297.8 92.34,297.7 92.50,297.6 92.60,297.5 92.62,297.4 92.71,297.3 92.80,297.1 93.00,296.9 93.02,296.9 93.03,297.0 93.20,297.1 93.27,297.2 93.40,297.5 93.50,297.7 93.51,297.7 93.66,297.9 93.75,298.0 93.99,298.1 94.00,298.1 94.31,298.2 94.43,298.2 94.50,298.2 94.71,298.2 94.83,298.2 95.00,298.2 95.15,298.1 95.39,298.0 95.50,297.9 95.63,297.9 95.87,297.9 95.92,298.0 96.00,298.0 96.11,298.0 96.32,298.0 96.43,298.0 96.50,298.0 96.64,298.0 96.83,297.8 96.88,297.8 97.00,297.8 97.12,297.7 97.36,297.7 97.48,297.7 97.50,297.7 97.60,297.7 97.88,297.6 97.92,297.5 98.00,297.5 98.20,297.0 98.30,294.2 98.32,292.8 98.38,286.6 98.44,279.1 98.50,275.6 98.56,279.1 98.62,286.5 98.68,292.7 98.70,294.0 98.80,296.7 98.92,297.1 98.96,297.1 99.00,297.2 99.16,297.3 99.36,297.4 99.48,297.4 99.50,297.4 99.51,297.4 99.68,297.2 99.84,296.6 99.88,296.3 99.92,296.1 100.00,295.4 100.10,294.5 100.16,293.8 100.30,292.4 100.40,291.8 100.50,291.6 100.64,292.2 100.70,292.7 100.75,293.2 100.90,294.8 100.96,295.4 101.00,295.8 101.15,296.8 101.16,296.9 101.36,297.3 101.47,297.4 101.49,297.3 101.50,297.3 101.51,297.3 101.71,296.9 101.84,296.2 101.95,295.3 102.00,294.8 102.10,293.6 102.13,293.2 102.19,292.3 102.30,290.9 102.43,289.9 102.50,289.7 102.53,289.7 102.70,291.0 102.75,291.6 102.85,292.8 102.90,293.4 102.91,293.5 103.00,294.4 103.09,295.0 103.15,295.1 103.16,295.1 103.24,294.8 103.33,294.1 103.49,291.6 103.50,291.4 103.57,290.1 103.69,287.8 103.70,287.6 103.81,286.1 103.90,285.7 104.00,286.3 104.09,287.6 104.10,287.8 104.13,288.3 104.30,291.8 104.41,293.8 104.50,295.0 104.51,295.1 104.53,295.3 104.56,295.6 104.65,296.1 104.84,296.1 104.89,295.9 105.00,295.1 105.10,294.1 105.13,293.8 105.30,291.9 105.37,291.4 105.50,290.9 105.53,290.9 105.69,291.9 105.70,292.0 105.90,294.3 105.93,294.6 106.00,295.3 106.09,296.0 106.16,296.5 106.25,296.8 106.49,297.2 106.50,297.2 106.73,297.2 106.97,297.2 107.00,297.2 107.01,297.2 107.21,297.2 107.34,297.2 107.50,296.9 107.53,296.9 107.58,296.8 107.60,296.7 107.80,296.2 107.93,296.0 107.98,296.0 108.00,295.9 108.20,296.2 108.30,296.4 108.40,296.6 108.50,296.8 108.54,296.9 108.66,297.0 108.78,297.1 108.99,297.2 109.00,297.2 109.02,297.3 109.26,297.4 109.28,297.4 109.50,297.4 109.58,297.4 109.68,297.4 109.98,297.3 110.00,297.3 110.01,297.3 110.24,297.1 110.34,297.0 110.48,296.7 110.50,296.7 110.60,296.5 110.71,296.2 110.72,296.2 110.80,296.0 110.96,295.8 111.00,295.8 111.11,295.9 111.20,296.1 111.28,296.3 111.40,296.5 111.43,296.6 111.50,296.7 111.66,296.9 111.67,296.9 111.68,296.9 111.91,297.0 111.99,297.0 112.00,297.0 112.15,297.1 112.27,297.2 112.39,297.2 112.50,297.3 112.67,297.4 112.71,297.4 112.99,297.3 113.00,297.3 113.01,297.3 113.11,297.3 113.23,297.2 113.34,297.1 113.47,297.0 113.50,296.9 113.60,296.8 113.71,296.6 113.80,296.5 113.95,296.4 114.00,296.4 114.07,296.4 114.20,296.6 114.27,296.7 114.40,297.0 114.47,297.1 114.50,297.1 114.66,297.3 114.67,297.3 114.79,297.4 114.99,297.4 115.00,297.4 115.03,297.4 115.27,297.3 115.50,297.4 115.51,297.4 115.75,297.4 116.00,297.5 116.07,297.5 116.23,297.4 116.47,297.4 116.50,297.4 116.63,297.4 116.95,297.3 117.00,297.2 117.01,297.2 117.19,297.0 117.34,296.7 117.43,296.4 117.50,296.1 117.60,295.6 117.67,295.2 117.80,294.5 117.89,294.1 117.91,294.0 118.00,293.9 118.20,294.4 118.23,294.6 118.29,294.9 118.40,295.5 118.50,295.9 118.61,296.3 118.63,296.3 118.66,296.4 118.85,296.5 118.99,296.5 119.00,296.5 119.01,296.5 119.09,296.4 119.33,296.1 119.34,296.0 119.50,295.4 119.57,295.0 119.60,294.9 119.64,294.6 119.80,293.6 119.89,293.1 120.00,292.9 120.04,292.9 120.20,293.5 120.29,294.0 120.36,294.5 120.40,294.7 120.50,295.3 120.60,295.7 120.66,295.9 120.84,296.2 120.99,296.3 121.00,296.3 121.08,296.4 121.32,296.6 121.34,296.6 121.50,296.6 121.64,296.6 121.74,296.6 121.81,296.5 122.00,295.9 122.04,295.7 122.06,295.5 122.14,294.9 122.30,292.7 122.40,290.7 122.50,288.6 122.54,287.8 122.60,286.6 122.78,284.7 122.80,284.7 123.00,286.8 123.02,287.1 123.20,290.9 123.34,293.4 123.46,294.9 123.50,295.3 123.67,296.1 123.74,296.3 123.79,296.4 124.00,296.4 124.01,296.4 124.07,296.4 124.34,296.0 124.39,295.8 124.50,295.4 124.60,295.0 124.63,294.8 124.80,294.0 124.87,293.7 125.00,293.6 125.11,293.7 125.12,293.8 125.20,294.1 125.35,294.8 125.40,295.0 125.50,295.4 125.52,295.5 125.66,295.9 125.67,295.9 125.84,296.0 125.99,295.9 126.00,295.9 126.01,295.9 126.07,295.8 126.08,295.8 126.32,295.4 126.34,295.3 126.50,294.8 126.56,294.5 126.60,294.3 126.80,293.3 126.82,293.2 127.00,292.8 127.12,293.1 127.20,293.4 127.22,293.5 127.40,294.5 127.50,295.0 127.52,295.1 127.54,295.2 127.66,295.5 127.78,295.7 127.99,295.8 128.00,295.8 128.02,295.7 128.13,295.7 128.26,295.7 128.50,295.7 128.51,295.7 128.53,295.7 128.82,295.0 128.84,294.9 128.85,294.8 129.00,293.7 129.09,292.8 129.10,292.6 129.22,291.3 129.30,290.4 129.33,290.1 129.47,289.3 129.50,289.3 129.57,289.4 129.70,290.2 129.81,291.2 129.87,291.8 129.90,292.1 130.00,293.0 130.13,293.7 130.16,293.7 130.19,293.6 130.20,293.5 130.30,288.4 130.38,273.6 130.43,261.0 130.44,258.8 130.49,252.0 130.50,251.7 130.53,253.7 130.56,258.9 130.62,273.7 130.67,284.4 130.70,288.7 130.80,294.1 130.91,294.8 131.00,294.9 131.15,295.1 131.47,295.4 131.50,295.4 131.51,295.4 131.87,295.6 131.91,295.6 132.00,295.6 132.01,295.6 132.23,295.4 132.34,295.2 132.47,294.9 132.50,294.8 132.60,294.4 132.71,294.0 132.80,293.8 132.95,293.5 133.00,293.6 133.19,294.1 133.20,294.1 133.40,294.9 133.50,295.3 133.51,295.3 133.66,295.6 133.70,295.7 133.91,295.9 133.99,295.8 134.00,295.8 134.01,295.8 134.10,295.8 134.34,295.3 134.42,295.0 134.50,294.7 134.60,294.1 134.66,293.7 134.80,292.9 134.90,292.6 135.00,292.4 135.14,292.8 135.18,293.0 135.20,293.1 135.38,294.1 135.40,294.3 135.50,294.8 135.58,295.2 135.66,295.4 135.70,295.5 135.90,295.7 135.99,295.8 136.00,295.8 136.10,295.8 136.14,295.7 136.38,295.7 136.50,295.7 136.62,295.8 136.86,295.8 137.00,295.9 137.01,295.9 137.18,295.8 137.34,295.7 137.39,295.6 137.50,295.3 137.58,295.1 137.60,295.0 137.79,294.3 137.80,294.3 138.00,293.9 138.11,294.0 138.20,294.2 138.35,294.6 138.40,294.8 138.50,295.0 138.51,295.0 138.59,295.2 138.66,295.3 138.83,295.1 138.84,295.1 138.99,294.5 139.00,294.5 139.07,294.1 139.10,293.9 139.30,292.6 139.39,292.1 139.50,291.9 139.54,292.0 139.70,292.6 139.79,293.2 139.90,293.9 139.94,294.2 140.00,294.5 140.01,294.6 140.16,295.0 140.26,294.9 140.34,294.7 140.49,293.8 140.50,293.7 140.60,292.7 140.74,291.2 140.80,290.7 140.98,289.7 141.00,289.7 141.20,290.3 141.22,290.5 141.40,292.2 141.50,293.1 141.52,293.2 141.54,293.3 141.66,293.9 141.76,294.1 141.94,294.1 141.99,294.1 142.00,294.1 142.24,293.8 142.48,293.4 142.50,293.3 142.80,292.4 143.00,291.5 143.04,291.2 143.20,288.0 143.30,262.3 143.38,191.1 143.44,120.6 143.50,86.9 143.56,120.6 143.62,191.0 143.70,262.2 143.76,283.0 143.80,287.9 144.00,291.3 144.24,292.4 144.46,293.2 144.48,293.2 144.50,293.3 144.51,293.3 144.72,293.6 144.84,293.5 144.86,293.5 145.00,292.8 145.04,292.5 145.10,292.1 145.18,291.4 145.30,290.4 145.42,289.7 145.44,289.6 145.50,289.6 145.66,290.3 145.70,290.6 145.90,292.7 146.00,294.0 146.14,295.0 146.16,295.1 146.46,295.8 146.49,295.8 146.50,295.8 146.51,295.8 146.84,295.7 146.86,295.6 147.00,295.3 147.10,295.0 147.26,294.4 147.30,294.3 147.50,293.9 147.58,293.9 147.70,294.1 147.82,294.4 147.90,294.7 148.00,295.0 148.06,295.2 148.16,295.4 148.30,295.6 148.49,295.8 148.50,295.8 148.52,295.8 148.54,295.8 148.86,295.9 148.92,295.9 149.00,295.9 149.01,295.9 149.24,295.8 149.26,295.8 149.34,295.7 149.48,295.5 149.50,295.5 149.60,295.3 149.72,295.1 149.80,295.0 149.96,294.8 150.00,294.8 150.07,294.9 150.20,295.1 150.40,295.5 150.47,295.6 150.50,295.7 150.52,295.7 150.66,295.8 150.79,295.9 150.92,295.9 150.99,295.9 151.00,295.9 151.03,295.9 151.27,295.9 151.50,296.0 151.51,296.0 151.75,296.1 152.00,296.2 152.07,296.2 152.31,296.2 152.47,296.2 152.50,296.2 152.71,296.2 153.00,296.1 153.03,296.1 153.27,296.0 153.50,296.0 153.51,296.0 153.75,296.0 153.99,296.2 154.00,296.2 154.01,296.2 154.31,296.3 154.34,296.3 154.41,296.3 154.50,296.3 154.60,296.2 154.71,296.1 154.80,296.0 154.81,296.0 155.00,295.9 155.13,296.0 155.20,296.0 155.37,296.1 155.40,296.1 155.50,296.2 155.61,296.3 155.66,296.3 155.85,296.4 155.99,296.5 156.00,296.5 156.09,296.5 156.41,296.6 156.50,296.6 156.51,296.6 156.81,296.6 156.91,296.6 157.00,296.6 157.23,296.5 157.47,296.3 157.50,296.3 157.71,296.3 157.95,296.4 158.00,296.4 158.19,296.6 158.44,296.7 158.50,296.8 158.51,296.8 158.84,296.8 158.91,296.8 159.00,296.8 159.01,296.8 159.16,296.7 159.34,296.6 159.40,296.6 159.50,296.5 159.60,296.4 159.64,296.3 159.78,296.3 159.80,296.3 159.88,296.2 160.00,296.3 160.12,296.3 160.18,296.4 160.20,296.4 160.40,296.6 160.44,296.6 160.50,296.6 160.66,296.7 160.74,296.7 160.84,296.7 160.98,296.7 160.99,296.7 161.00,296.7 161.22,296.7 161.46,296.8 161.50,296.9 161.78,297.0 161.95,297.0 162.00,297.0 162.01,297.0 162.18,296.9 162.34,296.8 162.35,296.8 162.50,296.5 162.60,296.2 162.67,296.0 162.80,295.6 162.91,295.4 163.00,295.3 163.15,295.5 163.20,295.6 163.39,296.1 163.40,296.2 163.50,296.4 163.63,296.7 163.66,296.7 163.78,296.9 163.95,297.0 163.99,297.0 164.00,297.0 164.18,296.9 164.35,296.8 164.50,296.7 164.74,296.5 164.98,296.4 165.00,296.4 165.08,296.4 165.22,296.3 165.46,296.3 165.48,296.3 165.50,296.3 165.78,296.0 165.80,296.0 166.00,295.6 166.04,295.6 166.18,295.0 166.20,294.7 166.28,291.0 166.30,288.9 166.33,284.2 166.38,272.7 166.44,256.6 166.50,248.9 166.52,249.9 166.56,256.6 166.62,272.8 166.70,289.0 166.73,292.1 166.76,293.8 166.80,294.9 167.00,295.7 167.05,295.8 167.08,295.8 167.29,295.9 167.48,296.0 167.50,296.0 167.53,296.0 167.66,296.1 167.77,296.2 168.00,296.5 168.01,296.5 168.06,296.5 168.33,296.6 168.38,296.6 168.50,296.6 168.62,296.5 168.73,296.5 168.86,296.5 169.00,296.6 169.01,296.6 169.10,296.6 169.19,296.6 169.34,296.6 169.50,296.4 169.59,296.2 169.60,296.2 169.66,296.0 169.80,295.6 169.91,295.4 170.00,295.3 170.06,295.3 170.15,295.4 170.20,295.5 170.39,296.0 170.40,296.1 170.50,296.3 170.63,296.6 170.66,296.7 170.87,296.9 170.99,297.0 171.00,297.0 171.02,297.0 171.19,297.1 171.42,297.1 171.50,297.1 171.59,297.0 171.74,297.0 171.98,296.9 172.00,296.9 172.22,296.8 172.46,296.9 172.50,296.9 172.70,297.0 173.00,297.1 173.02,297.1 173.04,297.1 173.42,297.0 173.44,297.0 173.50,297.0 173.76,296.9 174.00,296.8 174.24,296.7 174.48,296.6 174.50,296.6 174.68,296.6 174.72,296.6 175.00,296.5 175.04,296.5 175.08,296.4 175.20,296.0 175.30,292.6 175.38,283.3 175.40,280.1 175.44,274.1 175.50,269.7 175.56,274.0 175.62,283.1 175.64,286.0 175.70,292.3 175.80,295.6 175.88,295.9 176.00,296.1 176.12,296.2 176.21,296.3 176.36,296.5 176.50,296.6 176.51,296.6 176.61,296.6 176.68,296.6 176.84,296.2 176.93,295.8 177.00,295.4 177.08,294.9 177.10,294.7 177.17,294.2 177.30,293.2 177.41,292.7 177.50,292.5 177.65,293.0 177.70,293.3 177.74,293.6 177.89,294.8 177.90,294.9 178.00,295.7 178.14,296.4 178.16,296.5 178.21,296.6 178.46,296.9 178.49,296.9 178.50,296.9 178.61,296.9 178.70,296.9 178.94,296.9 179.00,296.9 179.01,296.9 179.18,296.9 179.34,296.8 179.42,296.8 179.50,296.7 179.60,296.5 179.74,296.3 179.80,296.2 179.82,296.1 180.00,296.0 180.14,295.9 180.20,296.0 180.22,296.0 180.40,296.3 180.50,296.4 180.54,296.4 180.66,296.5 180.78,296.5 180.99,296.4 181.00,296.4 181.02,296.4 181.26,296.2 181.50,296.0 181.52,296.0 181.82,295.5 181.92,295.3 182.00,295.1 182.20,293.4 182.22,292.6 182.24,291.2 182.30,281.4 182.38,248.2 182.44,215.3 182.48,201.6 182.50,199.6 182.56,215.3 182.62,248.2 182.70,281.4 182.72,285.8 182.80,293.3 182.96,294.9 183.00,295.0 183.20,295.5 183.50,296.1 183.52,296.2 183.70,296.4 183.92,296.6 184.00,296.6 184.10,296.7 184.42,296.7 184.50,296.7 184.66,296.6 184.90,296.6 185.00,296.8 185.14,296.9 185.38,297.1 185.50,297.1 185.70,297.2 185.95,297.3 186.00,297.3 186.10,297.2 186.35,297.2 186.50,297.1 186.67,297.0 186.91,296.8 187.00,296.8 187.15,296.7 187.39,296.8 187.50,296.8 187.63,296.9 187.95,296.9 188.00,296.9 188.20,296.7 188.27,295.7 188.30,294.8 188.35,291.8 188.38,289.4 188.44,284.0 188.50,281.5 188.56,284.0 188.62,289.3 188.67,293.2 188.70,294.7 188.80,296.6 188.99,296.8 189.00,296.8 189.01,296.8 189.23,296.7 189.34,296.6 189.47,296.3 189.50,296.3 189.60,296.0 189.71,295.7 189.80,295.5 189.94,295.3 189.95,295.3 190.00,295.3 190.20,295.7 190.27,295.9 190.34,296.1 190.40,296.3 190.50,296.6 190.66,296.9 190.67,296.9 190.90,297.0 190.99,297.0 191.00,297.0 191.14,297.0 191.23,297.0 191.38,297.1 191.50,297.1 191.62,297.2 191.63,297.2 191.94,297.2 191.95,297.2 192.00,297.2 192.19,297.1 192.34,297.1 192.43,297.1 192.50,297.1 192.67,297.2 192.80,297.2 192.91,297.2 193.00,297.3 193.20,297.3 193.23,297.3 193.50,297.1 193.52,297.1 193.63,297.0 193.76,296.9 194.00,296.9 194.24,296.9 194.35,297.0 194.48,297.1 194.50,297.1 194.75,297.3 194.80,297.3 195.00,297.3 195.07,297.1 195.20,296.7 195.31,296.4 195.50,295.9 195.55,295.8 195.57,295.7 195.79,295.2 195.97,294.7 196.00,294.7 196.01,294.6 196.03,294.6 196.29,293.4 196.34,293.1 196.35,293.0 196.50,291.6 196.53,291.3 196.60,290.4 196.75,288.5 196.77,288.2 196.80,287.9 196.86,287.2 197.00,286.4 197.01,286.3 197.20,286.9 197.25,287.3 197.26,287.3 197.40,288.5 197.50,289.2 197.57,289.5 197.58,289.6 197.66,289.8 197.82,289.9 197.97,289.7 197.99,289.7 198.00,289.6 198.01,289.7 198.06,289.9 198.30,290.4 198.34,290.4 198.50,290.2 198.54,290.1 198.60,289.8 198.74,289.2 198.80,288.9 198.86,288.8 199.00,288.8 199.06,289.1 199.20,290.2 199.26,290.9 199.30,291.3 199.40,292.5 199.50,293.6 199.54,294.0 199.61,294.6 199.66,295.0 199.78,295.9 199.99,297.0 200.00,297.1 200.01,297.1 200.02,297.1 200.33,297.2 200.34,297.2 200.50,297.2 200.57,297.2 200.74,297.2 200.81,297.2 201.00,297.2 201.05,297.2 201.29,297.3 201.50,297.3 201.61,297.3 201.72,297.3 202.00,297.3 202.01,297.3 202.12,297.2 202.34,297.0 202.44,296.9 202.50,296.7 202.60,296.5 202.68,296.3 202.80,296.0 202.92,295.8 203.00,295.7 203.16,295.9 203.20,296.0 203.28,296.2 203.40,296.5 203.50,296.8 203.66,297.0 203.68,297.0 203.72,297.1 203.99,297.1 204.00,297.1 204.12,297.1 204.24,297.0 204.48,297.0 204.50,297.0 204.72,297.0 204.96,297.1 205.00,297.1 205.01,297.1 205.28,297.0 205.34,296.9 205.40,296.8 205.50,296.5 205.60,296.1 205.68,295.8 205.80,295.4 206.00,294.9 206.12,295.1 206.20,295.3 206.36,295.8 206.40,296.0 206.50,296.3 206.60,296.6 206.66,296.7 206.84,296.9 206.99,297.0 207.00,297.0 207.02,297.0 207.08,297.1 207.40,297.1 207.42,297.1 207.50,297.1 207.74,296.9 207.80,296.9 207.98,296.8 208.00,296.8 208.22,296.7 208.46,296.8 208.50,296.8 208.70,296.9 209.00,297.0 209.01,296.9 209.02,296.9 209.34,296.3 209.40,296.0 209.42,295.8 209.50,295.3 209.60,294.3 209.72,293.1 209.80,292.3 209.96,291.4 210.00,291.3 210.20,292.2 210.40,294.1 210.44,294.5 210.50,295.0 210.66,296.1 210.68,296.2 210.99,296.9 211.00,296.9 211.40,297.0 211.50,296.9 211.51,296.9 211.80,296.5 211.84,296.4 212.00,295.6 212.10,294.9 212.12,294.7 212.30,293.4 212.36,293.0 212.50,292.6 212.60,292.8 212.61,292.8 212.70,293.3 212.84,294.3 212.90,294.7 213.00,295.4 213.01,295.4 213.08,295.8 213.16,296.1 213.33,296.3 213.40,296.4 213.49,296.3 213.50,296.3 213.51,296.3 213.57,296.2 213.80,295.4 213.81,295.3 213.84,295.1 214.00,293.6 214.05,292.9 214.10,292.2 214.24,290.0 214.29,289.3 214.30,289.1 214.50,287.6 214.61,288.1 214.64,288.4 214.70,289.1 214.90,292.1 214.96,292.9 215.00,293.4 215.01,293.1 215.16,294.4 215.20,294.6 215.44,295.0 215.49,295.0 215.50,295.0 215.68,294.9 215.92,294.5 216.00,294.4 216.24,294.1 216.39,293.8 216.50,293.6 216.64,293.2 216.79,292.6 217.00,291.5 217.11,290.6 217.20,287.5 217.30,257.4 217.35,212.5 217.38,174.1 217.44,91.6 217.50,52.3 217.56,91.7 217.59,131.6 217.62,174.3 217.63,187.8 217.70,257.7 217.80,287.9 217.83,289.8 218.00,292.2 218.03,292.4 218.07,292.7 218.35,294.3 218.39,294.5 218.50,294.9 218.59,295.2 218.79,295.9 218.83,296.0 219.00,296.6 219.07,296.7 219.24,297.1 219.31,297.3 219.50,297.6 219.63,297.8 219.64,297.8 219.96,297.8 220.00,298.3 220.03,298.2 220.20,298.1 220.44,298.0 220.50,298.0 220.63,298.1 220.68,298.1 220.92,298.3 221.00,298.3 221.03,298.4 221.24,298.4 221.35,298.4 221.50,298.4 221.59,298.3 221.64,298.3 221.83,298.3 222.00,298.3 222.07,298.3 222.31,298.4 222.50,298.5 222.63,298.6 222.94,298.6 223.00,298.6 223.03,298.6 223.34,298.6 223.50,298.5 223.66,298.5 223.90,298.4 224.00,298.3 224.01,298.3 224.14,298.3 224.34,298.3 224.38,298.3 224.39,298.3 224.50,298.2 224.60,298.2 224.62,298.1 224.79,298.0 224.80,298.0 224.94,297.8 225.00,297.8 225.11,297.8 225.20,297.8 225.34,297.8 225.35,297.8 225.40,297.8 225.50,297.9 225.59,297.9 225.66,298.0 225.83,298.1 225.99,298.3 226.00,298.3 226.07,298.3 226.39,298.5 226.50,298.6 226.59,298.6 226.79,298.6 226.99,298.6 227.00,298.6 227.31,298.5 227.50,298.5 227.55,298.5 227.79,298.4 228.00,298.4 228.03,298.5 228.27,298.5 228.50,298.6 228.59,298.6 228.90,298.6 228.99,298.6 229.00,298.6 229.30,298.5 229.50,298.4 229.62,298.3 229.86,298.1 230.00,298.0 230.10,298.0 230.34,298.1 230.50,298.2 230.58,298.3 230.63,298.4 230.90,298.5 231.00,298.5 231.01,298.5 231.03,298.5 231.30,298.4 231.34,298.3 231.35,298.3 231.50,298.1 231.59,298.0 231.60,298.0 231.80,297.7 231.83,297.7 232.00,297.6 232.07,297.7 232.20,297.8 232.31,298.0 232.40,298.2 232.50,298.3 232.63,298.4 232.66,298.5 232.99,298.5 233.00,298.5 233.03,298.5 233.06,298.5 233.38,298.4 233.50,298.3 233.62,298.2 233.86,298.2 234.00,298.2 234.10,298.2 234.34,298.4 234.39,298.4 234.50,298.5 234.66,298.5 234.79,298.6 235.00,298.6 235.06,298.5 235.11,298.5 235.35,298.5 235.50,298.5 235.59,298.5 235.83,298.5 236.00,298.5 236.01,298.5 236.07,298.5 236.39,298.6 236.41,298.5 236.50,298.5 236.73,298.5 236.79,298.5 236.97,298.4 237.00,298.4 237.01,298.4 237.21,298.3 237.34,298.3 237.45,298.2 237.50,298.2 237.60,298.2 237.69,298.1 237.80,298.0 237.96,298.0 238.00,298.0 238.01,298.0 238.20,298.1 238.36,298.2 238.40,298.2 238.41,298.2 238.50,298.3 238.66,298.3 238.68,298.3 238.92,298.2 238.99,298.1 239.00,298.1 239.16,298.1 239.40,298.2 239.50,298.2 239.64,298.3 239.96,298.5 240.00,298.5 240.04,298.5 240.36,298.6 240.44,298.5 240.50,298.5 240.76,298.4 241.00,298.2 241.24,298.2 241.48,298.2 241.50,298.2 241.72,298.4 241.88,298.4 242.00,298.5 242.04,298.5 242.20,298.4 242.44,298.3 242.50,298.3 242.68,298.3 242.92,298.3 243.00,298.4 243.16,298.4 243.43,298.5 243.48,298.5 243.50,298.5 243.51,298.5 243.83,298.0 243.84,298.0 243.88,297.8 244.00,297.2 244.10,296.6 244.15,296.2 244.30,295.1 244.39,294.7 244.50,294.4 244.63,294.7 244.70,295.0 244.87,296.2 244.90,296.4 245.00,297.1 245.11,297.6 245.16,297.8 245.43,298.4 245.49,298.4 245.50,298.4 245.51,298.4 245.66,298.3 245.83,298.0 245.84,297.9 246.00,297.2 246.06,296.7 246.10,296.4 246.30,294.8 246.38,294.3 246.50,293.9 246.62,294.1 246.70,294.5 246.86,295.5 246.90,295.8 247.00,296.4 247.10,296.9 247.16,297.1 247.34,297.5 247.49,297.6 247.50,297.5 247.66,297.5 247.71,297.4 248.00,297.0 248.06,296.9 248.11,296.7 248.20,295.8 248.30,286.8 248.38,262.1 248.43,241.3 248.44,237.6 248.50,225.9 248.56,237.6 248.62,262.1 248.67,279.7 248.70,286.8 248.80,295.7 248.91,296.7 249.00,296.9 249.15,297.2 249.37,297.5 249.39,297.6 249.50,297.7 249.71,297.9 249.77,298.0 250.00,298.1 250.09,298.1 250.11,298.1 250.33,298.1 250.50,298.1 250.57,298.1 250.81,298.2 251.00,298.4 251.01,298.4 251.05,298.4 251.28,298.3 251.34,298.3 251.37,298.2 251.50,298.0 251.60,297.7 251.68,297.5 251.77,297.2 251.80,297.1 252.00,296.7 252.20,296.8 252.24,296.8 252.40,297.2 252.48,297.3 252.50,297.4 252.66,297.7 252.72,297.8 252.81,297.9 252.96,298.1 252.99,298.1 253.00,298.1 253.21,298.3 253.28,298.3 253.50,298.2 253.53,298.2 253.68,298.1 253.77,298.0 254.00,298.0 254.01,298.0 254.25,298.0 254.29,298.0 254.49,298.1 254.50,298.2 254.69,298.2 254.81,298.3 255.00,298.2 255.01,298.2 255.21,298.2 255.25,298.1 255.34,298.1 255.49,297.9 255.50,297.9 255.60,297.8 255.73,297.6 255.80,297.5 255.97,297.4 256.00,297.4 256.20,297.6 256.29,297.7 256.40,297.9 256.50,298.0 256.54,298.0 256.66,298.1 256.69,298.1 256.94,298.2 256.99,298.1 257.00,298.1 257.26,297.9 257.50,297.7 257.74,297.6 257.98,297.7 258.00,297.7 258.22,297.9 258.50,298.1 258.54,298.1 258.67,298.1 258.94,298.1 259.00,298.1 259.01,298.1 259.07,298.0 259.34,297.8 259.39,297.7 259.50,297.4 259.60,297.2 259.63,297.1 259.80,296.7 259.87,296.6 260.00,296.5 260.11,296.6 260.20,296.8 260.35,297.2 260.40,297.3 260.50,297.6 260.66,297.8 260.67,297.8 260.68,297.8 260.99,298.0 261.00,298.0 261.01,298.0 261.07,297.9 261.08,297.9 261.34,297.7 261.40,297.6 261.50,297.4 261.60,297.2 261.64,297.1 261.80,296.8 261.88,296.7 262.00,296.6 262.03,296.6 262.12,296.7 262.20,296.8 262.36,297.2 262.40,297.3 262.43,297.3 262.50,297.4 262.66,297.6 262.68,297.6 262.75,297.6 262.99,297.5 263.00,297.5 263.01,297.5 263.08,297.5 263.23,297.4 263.25,297.4 263.34,297.3 263.47,297.0 263.50,297.0 263.60,296.7 263.65,296.6 263.71,296.4 263.80,296.1 263.97,295.8 264.00,295.8 264.03,295.8 264.20,296.1 264.21,296.2 264.40,296.8 264.43,296.9 264.45,296.9 264.50,297.1 264.52,297.1 264.66,297.4 264.69,297.5 264.92,297.7 264.93,297.7 264.99,297.7 265.00,297.7 265.01,297.7 265.24,297.5 265.25,297.5 265.34,297.3 265.48,297.0 265.50,296.9 265.60,296.7 265.65,296.5 265.72,296.3 265.80,296.2 265.96,296.0 266.00,296.0 266.20,296.4 266.26,296.6 266.40,297.1 266.50,297.3 266.52,297.4 266.66,297.6 266.92,297.8 266.98,297.8 266.99,297.8 267.00,297.8 267.22,297.8 267.46,297.7 267.50,297.7 267.70,297.7 267.94,297.8 268.00,297.8 268.01,297.8 268.02,297.8 268.26,297.6 268.34,297.5 268.42,297.3 268.50,297.0 268.60,296.6 268.66,296.4 268.74,296.0 268.80,295.8 268.98,295.3 269.00,295.3 269.20,295.6 269.22,295.7 269.40,296.5 269.46,296.7 269.50,296.9 269.66,297.3 269.70,297.4 269.75,297.5 269.99,297.7 270.00,297.7 270.02,297.7 270.15,297.7 270.42,297.6 270.47,297.5 270.50,297.5 270.71,297.3 270.95,297.2 271.00,297.2 271.19,297.3 271.43,297.5 271.50,297.5 271.75,297.6 271.84,297.6 272.00,297.6 272.01,297.6 272.15,297.3 272.24,297.0 272.34,296.4 272.50,294.8 272.56,294.0 272.60,293.4 272.80,290.4 273.00,288.9 273.04,289.0 273.20,290.3 273.28,291.5 273.40,293.3 273.50,294.7 273.52,295.0 273.66,296.3 273.84,297.2 273.99,297.4 274.00,297.5 274.01,297.5 274.04,297.5 274.24,297.3 274.34,297.1 274.44,296.7 274.50,296.4 274.60,295.8 274.76,294.7 274.80,294.4 275.00,293.7 275.20,294.3 275.24,294.6 275.40,295.6 275.48,296.1 275.50,296.3 275.66,297.0 275.72,297.2 275.86,297.4 275.99,297.6 276.00,297.6 276.04,297.6 276.26,297.6 276.44,297.6 276.50,297.6 276.58,297.6 276.82,297.5 277.00,297.5 277.01,297.5 277.06,297.5 277.30,297.3 277.34,297.3 277.50,297.0 277.54,297.0 277.60,296.8 277.80,296.3 277.86,296.1 278.00,296.0 278.06,296.0 278.20,296.3 278.26,296.4 278.40,296.8 278.46,297.0 278.50,297.1 278.66,297.3 278.78,297.4 278.99,297.4 279.00,297.4 279.02,297.4 279.26,297.4 279.50,297.4 279.74,297.5 280.00,297.5 280.01,297.5 280.06,297.5 280.18,297.4 280.34,297.1 280.46,296.6 280.50,296.4 280.58,295.9 280.60,295.8 280.80,294.4 280.90,293.9 281.00,293.7 281.14,293.9 281.20,294.1 281.38,295.2 281.40,295.3 281.50,295.9 281.62,296.5 281.66,296.6 281.86,297.1 281.88,297.2 281.99,297.3 282.00,297.3 282.18,297.4 282.28,297.5 282.50,297.4 282.58,297.4 282.60,297.4 282.84,297.3 283.00,297.3 283.08,297.2 283.14,297.2 283.32,297.3 283.50,297.3 283.51,297.3 283.54,297.3 283.56,297.3 283.84,297.1 283.86,297.1 283.88,297.1 284.00,296.8 284.10,296.5 284.28,296.0 284.30,296.0 284.34,295.9 284.50,295.7 284.55,295.8 284.58,295.8 284.70,296.1 284.82,296.4 284.90,296.6 284.95,296.8 285.00,296.9 285.14,297.1 285.16,297.2 285.27,297.3 285.49,297.3 285.50,297.3 285.51,297.3 285.54,297.3 285.75,297.3 285.90,297.3 285.99,297.3 286.00,297.3 286.01,297.3 286.23,297.2 286.30,297.2 286.34,297.1 286.50,296.8 286.55,296.7 286.60,296.5 286.62,296.5 286.80,295.9 286.86,295.8 286.95,295.6 287.00,295.6 287.10,295.6 287.20,295.8 287.34,296.2 287.40,296.4 287.50,296.7 287.58,296.9 287.66,297.1 287.90,297.3 287.99,297.4 288.00,297.4 288.08,297.4 288.30,297.4 288.48,297.4 288.50,297.4 288.80,297.2 289.00,297.1 289.01,297.1 289.04,297.1 289.28,296.9 289.34,296.9 289.50,296.7 289.52,296.6 289.60,296.5 289.76,296.2 289.80,296.1 289.90,296.0 290.00,295.9 290.08,296.0 290.20,296.2 290.30,296.4 290.40,296.6 290.48,296.8 290.50,296.8 290.62,296.9 290.66,296.9 290.86,297.0 290.99,296.9 291.00,296.9 291.10,296.9 291.34,297.0 291.50,297.1 291.58,297.1 291.67,297.2 291.90,297.2 292.00,297.2 292.01,297.2 292.07,297.1 292.30,296.7 292.34,296.6 292.39,296.4 292.50,295.7 292.60,295.0 292.63,294.8 292.80,293.5 292.87,293.1 293.00,292.7 293.11,293.0 293.20,293.4 293.35,294.6 293.40,294.9 293.43,295.2 293.50,295.6 293.66,296.4 293.67,296.4 293.83,296.7 293.99,296.7 294.00,296.7 294.07,296.7 294.15,296.6 294.20,296.4 294.30,294.0 294.38,287.2 294.39,286.1 294.44,280.6 294.50,277.4 294.56,280.6 294.62,287.2 294.63,288.3 294.70,293.9 294.80,296.3 294.87,296.6 295.00,296.7 295.11,296.8 295.43,297.0 295.49,297.0 295.50,297.0 295.83,297.0 295.89,297.0 296.00,297.0 296.01,297.0 296.21,296.7 296.34,296.4 296.45,295.9 296.50,295.6 296.60,294.9 296.69,294.2 296.80,293.4 296.93,292.8 297.00,292.8 297.17,293.4 297.20,293.6 297.40,295.1 297.49,295.7 297.50,295.8 297.66,296.6 297.80,296.9 297.89,297.0 297.99,297.1 298.00,297.1 298.12,297.0 298.36,296.9 298.50,296.9 298.60,296.8 298.84,296.8 299.00,296.7 299.08,296.7 299.40,296.6 299.50,296.5 299.64,296.4 299.80,296.2 300.00,295.9 300.04,295.8 300.20,294.9 300.30,287.8 300.36,274.4 300.38,268.3 300.44,248.9 300.50,239.7 300.56,248.9 300.60,261.5 300.62,268.1 300.70,287.6 300.80,294.6 300.84,295.1 301.00,295.5 301.08,295.7 301.31,296.0 301.32,296.1 301.50,296.2 301.51,296.2 301.64,296.2 301.71,296.1 301.84,295.5 302.00,294.3 302.03,293.9 302.04,293.8 302.10,293.1 302.27,290.9 302.30,290.5 302.50,289.3 302.51,289.3 302.62,289.8 302.70,290.6 302.75,291.2 302.90,293.2 302.99,294.3 303.00,294.5 303.02,294.7 303.16,295.8 303.31,296.4 303.34,296.5 303.49,296.6 303.50,296.6 303.58,296.6 303.71,296.6 303.82,296.6 304.00,296.6 304.01,296.6 304.06,296.6 304.30,296.5 304.34,296.4 304.50,296.0 304.51,295.9 304.60,295.5 304.62,295.4 304.80,294.4 304.91,294.0 305.00,293.9 305.02,293.8 305.20,294.2 305.23,294.3 305.40,295.1 305.47,295.4 305.50,295.5 305.66,296.0 305.71,296.1 305.95,296.4 305.99,296.4 306.00,296.4 306.14,296.5 306.19,296.6 306.50,296.7 306.51,296.7 306.54,296.6 306.86,296.4 306.91,296.3 307.00,296.2 307.10,296.1 307.20,295.8 307.30,293.4 307.34,290.8 307.38,287.1 307.44,280.8 307.50,277.8 307.56,280.8 307.58,282.8 307.62,287.2 307.70,293.6 307.80,296.0 307.82,296.1 307.86,296.2 308.00,296.4 308.14,296.5 308.26,296.6 308.50,296.5 308.54,296.5 308.58,296.5 308.82,296.3 309.00,296.2 309.01,296.2 309.06,296.2 309.30,296.0 309.34,295.9 309.50,295.3 309.54,295.1 309.60,294.8 309.71,294.1 309.80,293.5 309.86,293.2 310.00,292.9 310.11,293.2 310.20,293.6 310.26,294.0 310.40,294.9 310.43,295.1 310.50,295.5 310.66,296.2 310.67,296.2 310.91,296.6 310.99,296.6 311.00,296.6 311.01,296.6 311.15,296.6 311.34,296.2 311.39,296.1 311.50,295.6 311.53,295.4 311.60,295.0 311.71,294.2 311.80,293.6 311.93,293.0 312.00,292.9 312.11,293.1 312.20,293.4 312.25,293.7 312.40,294.6 312.49,295.1 312.50,295.2 312.66,295.8 312.73,296.0 312.89,296.2 312.97,296.3 312.99,296.4 313.00,296.4 313.21,296.5 313.29,296.6 313.50,296.6 313.53,296.6 313.61,296.6 313.85,296.5 313.93,296.5 314.00,296.5 314.09,296.5 314.10,296.5 314.33,296.5 314.50,296.5 314.51,296.5 314.57,296.4 314.82,295.7 314.84,295.6 314.89,295.3 315.00,294.3 315.06,293.7 315.10,293.2 315.29,290.9 315.30,290.8 315.50,289.7 315.54,289.8 315.70,291.0 315.78,291.9 315.90,293.4 316.00,294.5 316.10,295.4 316.16,295.8 316.31,296.4 316.49,296.6 316.50,296.6 316.71,296.7 317.00,296.6 317.01,296.6 317.03,296.5 317.27,296.2 317.34,296.1 317.50,295.6 317.51,295.5 317.60,295.1 317.75,294.4 317.80,294.2 317.99,293.8 318.00,293.8 318.20,294.3 318.31,294.9 318.40,295.3 318.50,295.8 318.65,296.2 318.66,296.2 318.71,296.3 318.99,296.4 319.00,296.4 319.01,296.4 319.05,296.4 319.34,294.9 319.37,294.6 319.50,292.8 319.60,290.9 319.61,290.7 319.80,286.8 319.85,286.0 320.00,284.9 320.09,285.3 320.20,286.9 320.33,289.5 320.40,291.0 320.50,292.8 320.65,294.9 320.66,294.9 320.82,296.0 320.99,296.4 321.00,296.4 321.05,296.5 321.22,296.5 321.50,296.4 321.54,296.4 321.78,296.2 322.00,296.1 322.01,296.1 322.02,296.1 322.26,295.9 322.34,295.7 322.50,295.2 322.60,294.7 322.80,293.5 322.82,293.4 322.87,293.2 323.00,292.9 323.20,293.6 323.22,293.7 323.27,294.0 323.40,294.8 323.50,295.3 323.59,295.6 323.66,295.8 323.83,296.1 323.99,296.1 324.00,296.1 324.07,296.1 324.25,296.2 324.31,296.2 324.50,296.3 324.55,296.3 324.65,296.4 324.87,296.4 324.97,296.3 325.00,296.3 325.21,296.2 325.27,296.2 325.45,296.1 325.50,296.1 325.51,296.1 325.69,295.8 325.84,295.2 325.92,294.7 325.93,294.6 326.00,294.0 326.10,292.8 326.25,290.8 326.30,290.2 326.32,290.0 326.50,288.9 326.64,289.5 326.65,289.6 326.70,290.1 326.88,292.4 326.90,292.7 327.00,293.8 327.01,293.9 327.12,294.7 327.16,294.8 327.34,294.6 327.36,294.5 327.49,293.3 327.50,293.2 327.54,292.7 327.60,291.7 327.80,288.5 327.92,287.2 327.94,287.1 328.00,286.9 328.20,288.5 328.26,289.4 328.32,290.4 328.40,291.7 328.50,293.2 328.66,294.8 328.74,295.3 328.98,296.0 328.99,296.0 329.00,296.0 329.01,296.0 329.20,296.0 329.22,296.0 329.34,295.7 329.50,294.9 329.54,294.7 329.60,294.2 329.80,292.7 329.92,292.0 329.94,292.0 330.00,291.9 330.16,292.4 330.20,292.6 330.40,294.2 330.50,294.9 330.64,295.6 330.66,295.7 330.88,296.2 330.99,296.3 331.00,296.3 331.20,296.4 331.28,296.4 331.50,296.4 331.60,296.4 331.68,296.3 332.00,296.0 332.01,296.0 332.24,295.3 332.34,294.7 332.48,293.4 332.50,293.1 332.60,291.8 332.72,290.1 332.80,289.0 332.96,287.8 333.00,287.7 333.20,289.3 333.28,290.5 333.40,292.3 333.46,293.2 333.50,293.7 333.66,295.2 333.68,295.4 333.86,296.1 333.99,296.2 334.00,296.3 334.18,296.3 334.42,296.2 334.50,296.2 334.66,296.2 334.83,296.2 334.90,296.2 335.00,296.2 335.01,296.2 335.14,296.1 335.23,296.0 335.34,295.6 335.46,295.0 335.50,294.8 335.55,294.4 335.60,294.0 335.79,292.4 335.80,292.3 335.86,291.9 336.00,291.5 336.03,291.5 336.20,292.3 336.27,292.8 336.40,294.0 336.50,294.7 336.51,294.8 336.66,295.7 336.83,296.1 336.84,296.2 336.99,296.3 337.00,296.3 337.23,296.3 337.24,296.3 337.50,296.1 337.51,296.1 337.56,296.0 337.80,295.1 337.84,294.8 338.00,293.3 338.04,292.8 338.10,291.9 338.28,289.3 338.30,289.1 338.45,287.8 338.50,287.8 338.52,287.8 338.70,289.3 338.84,291.3 338.85,291.5 338.90,292.2 339.00,293.5 339.16,295.0 339.17,295.0 339.24,295.4 339.41,295.7 339.49,295.8 339.50,295.8 339.65,295.8 339.89,295.9 340.00,295.9 340.01,295.9 340.13,295.9 340.15,295.9 340.34,295.4 340.45,294.7 340.50,294.2 340.55,293.8 340.60,293.2 340.80,290.9 340.85,290.4 340.87,290.2 341.00,289.6 341.11,289.9 341.20,290.6 341.35,292.3 341.40,292.8 341.50,293.9 341.59,294.7 341.66,295.2 341.83,295.9 341.99,296.2 342.00,296.2 342.15,296.3 342.38,296.4 342.50,296.4 342.55,296.4 342.78,296.4 343.00,296.4 343.01,296.4 343.10,296.3 343.34,296.0 343.50,295.5 343.58,295.2 343.60,295.1 343.80,294.3 343.82,294.2 344.00,293.9 344.06,294.0 344.20,294.4 344.22,294.4 344.38,295.2 344.40,295.2 344.50,295.6 344.62,296.0 344.66,296.0 344.78,296.2 344.94,296.2 344.99,296.2 345.00,296.2 345.18,296.1 345.42,296.0 345.50,296.0 345.66,296.1 345.90,296.2 346.00,296.2 346.01,296.2 346.05,296.2 346.22,296.1 346.34,295.7 346.45,295.2 346.50,294.9 346.60,294.2 346.62,294.0 346.77,292.8 346.80,292.5 347.00,291.6 347.01,291.6 347.20,292.3 347.25,292.7 347.40,293.9 347.49,294.5 347.50,294.6 347.51,294.6 347.66,295.2 347.73,295.3 347.84,295.0 347.90,294.7 347.99,293.9 348.00,293.8 348.05,293.3 348.10,292.7 348.22,291.0 348.30,290.0 348.45,288.8 348.46,288.8 348.50,288.7 348.70,289.9 348.90,292.5 348.94,293.0 349.00,293.6 349.01,293.7 349.16,294.7 349.18,294.8 349.34,294.5 349.49,293.0 349.50,292.9 349.60,291.3 349.80,287.7 349.83,287.2 349.90,286.4 350.00,285.9 350.20,287.7 350.23,288.2 350.40,291.3 350.50,292.9 350.55,293.6 350.66,294.7 350.79,295.5 350.99,295.8 351.00,295.8 351.01,295.8 351.03,295.8 351.27,295.3 351.34,295.0 351.50,293.5 351.51,293.4 351.58,292.5 351.60,292.2 351.80,289.3 351.83,289.0 351.98,287.9 352.00,287.9 352.20,289.2 352.23,289.6 352.30,290.6 352.40,292.0 352.50,293.3 352.54,293.7 352.66,294.7 352.78,295.3 352.99,295.8 353.00,295.8 353.02,295.8 353.26,296.1 353.39,296.2 353.50,296.2 353.51,296.2 353.58,296.2 353.79,295.7 353.84,295.5 353.98,294.5 354.00,294.3 354.10,293.3 354.11,293.2 354.30,291.0 354.35,290.5 354.50,289.9 354.59,290.1 354.70,291.0 354.77,291.7 354.83,292.4 354.90,293.2 355.00,294.3 355.07,294.9 355.16,295.4 355.17,295.5 355.39,296.1 355.49,296.2 355.50,296.2 355.73,296.2 355.79,296.2 355.97,296.1 356.00,296.1 356.01,296.1 356.21,295.8 356.24,295.8 356.34,295.4 356.45,294.7 356.50,294.3 356.60,293.3 356.64,292.8 356.77,291.3 356.80,291.0 356.96,290.0 357.00,289.9 357.17,290.7 357.20,291.0 357.40,293.2 357.44,293.6 357.45,293.7 357.50,294.2 357.66,295.4 357.68,295.5 357.85,296.0 357.92,296.1 357.99,296.2 358.00,296.2 358.17,296.2 358.24,296.1 358.41,296.0 358.50,296.0 358.64,296.0 358.65,296.0 358.89,296.0 358.92,296.0 359.00,296.0 359.01,296.0 359.13,296.0 359.32,295.7 359.34,295.6 359.45,295.1 359.50,294.8 359.60,294.0 359.64,293.7 359.80,292.3 359.85,292.0 359.88,291.8 360.00,291.5 360.12,291.7 360.20,292.2 360.36,293.5 360.40,293.8 360.50,294.5 360.51,294.6 360.60,295.0 360.66,295.2 360.84,294.9 360.92,294.4 360.99,293.7 361.00,293.6 361.04,293.0 361.10,292.2 361.30,289.2 361.32,289.0 361.44,287.9 361.50,287.7 361.70,289.0 361.76,289.8 361.90,291.8 362.00,293.1 362.16,294.5 362.24,294.9 362.48,295.3 362.49,295.3 362.50,295.3 362.72,295.3 363.00,294.9 363.04,294.9 363.20,293.8 363.26,290.7 363.30,285.4 363.38,262.1 363.44,239.0 363.50,227.9 363.56,239.0 363.62,262.0 363.66,275.9 363.70,285.3 363.80,293.7 363.98,294.7 364.00,294.7 364.22,294.9 364.46,295.1 364.50,295.2 364.70,295.4 364.94,295.7 365.00,295.7 365.01,295.7 365.05,295.7 365.26,295.5 365.34,295.2 365.45,294.5 365.50,294.0 365.60,293.0 365.66,292.3 365.77,291.0 365.80,290.6 366.00,289.5 366.01,289.5 366.20,290.5 366.25,291.0 366.40,292.8 366.43,293.1 366.49,293.8 366.50,293.9 366.66,295.1 366.73,295.5 366.83,295.8 366.99,296.0 367.00,296.0 367.01,296.0 367.05,296.0 367.15,295.9 367.34,295.4 367.39,295.1 367.45,294.8 367.50,294.5 367.60,293.7 367.63,293.5 367.80,292.2 367.87,291.9 368.00,291.6 368.11,292.0 368.20,292.5 368.40,294.2 368.43,294.5 368.50,295.0 368.66,295.8 368.78,296.1 368.83,296.2 368.99,296.3 369.00,296.3 369.18,296.3 369.50,296.1 369.74,295.9 369.98,295.8 370.00,295.8 370.01,295.8 370.22,295.6 370.34,295.3 370.39,295.1 370.46,294.7 370.50,294.4 370.60,293.6 370.78,292.0 370.79,291.9 370.80,291.8 371.00,290.8 371.11,291.1 371.18,291.5 371.20,291.6 371.35,292.9 371.40,293.4 371.50,294.2 371.59,294.8 371.66,295.2 371.83,295.8 371.89,295.9 371.99,296.0 372.00,296.0 372.01,296.0 372.07,296.1 372.29,296.0 372.34,296.0 372.39,295.9 372.50,295.5 372.60,295.1 372.61,295.1 372.79,294.3 372.80,294.2 372.85,294.0 373.00,293.7 373.09,293.8 373.20,294.2 373.33,294.8 373.40,295.1 373.50,295.5 373.56,295.7 373.57,295.8 373.66,296.0 373.89,296.3 373.96,296.4 373.99,296.4 374.00,296.4 374.28,296.4 374.29,296.4 374.50,296.3 374.51,296.3 374.52,296.3 374.76,296.0 374.84,295.7 375.00,294.9 375.10,294.2 375.24,293.1 375.30,292.7 375.50,292.0 375.55,292.0 375.56,292.1 375.70,292.7 375.90,294.3 375.95,294.6 375.96,294.7 376.00,294.9 376.16,295.7 376.27,295.9 376.49,296.0 376.50,296.0 376.51,296.0 376.75,296.0 376.99,296.0 377.00,296.0 377.01,296.0 377.23,296.0 377.34,295.9 377.50,295.6 377.55,295.4 377.60,295.2 377.78,294.5 377.80,294.4 377.95,294.0 378.00,294.0 378.18,294.3 378.20,294.4 378.40,295.2 378.50,295.6 378.66,296.0 378.74,296.2 378.98,296.3 378.99,296.3 379.00,296.3 379.22,296.4 379.46,296.4 379.50,296.4 379.78,296.4 379.98,296.4 380.00,296.4 380.01,296.4 380.18,296.3 380.34,295.9 380.38,295.8 380.50,295.2 380.60,294.6 380.70,293.9 380.80,293.2 380.94,292.6 381.00,292.5 381.18,292.9 381.20,293.0 381.40,294.3 381.42,294.4 381.50,294.9 381.66,295.7 381.98,296.3 381.99,296.3 382.00,296.3 382.15,296.4 382.38,296.5 382.50,296.5 382.55,296.4 382.87,296.4 383.00,296.4 383.01,296.4 383.11,296.3 383.34,296.1 383.35,296.1 383.50,295.9 383.54,295.8 383.59,295.7 383.60,295.6 383.80,295.1 383.83,295.1 383.94,294.9 384.00,294.9 384.15,294.9 384.20,295.0 384.26,295.1 384.40,295.4 384.50,295.5 384.55,295.6 384.66,295.7 384.74,295.8 384.98,296.0 384.99,296.0 385.00,296.0 385.01,296.0 385.22,295.9 385.34,295.7 385.38,295.6 385.50,295.2 385.54,294.9 385.60,294.6 385.70,293.9 385.80,293.3 385.94,292.7 386.00,292.6 386.18,293.0 386.20,293.1 386.40,294.4 386.42,294.5 386.50,295.0 386.66,295.8 386.98,296.4 386.99,296.4 387.00,296.4 387.26,296.3 387.38,296.3 387.50,296.3 387.66,296.2 387.98,296.0 388.00,296.0 388.22,295.8 388.46,295.6 388.50,295.6 388.70,295.5 388.94,295.4 389.00,295.3 389.20,294.5 389.26,292.3 389.30,288.5 389.33,283.7 389.38,271.6 389.44,254.9 389.50,247.0 389.56,254.9 389.62,271.6 389.66,281.6 389.70,288.5 389.73,291.6 389.80,294.6 390.00,295.3 390.05,295.4 390.29,295.6 390.50,295.7 390.53,295.7 390.77,295.9 391.00,296.1 391.01,296.1 391.33,295.9 391.34,295.9 391.50,295.5 391.60,295.1 391.67,294.8 391.73,294.6 391.80,294.3 392.00,294.0 392.07,294.0 392.20,294.3 392.39,295.1 392.40,295.1 392.50,295.4 392.63,295.7 392.66,295.8 392.87,296.0 392.99,296.1 393.00,296.1 393.11,296.1 393.27,296.3 393.35,296.3 393.50,296.4 393.51,296.4 393.67,296.3 393.84,296.2 393.99,295.8 394.00,295.8 394.07,295.6 394.10,295.5 394.23,295.0 394.30,294.8 394.47,294.5 394.50,294.5 394.70,294.8 394.71,294.9 394.90,295.5 394.95,295.7 395.00,295.8 395.01,295.8 395.16,296.0 395.27,296.0 395.34,295.8 395.49,295.1 395.50,295.0 395.60,294.3 395.67,293.8 395.80,292.7 395.89,292.2 396.00,291.9 396.20,292.6 396.21,292.7 396.40,294.2 396.45,294.5 396.50,294.9 396.66,295.7 396.69,295.8 396.93,296.2 396.99,296.3 397.00,296.3 397.01,296.3 397.17,296.4 397.34,296.3 397.49,296.1 397.50,296.0 397.60,295.8 397.62,295.7 397.80,295.2 397.89,295.0 398.00,294.9 398.02,294.9 398.20,295.1 398.34,295.5 398.40,295.6 398.50,295.8 398.58,296.0 398.66,296.1 398.82,296.2 398.99,296.3 399.00,296.3 399.06,296.3 399.30,296.5 399.50,296.6 399.62,296.6 399.99,296.6 400.00,296.6 400.02,296.6 400.39,296.5 400.50,296.4 400.51,296.4 400.71,296.0 400.84,295.3 400.95,294.3 401.00,293.7 401.10,292.4 401.19,291.1 401.30,289.5 401.43,288.4 401.50,288.2 401.67,289.4 401.70,289.7 401.90,292.7 401.94,293.2 401.99,293.9 402.00,294.0 402.16,295.5 402.34,296.2 402.39,296.3 402.49,296.4 402.50,296.4 402.66,296.4 402.90,296.3 403.00,296.2 403.01,296.2 403.14,296.2 403.34,296.1 403.38,296.0 403.50,295.9 403.60,295.6 403.62,295.6 403.80,295.2 403.86,295.0 403.94,294.9 404.00,294.9 404.20,295.2 404.26,295.4 404.34,295.6 404.40,295.8 404.50,296.0 404.58,296.1 404.66,296.2 404.82,296.3 404.99,296.2 405.00,296.2 405.01,296.2 405.06,296.2 405.17,296.2 405.30,296.1 405.34,296.0 405.50,295.6 405.54,295.5 405.57,295.3 405.60,295.2 405.80,294.3 405.86,294.1 405.89,294.0 406.00,293.9 406.13,294.1 406.20,294.4 406.26,294.6 406.37,295.2 406.40,295.3 406.50,295.8 406.61,296.2 406.66,296.3 406.85,296.6 406.99,296.7 407.00,296.7 407.17,296.8 407.20,296.8 407.50,296.8 407.57,296.8 407.60,296.8 407.92,296.7 408.00,296.7 408.16,296.6 408.40,296.6 408.50,296.6 408.64,296.7 408.88,296.7 409.00,296.8 409.20,296.8 409.40,296.8 409.50,296.8 409.60,296.7 409.72,296.7 409.91,296.5 409.96,296.4 410.00,296.3 410.20,295.5 410.24,295.2 410.44,293.0 410.50,292.0 410.68,289.0 410.70,288.7 410.90,287.1 411.00,287.6 411.10,288.8 411.13,289.3 411.30,292.2 411.40,293.7 411.50,294.9 411.53,295.2 411.56,295.4 411.85,296.5 411.89,296.5 412.00,296.6 412.01,296.6 412.09,296.5 412.33,296.3 412.34,296.3 412.50,296.0 412.57,295.8 412.60,295.7 412.79,295.2 412.80,295.1 412.81,295.1 413.00,294.9 413.13,295.0 413.19,295.2 413.20,295.2 413.40,295.8 413.50,296.0 413.51,296.1 413.53,296.1 413.66,296.3 413.75,296.3 413.99,296.4 414.00,296.4 414.23,296.5 414.47,296.7 414.50,296.7 414.79,296.9 415.00,297.0 415.16,297.0 415.19,297.0 415.50,297.0 415.56,297.0 415.88,296.9 416.00,296.9 416.01,296.9 416.12,296.9 416.34,296.8 416.36,296.7 416.50,296.6 416.60,296.4 416.80,296.1 416.84,296.1 416.95,296.0 417.00,296.0 417.16,296.1 417.20,296.1 417.35,296.4 417.40,296.5 417.50,296.6 417.56,296.7 417.66,296.7 417.67,296.8 417.91,296.8 417.99,296.7 418.00,296.7 418.15,296.7 418.39,296.8 418.50,296.9 418.63,296.9 418.75,297.0 418.95,297.0 419.00,297.0 419.15,297.0 419.35,297.0 419.47,297.0 419.50,297.0 419.71,297.0 419.95,296.9 420.00,296.9 420.13,297.0 420.19,297.0 420.43,297.0 420.50,297.0 420.53,297.0 420.75,297.0 420.85,297.0 421.00,297.0 421.09,296.9 421.15,296.9 421.31,296.8 421.33,296.8 421.50,296.6 421.57,296.5 421.64,296.2 421.80,295.4 421.81,295.3 421.90,294.6 422.00,293.7 422.10,292.8 422.13,292.6 422.20,292.2 422.30,291.9 422.50,292.7 422.52,292.9 422.53,293.0 422.70,294.5 422.76,294.9 422.96,296.1 423.00,296.3 423.24,296.8 423.29,296.8 423.48,297.0 423.50,297.0 423.73,297.1 423.80,297.1 424.00,297.1 424.01,297.1 424.13,297.1 424.20,297.0 424.34,296.9 424.45,296.8 424.50,296.7 424.60,296.5 424.69,296.2 424.80,296.0 424.93,295.8 425.00,295.8 425.17,296.0 425.20,296.0 425.40,296.5 425.41,296.5 425.50,296.7 425.66,297.0 425.73,297.1 425.99,297.1 426.00,297.1 426.06,297.1 426.13,297.1 426.38,297.0 426.50,296.9 426.62,296.8 426.86,296.7 427.00,296.7 427.10,296.8 427.34,297.0 427.50,297.1 427.66,297.2 427.84,297.2 428.00,297.2 428.06,297.2 428.24,297.2 428.50,297.1 428.56,297.0 428.80,296.8 429.00,296.7 429.04,296.7 429.28,296.8 429.50,297.0 429.52,297.0 429.81,297.2 429.84,297.2 430.00,297.3 430.21,297.2 430.24,297.2 430.50,297.1 430.53,297.1 430.77,297.0 431.00,296.9 431.01,296.9 431.25,297.0 431.49,297.1 431.50,297.1 431.81,297.3 432.00,297.3 432.08,297.3 432.21,297.3 432.48,297.3 432.50,297.3 432.80,297.1 433.00,296.9 433.04,296.9 433.28,296.8 433.50,296.9 433.52,296.9 433.76,297.1 433.92,297.2 434.00,297.2 434.08,297.2 434.24,297.2 434.48,297.1 434.50,297.1 434.72,297.0 434.96,297.1 435.00,297.1 435.20,297.2 435.49,297.3 435.50,297.3 435.52,297.3 435.89,297.3 435.92,297.3 436.00,297.3 436.21,297.1 436.45,296.9 436.50,296.8 436.69,296.7 436.81,296.7 436.93,296.6 437.00,296.5 437.14,295.9 437.17,295.7 437.40,293.2 437.44,292.7 437.49,291.9 437.50,291.8 437.60,290.4 437.80,289.0 437.84,289.1 437.89,289.3 438.00,290.4 438.16,292.7 438.20,293.3 438.40,295.7 438.46,296.1 438.50,296.4 438.64,296.9 438.79,297.2 438.88,297.3 439.00,297.3 439.12,297.4 439.14,297.4 439.44,297.4 439.50,297.4 439.54,297.4 439.84,297.3 439.86,297.3 440.00,297.3 440.10,297.2 440.34,297.2 440.37,297.2 440.50,297.2 440.58,297.2 440.77,297.3 440.82,297.3 441.00,297.3 441.01,297.3 441.09,297.3 441.14,297.2 441.33,297.1 441.34,297.1 441.50,297.0 441.54,297.0 441.57,296.9 441.60,296.9 441.80,296.8 441.81,296.8 442.00,296.8 442.05,296.8 442.20,297.0 442.37,297.2 442.40,297.2 442.43,297.3 442.50,297.3 442.66,297.4 442.77,297.4 442.83,297.4 442.99,297.4 443.00,297.4 443.15,297.3 443.39,297.2 443.50,297.1 443.63,297.1 443.87,297.2 444.00,297.3 444.11,297.3 444.43,297.5 444.50,297.5 444.61,297.5 444.83,297.5 445.00,297.5 445.01,297.5 445.33,297.3 445.50,297.2 445.57,297.2 445.81,297.1 446.00,297.2 446.05,297.2 446.29,297.4 446.43,297.4 446.50,297.5 446.61,297.5 446.83,297.5 447.00,297.4 447.01,297.4 447.15,297.3 447.39,297.1 447.50,297.1 447.63,297.0 447.87,297.1 448.00,297.2 448.11,297.3 448.43,297.5 448.50,297.5 448.68,297.5 448.83,297.5 449.00,297.5 449.08,297.5 449.40,297.4 449.50,297.3 449.64,297.2 449.88,297.2 450.00,297.2 450.12,297.2 450.36,297.4 450.50,297.5 450.68,297.5 450.90,297.5 451.00,297.5 451.08,297.5 451.22,297.5 451.46,297.4 451.50,297.4 451.70,297.3 451.94,297.4 452.00,297.4 452.18,297.5 452.42,297.5 452.50,297.6 452.82,297.5 452.90,297.5 453.00,297.5 453.14,297.4 453.38,297.3 453.50,297.3 453.62,297.3 453.86,297.3 454.00,297.4 454.10,297.4 454.42,297.6 454.50,297.6 454.69,297.6 454.82,297.6 455.00,297.6 455.09,297.6 455.41,297.5 455.50,297.5 455.65,297.5 455.89,297.4 456.00,297.4 456.13,297.5 456.37,297.5 456.50,297.6 456.61,297.6 456.69,297.6 457.00,297.6 457.01,297.6 457.09,297.5 457.33,297.4 457.50,297.3 457.57,297.3 457.81,297.2 458.00,297.3 458.05,297.3 458.29,297.4 458.50,297.5 458.61,297.6 458.85,297.6 459.00,297.6 459.01,297.6 459.25,297.5 459.34,297.4 459.50,297.2 459.57,297.1 459.60,297.1 459.80,296.7 459.81,296.7 460.00,296.5 460.05,296.5 460.19,296.6 460.20,296.6 460.29,296.8 460.40,297.0 460.50,297.1 460.53,297.2 460.59,297.2 460.66,297.3 460.85,297.4 460.91,297.3 460.99,297.3 461.00,297.3 461.15,297.2 461.25,297.2 461.39,297.2 461.50,297.2 461.63,297.2 461.87,297.4 462.00,297.5 462.19,297.6 462.22,297.6 462.50,297.6 462.59,297.6 462.62,297.6 462.94,297.5 463.00,297.5 463.18,297.5 463.42,297.4 463.50,297.4 463.66,297.5 463.90,297.6 464.00,297.6 464.22,297.6 464.50,297.7 464.51,297.7 464.62,297.7 464.91,297.6 465.00,297.6 465.23,297.5 465.47,297.4 465.50,297.3 465.71,297.3 465.81,297.3 465.95,297.4 466.00,297.4 466.19,297.5 466.21,297.5 466.50,297.5 466.51,297.5 466.53,297.5 466.77,297.5 466.91,297.4 467.00,297.4 467.01,297.4 467.25,297.5 467.49,297.6 467.50,297.6 467.65,297.6 467.81,297.7 468.00,297.6 468.05,297.6 468.21,297.6 468.37,297.5 468.50,297.4 468.51,297.4 468.61,297.3 468.84,297.2 468.85,297.2 469.00,297.2 469.09,297.2 469.10,297.2 469.30,297.3 469.33,297.3 469.38,297.3 469.50,297.4 469.65,297.4 469.70,297.4 469.78,297.5 469.90,297.5 470.00,297.5 470.05,297.5 470.10,297.4 470.16,297.4 470.34,297.3 470.49,297.3 470.50,297.3 470.58,297.3 470.82,297.3 471.00,297.5 471.06,297.5 471.38,297.7 471.50,297.7 471.78,297.7 471.90,297.7 472.00,297.7 472.22,297.6 472.46,297.4 472.50,297.4 472.70,297.4 472.94,297.4 473.00,297.5 473.18,297.6 473.37,297.7 473.50,297.7 473.77,297.7 473.90,297.7 474.00,297.7 474.09,297.7 474.33,297.6 474.50,297.6 474.57,297.6 474.69,297.6 474.81,297.6 475.00,297.6 475.05,297.6 475.09,297.6 475.37,297.6 475.41,297.6 475.50,297.6 475.65,297.5 475.77,297.5 475.89,297.5 475.94,297.5 476.00,297.5 476.13,297.5 476.34,297.5 476.37,297.6 476.50,297.5 476.66,297.5 476.69,297.5 476.90,297.4 477.00,297.3 477.09,297.3 477.14,297.3 477.38,297.4 477.50,297.5 477.62,297.5 477.94,297.7 477.98,297.7 478.00,297.7 478.34,297.7 478.38,297.7 478.50,297.7 478.70,297.6 478.94,297.4 479.00,297.4 479.18,297.3 479.42,297.4 479.50,297.5 479.66,297.6 479.98,297.7 480.00,297.7 480.15,297.8 480.38,297.8 480.50,297.7 480.55,297.7 480.87,297.6 481.00,297.5 481.11,297.4 481.35,297.3 481.50,297.3 481.59,297.4 481.83,297.5 482.00,297.7 482.15,297.7 482.19,297.7 482.50,297.8 482.55,297.7 482.59,297.7 482.91,297.6 483.00,297.5 483.01,297.5 483.15,297.4 483.34,297.1 483.39,297.0 483.50,296.7 483.60,296.3 483.63,296.2 483.80,295.6 483.87,295.4 483.90,295.4 484.00,295.3 484.19,295.6 484.20,295.7 484.22,295.7 484.40,296.4 484.46,296.6 484.50,296.7 484.59,297.0 484.66,297.1 484.70,297.2 484.94,297.4 484.99,297.4 485.00,297.5 485.01,297.5 485.18,297.5 485.30,297.4 485.34,297.3 485.50,296.8 485.60,296.4 485.70,295.9 485.80,295.4 485.90,295.0 486.00,294.8 486.02,294.8 486.20,295.2 486.26,295.4 486.40,296.1 486.50,296.5 486.51,296.6 486.66,297.0 486.74,297.1 486.84,297.2 486.93,297.1 486.98,297.0 486.99,297.0 487.00,297.0 487.10,296.8 487.30,296.2 487.33,296.1 487.50,295.9 487.65,296.1 487.70,296.2 487.89,296.8 487.90,296.8 488.00,297.1 488.13,297.4 488.16,297.4 488.22,297.5 488.37,297.6 488.49,297.7 488.50,297.7 488.51,297.7 488.61,297.7 488.62,297.7 488.84,297.5 488.93,297.4 488.94,297.4 489.00,297.3 489.10,297.1 489.18,297.0 489.30,296.7 489.33,296.7 489.42,296.6 489.50,296.6 489.66,296.7 489.70,296.8 489.76,296.9 489.90,297.2 490.00,297.4 490.16,297.6 490.22,297.6 490.48,297.7 490.49,297.7 490.50,297.7 490.62,297.6 490.72,297.6 490.96,297.5 491.00,297.5 491.20,297.5 491.41,297.4 491.44,297.4 491.50,297.3 491.62,296.8 491.74,295.8 491.76,295.6 492.00,291.1 492.02,290.6 492.16,287.2 492.20,286.3 492.34,284.2 492.40,283.9 492.50,284.6 492.58,285.9 492.60,286.3 492.80,291.0 492.82,291.5 493.00,294.9 493.01,295.1 493.06,295.7 493.30,297.1 493.34,297.2 493.39,297.2 493.50,297.1 493.54,297.0 493.60,296.8 493.62,296.7 493.80,296.2 493.94,295.9 494.00,295.8 494.02,295.8 494.20,296.1 494.26,296.2 494.40,296.6 494.50,296.9 494.66,297.1 494.74,297.2 494.98,297.5 494.99,297.5 495.00,297.5 495.22,297.6 495.28,297.7 495.50,297.8 495.54,297.8 495.68,297.8 495.94,297.7 496.00,297.6 496.24,297.4 496.48,297.3 496.50,297.3 496.66,297.4 496.72,297.4 496.96,297.6 497.00,297.6 497.06,297.7 497.28,297.7 497.38,297.6 497.50,297.6 497.62,297.5 497.68,297.5 497.86,297.5 498.00,297.5 498.10,297.5 498.34,297.7 498.50,297.8 498.66,297.9 498.99,297.9 499.00,297.9 499.06,297.9 499.39,297.9 499.50,297.9 499.71,297.9 499.95,297.8 500.00,297.8 500.19,297.8 500.43,297.8 500.50,297.8 500.60,297.9 500.67,297.9 500.99,297.9 501.00,297.9 501.32,297.9 501.39,297.9 501.50,297.9 501.56,297.9 501.80,297.8 502.00,297.9 502.04,297.9 502.28,297.9 502.48,297.9 502.50,297.9 502.60,297.9 502.88,297.9 503.00,297.9 503.01,297.9 503.20,297.8 503.34,297.7 503.44,297.6 503.50,297.5 503.60,297.4 503.68,297.2 503.80,297.0 503.92,296.9 504.00,296.9 504.16,297.0 504.20,297.0 504.40,297.3 504.48,297.4 504.50,297.4 504.52,297.4 504.66,297.4 504.76,297.4 504.88,297.4 504.99,297.4 505.00,297.4 505.24,297.5 505.48,297.7 505.50,297.7 505.74,297.9 505.80,297.9 506.00,297.9 506.14,297.9 506.20,297.9 506.46,297.9 506.50,297.9 506.70,297.8 506.94,297.8 507.00,297.8 507.18,297.8 507.42,297.9 507.50,297.9 507.74,298.0 508.00,298.0 508.14,298.0" fill="none" stroke="#62ba62" stroke-width="0.8" stroke-opacity="1" stroke-linejoin="round"/>
<path d="M66.00,314.1 66.20,313.7 66.50,313.2 66.52,313.2 66.76,312.8 67.00,312.4 67.24,312.0 67.27,312.0 67.48,311.6 67.50,310.5 67.67,310.2 67.80,309.8 67.99,309.2 68.00,309.2 68.20,307.6 68.23,306.3 68.30,298.1 68.38,272.1 68.44,246.4 68.47,237.5 68.50,234.1 68.56,246.2 68.62,271.8 68.70,297.5 68.71,299.4 68.80,306.7 68.95,307.8 69.00,307.8 69.27,308.0 69.50,308.0 69.67,307.9 69.99,307.5 70.00,307.5 70.01,307.5 70.23,307.3 70.34,307.1 70.47,306.7 70.50,306.6 70.60,306.1 70.71,305.6 70.80,305.2 70.95,304.8 71.00,304.9 71.20,305.5 71.27,305.8 71.33,306.2 71.40,306.6 71.50,307.1 71.66,307.6 71.67,307.7 71.73,307.8 71.99,308.0 72.00,308.0 72.05,308.0 72.29,308.0 72.50,307.9 72.53,307.9 72.77,308.0 73.00,308.0 73.01,307.8 73.06,307.8 73.33,307.7 73.46,307.6 73.50,307.6 73.73,307.4 73.78,307.3 74.00,307.0 74.02,307.0 74.26,306.4 74.50,305.7 74.74,305.0 74.90,304.5 75.00,304.0 75.06,303.8 75.20,301.7 75.30,286.3 75.38,244.0 75.44,202.1 75.46,191.5 75.50,182.0 75.56,201.9 75.62,243.6 75.70,285.7 75.80,300.7 75.86,302.0 76.00,302.5 76.01,302.5 76.10,302.8 76.34,303.3 76.50,303.6 76.58,303.6 76.60,303.6 76.80,303.6 76.90,303.6 76.95,303.7 77.00,303.7 77.20,304.1 77.30,304.4 77.35,304.5 77.40,304.7 77.50,304.9 77.66,305.1 77.67,305.2 77.91,305.3 77.99,305.3 78.00,305.6 78.15,305.6 78.39,305.7 78.50,305.7 78.63,305.8 78.70,305.8 78.95,305.9 79.00,306.0 79.10,306.1 79.35,306.3 79.42,306.4 79.50,306.5 79.66,306.6 79.90,306.8 80.00,307.0 80.14,307.2 80.32,307.4 80.38,307.5 80.50,307.7 80.70,307.9 80.72,307.9 81.00,308.2 81.04,308.2 81.10,308.3 81.28,308.4 81.50,308.6 81.52,308.6 81.76,308.9 81.77,308.9 82.00,309.2 82.17,309.2 82.32,309.2 82.49,309.1 82.50,309.1 82.72,309.0 82.73,309.0 82.97,308.8 83.00,308.8 83.20,308.5 83.21,308.5 83.30,306.2 83.38,299.6 83.44,293.0 83.45,292.1 83.50,289.9 83.55,292.2 83.56,293.0 83.62,299.6 83.70,306.3 83.77,308.4 83.80,308.7 83.95,309.0 84.00,309.0 84.17,309.1 84.27,309.1 84.50,309.1 84.51,309.1 84.75,309.2 84.89,309.2 84.99,309.2 85.00,309.2 85.23,309.3 85.29,309.3 85.50,309.3 85.55,309.3 85.61,309.3 85.85,309.3 85.95,309.2 86.00,309.3 86.09,309.3 86.33,309.3 86.50,309.4 86.51,309.4 86.57,309.4 86.89,309.4 86.91,309.4 87.00,309.4 87.01,309.4 87.23,309.2 87.29,309.2 87.34,309.1 87.47,308.9 87.50,308.9 87.60,308.7 87.71,308.5 87.80,308.3 87.95,308.2 88.00,308.2 88.19,308.5 88.20,308.5 88.34,308.8 88.40,308.9 88.50,309.1 88.51,309.1 88.66,309.3 88.74,309.4 88.91,309.4 88.99,309.4 89.00,309.4 89.06,309.4 89.30,309.4 89.50,309.4 89.54,309.4 89.78,309.4 90.00,309.4 90.02,309.4 90.34,309.5 90.37,309.5 90.50,309.5 90.74,309.4 90.77,309.4 91.00,309.3 91.01,309.3 91.09,309.3 91.33,309.0 91.34,309.0 91.50,308.8 91.57,308.7 91.60,308.6 91.69,308.5 91.80,308.3 91.81,308.3 92.00,308.3 92.05,308.3 92.09,308.3 92.20,308.5 92.37,308.8 92.40,308.9 92.41,308.9 92.50,309.0 92.65,309.1 92.66,309.1 92.77,309.2 92.89,309.2 92.93,309.2 92.99,309.3 93.00,309.3 93.13,309.3 93.33,309.3 93.37,309.3 93.50,309.4 93.65,309.4 93.69,309.4 93.89,309.3 94.00,309.3 94.09,309.3 94.13,309.3 94.19,309.3 94.37,309.3 94.50,309.3 94.59,309.3 94.61,309.4 94.91,309.3 94.93,309.3 95.00,309.3 95.15,309.2 95.33,309.2 95.39,309.2 95.50,309.2 95.63,309.2 95.79,309.3 95.87,309.3 96.00,309.3 96.11,309.3 96.19,309.3 96.35,309.3 96.50,309.3 96.59,309.3 96.83,309.3 97.00,309.4 97.07,309.4 97.39,309.5 97.50,309.5 97.56,309.5 97.79,309.5 97.81,309.5 97.96,309.3 98.00,309.2 98.14,308.7 98.28,307.7 98.40,306.5 98.50,305.4 98.52,305.2 98.60,304.4 98.76,303.4 98.80,303.3 99.00,304.4 99.20,306.5 99.24,307.0 99.46,308.6 99.50,308.8 99.51,308.9 99.56,309.0 99.79,309.0 99.84,308.9 99.86,308.8 99.96,308.3 100.00,308.1 100.10,307.3 100.18,306.6 100.30,305.6 100.42,305.0 100.50,304.8 100.66,305.3 100.70,305.6 100.90,307.3 101.00,308.0 101.02,308.2 101.14,308.8 101.16,308.9 101.42,309.4 101.46,309.5 101.49,309.5 101.50,309.5 101.51,309.5 101.74,309.1 101.84,308.7 101.86,308.6 101.98,307.8 102.00,307.6 102.10,306.6 102.22,305.4 102.30,304.6 102.46,303.8 102.50,303.7 102.70,304.8 102.88,306.7 102.90,306.9 103.00,307.8 103.01,307.9 103.02,307.9 103.16,308.7 103.28,308.8 103.34,308.8 103.42,308.5 103.49,308.1 103.50,308.0 103.60,307.3 103.80,305.5 103.84,305.2 104.00,304.7 104.08,304.8 104.20,305.5 104.32,306.6 104.40,307.3 104.50,308.1 104.56,308.5 104.66,309.1 104.79,309.5 104.88,309.7 104.99,309.8 105.00,309.8 105.19,309.8 105.28,309.8 105.50,309.8 105.51,309.8 105.75,309.7 105.99,309.7 106.00,309.7 106.23,309.7 106.47,309.8 106.50,309.8 106.79,309.9 107.00,309.9 107.01,309.9 107.17,309.9 107.19,309.9 107.34,309.7 107.50,309.3 107.57,309.1 107.60,309.0 107.80,308.3 107.89,308.0 108.00,307.9 108.13,308.0 108.20,308.1 108.37,308.7 108.40,308.8 108.50,309.1 108.61,309.4 108.66,309.5 108.84,309.8 108.85,309.8 108.99,309.9 109.00,309.9 109.17,309.9 109.24,309.9 109.50,309.9 109.51,309.9 109.56,309.9 109.57,309.8 109.80,309.6 109.84,309.6 110.00,309.2 110.04,309.1 110.10,308.9 110.28,308.3 110.30,308.2 110.31,308.2 110.50,307.9 110.52,307.9 110.70,308.3 110.71,308.3 110.84,308.7 110.90,308.9 111.00,309.2 111.03,309.3 111.16,309.5 111.24,309.6 111.27,309.6 111.49,309.7 111.50,309.7 111.51,309.7 111.75,309.7 111.99,309.8 112.00,309.8 112.01,309.8 112.31,309.6 112.34,309.6 112.50,309.2 112.60,308.8 112.61,308.7 112.71,308.3 112.80,307.9 113.00,307.4 113.01,307.4 113.20,307.8 113.33,308.3 113.40,308.6 113.50,308.9 113.57,309.1 113.66,309.3 113.81,309.5 113.99,309.6 114.00,309.6 114.05,309.6 114.17,309.7 114.29,309.8 114.50,309.9 114.57,309.9 114.61,309.9 114.89,309.9 115.00,309.9 115.01,309.9 115.13,309.8 115.37,309.8 115.50,309.8 115.61,309.8 115.76,309.9 115.85,309.9 116.00,309.9 116.16,309.9 116.17,309.9 116.48,309.7 116.50,309.7 116.57,309.7 116.72,309.6 116.96,309.4 117.00,309.4 117.01,309.4 117.20,309.2 117.23,309.2 117.34,308.9 117.44,308.4 117.50,308.1 117.60,307.3 117.63,307.1 117.76,306.0 117.80,305.7 117.95,304.9 118.00,304.8 118.16,305.2 118.19,305.4 118.20,305.4 118.40,306.9 118.43,307.2 118.50,307.7 118.66,308.5 118.67,308.5 118.91,309.1 118.97,309.1 118.99,309.1 119.00,309.1 119.01,309.1 119.23,309.0 119.34,308.7 119.37,308.6 119.50,307.9 119.60,307.2 119.63,307.0 119.69,306.5 119.80,305.7 119.93,305.0 120.00,304.9 120.17,305.4 120.20,305.5 120.33,306.5 120.40,307.0 120.41,307.1 120.50,307.7 120.65,308.4 120.66,308.4 120.73,308.6 120.97,308.9 120.99,308.9 121.00,308.9 121.05,308.9 121.29,308.9 121.37,308.8 121.50,308.8 121.51,308.7 121.53,308.7 121.77,308.4 121.84,308.1 122.00,307.3 122.01,307.2 122.10,306.5 122.30,304.8 122.33,304.6 122.50,304.0 122.59,304.2 122.70,304.8 122.73,305.0 122.90,306.4 122.99,307.1 123.00,307.1 123.16,307.9 123.31,308.3 123.49,308.4 123.50,308.4 123.55,308.4 123.79,308.4 124.00,308.3 124.01,308.3 124.03,308.3 124.27,308.1 124.34,307.9 124.43,307.6 124.50,307.3 124.59,306.8 124.60,306.8 124.80,305.5 124.83,305.4 124.99,304.9 125.00,304.9 125.15,305.1 125.20,305.3 125.39,306.3 125.40,306.3 125.50,306.8 125.63,307.3 125.66,307.4 125.87,307.8 125.99,307.9 126.00,307.9 126.11,307.9 126.21,308.0 126.43,308.0 126.50,308.0 126.51,308.0 126.61,307.9 126.83,307.5 126.84,307.4 126.93,307.1 127.00,306.7 127.10,306.1 127.17,305.7 127.30,304.8 127.41,304.4 127.50,304.2 127.65,304.6 127.70,304.8 127.89,306.0 127.90,306.1 128.00,306.6 128.09,307.0 128.16,307.2 128.21,307.3 128.49,307.5 128.50,307.5 128.51,307.5 128.61,307.5 128.81,307.3 128.84,307.2 129.00,306.9 129.05,306.7 129.10,306.6 129.29,305.9 129.30,305.9 129.50,305.5 129.53,305.5 129.70,305.7 129.77,305.8 129.90,306.1 130.00,306.3 130.09,306.4 130.16,306.3 130.20,306.1 130.28,303.7 130.30,302.3 130.38,291.6 130.44,281.0 130.49,276.1 130.50,275.9 130.56,281.0 130.62,291.6 130.68,300.5 130.70,302.4 130.80,306.2 131.00,306.7 131.24,306.8 131.48,306.9 131.50,306.9 131.72,307.0 131.94,307.1 131.96,307.1 132.00,307.2 132.01,307.2 132.28,307.1 132.34,307.0 132.50,306.5 132.60,306.1 132.66,305.8 132.68,305.8 132.80,305.2 132.90,304.9 133.00,304.8 133.14,305.0 133.20,305.2 133.26,305.5 133.38,306.0 133.40,306.1 133.50,306.5 133.62,306.9 133.66,307.0 133.94,307.2 133.98,307.2 133.99,307.2 134.00,307.2 134.22,307.1 134.34,307.1 134.46,307.1 134.50,307.1 134.70,307.2 134.94,307.3 135.00,307.3 135.01,307.3 135.05,307.3 135.26,307.3 135.34,307.3 135.45,307.2 135.50,307.1 135.60,306.9 135.66,306.8 135.77,306.5 135.80,306.5 136.00,306.2 136.01,306.2 136.20,306.3 136.25,306.4 136.40,306.7 136.49,306.9 136.50,306.9 136.66,307.1 136.73,307.2 136.99,307.4 137.00,307.4 137.05,307.4 137.35,307.5 137.45,307.5 137.50,307.5 137.75,307.4 138.00,307.4 138.07,307.3 138.31,307.2 138.50,307.1 138.51,307.1 138.55,307.1 138.66,307.0 138.79,306.9 138.84,306.8 139.00,306.3 139.03,306.2 139.06,306.1 139.10,305.9 139.30,304.9 139.35,304.7 139.38,304.6 139.50,304.4 139.62,304.5 139.70,304.8 139.75,305.1 139.86,305.7 139.90,305.9 140.00,306.4 140.10,306.7 140.16,306.9 140.24,307.1 140.34,307.2 140.49,307.3 140.50,307.3 140.51,307.3 140.64,307.2 140.66,307.2 140.84,306.7 140.96,306.0 141.00,305.8 141.06,305.0 141.10,304.6 141.20,303.6 141.30,302.7 141.44,301.9 141.50,301.7 141.68,302.3 141.70,302.5 141.90,304.0 141.92,304.2 142.00,304.7 142.16,305.4 142.24,305.5 142.29,305.5 142.49,305.3 142.50,305.3 142.64,304.9 142.69,304.7 143.00,303.4 143.01,303.3 143.20,300.2 143.25,294.2 143.30,277.9 143.38,216.0 143.44,154.8 143.49,126.5 143.50,125.6 143.56,154.8 143.62,216.0 143.70,277.9 143.73,289.3 143.80,300.3 143.97,303.2 144.00,303.4 144.29,304.7 144.40,305.0 144.50,305.2 144.51,305.3 144.69,305.4 144.72,305.4 144.84,305.3 144.96,304.9 145.00,304.7 145.10,304.0 145.20,303.4 145.30,302.7 145.44,302.2 145.50,302.2 145.68,303.0 145.70,303.2 145.90,304.9 146.00,306.0 146.16,306.8 146.39,307.3 146.40,307.3 146.49,307.4 146.50,307.4 146.79,307.4 147.00,307.3 147.01,307.3 147.11,307.2 147.34,307.0 147.35,306.9 147.50,306.6 147.59,306.4 147.60,306.4 147.80,305.9 147.83,305.9 148.00,305.8 148.07,305.9 148.20,306.1 148.37,306.6 148.39,306.7 148.40,306.7 148.50,307.0 148.66,307.2 148.77,307.3 148.79,307.3 148.99,307.3 149.00,307.3 149.09,307.3 149.33,307.2 149.50,307.1 149.57,307.1 149.81,307.2 149.84,307.2 150.00,307.3 150.01,307.3 150.05,307.3 150.24,307.4 150.34,307.4 150.37,307.4 150.50,307.4 150.56,307.3 150.60,307.3 150.77,307.2 150.80,307.2 151.00,307.1 151.04,307.1 151.20,307.3 151.28,307.4 151.40,307.5 151.50,307.7 151.52,307.7 151.66,307.8 151.74,307.9 151.84,308.0 151.99,308.1 152.00,308.1 152.14,308.1 152.24,308.1 152.46,308.1 152.50,308.1 152.70,308.1 152.94,308.2 153.00,308.2 153.18,308.3 153.42,308.4 153.50,308.4 153.58,308.5 153.74,308.5 153.90,308.5 154.00,308.5 154.14,308.5 154.38,308.5 154.50,308.5 154.62,308.6 154.75,308.7 154.86,308.8 155.00,308.9 155.15,309.0 155.18,309.0 155.47,309.0 155.50,309.0 155.58,309.0 155.71,308.9 155.95,309.0 156.00,309.0 156.19,309.1 156.43,309.3 156.50,309.3 156.73,309.5 156.75,309.5 157.00,309.6 157.13,309.6 157.15,309.6 157.45,309.6 157.50,309.7 157.69,309.7 157.93,309.7 158.00,309.7 158.17,309.8 158.41,309.9 158.50,310.0 158.65,310.1 158.73,310.1 159.00,310.1 159.01,310.1 159.05,310.1 159.13,310.1 159.34,310.1 159.37,310.0 159.50,309.9 159.60,309.8 159.61,309.8 159.80,309.7 159.85,309.7 160.00,309.7 160.09,309.7 160.20,309.8 160.33,310.0 160.40,310.1 160.50,310.2 160.65,310.4 160.66,310.4 160.99,310.5 161.00,310.5 161.05,310.5 161.39,310.5 161.50,310.5 161.71,310.5 161.95,310.4 162.00,310.4 162.01,310.4 162.19,310.4 162.34,310.3 162.43,310.2 162.50,310.1 162.60,310.0 162.67,309.8 162.80,309.6 162.99,309.5 163.00,309.5 163.05,309.5 163.20,309.7 163.39,310.0 163.40,310.0 163.45,310.1 163.50,310.1 163.66,310.3 163.77,310.3 163.99,310.2 164.00,310.2 164.01,310.2 164.25,310.1 164.49,310.1 164.50,310.2 164.68,310.2 164.73,310.3 165.00,310.3 165.05,310.3 165.08,310.3 165.40,310.2 165.45,310.2 165.50,310.2 165.64,310.1 165.88,309.9 166.00,309.8 166.02,309.8 166.12,309.7 166.20,309.4 166.30,306.0 166.36,299.5 166.38,296.5 166.42,290.1 166.44,287.1 166.50,282.6 166.56,287.1 166.62,296.5 166.68,304.3 166.70,306.0 166.74,308.2 166.80,309.4 166.98,309.9 167.00,309.9 167.08,309.9 167.22,310.0 167.46,310.1 167.50,310.2 167.70,310.3 168.00,310.4 168.01,310.4 168.02,310.4 168.25,310.4 168.34,310.3 168.42,310.3 168.50,310.2 168.60,310.0 168.65,309.9 168.80,309.6 168.97,309.4 169.00,309.4 169.20,309.6 169.21,309.6 169.40,310.0 169.45,310.1 169.50,310.1 169.66,310.4 169.69,310.4 169.80,310.5 169.93,310.5 169.99,310.6 170.00,310.6 170.20,310.6 170.25,310.6 170.50,310.6 170.52,310.6 170.65,310.6 170.76,310.5 171.00,310.5 171.24,310.6 171.48,310.6 171.50,310.6 171.58,310.6 171.80,310.6 171.98,310.6 172.00,310.6 172.20,310.6 172.30,310.6 172.50,310.5 172.54,310.5 172.78,310.5 172.85,310.5 173.00,310.5 173.02,310.5 173.25,310.5 173.26,310.5 173.50,310.6 173.57,310.5 173.58,310.5 173.81,310.5 173.98,310.5 174.00,310.5 174.05,310.5 174.29,310.4 174.50,310.4 174.53,310.4 174.85,310.4 175.00,310.3 175.02,310.3 175.20,310.0 175.25,309.4 175.30,307.8 175.38,301.8 175.42,297.7 175.44,295.8 175.50,292.9 175.56,295.8 175.62,301.7 175.70,307.7 175.74,309.1 175.80,309.8 175.98,310.0 176.00,310.0 176.01,310.0 176.22,309.8 176.34,309.5 176.46,309.0 176.50,308.8 176.60,308.1 176.70,307.3 176.80,306.6 177.00,305.8 177.02,305.9 177.20,306.7 177.30,307.5 177.40,308.4 177.42,308.5 177.50,309.1 177.66,310.0 177.70,310.1 177.99,310.6 178.00,310.6 178.02,310.6 178.26,310.6 178.50,310.6 178.74,310.6 178.98,310.7 179.00,310.7 179.30,310.7 179.48,310.8 179.50,310.8 179.70,310.8 179.88,310.8 180.00,310.8 180.20,310.6 180.44,310.5 180.50,310.5 180.68,310.4 180.92,310.4 181.00,310.3 181.16,310.3 181.38,310.2 181.48,310.1 181.50,310.1 181.78,309.8 181.88,309.7 182.00,309.4 182.10,309.2 182.20,308.4 182.30,301.0 182.34,292.7 182.38,280.6 182.44,260.4 182.50,250.8 182.56,260.4 182.58,266.7 182.62,280.6 182.70,301.0 182.80,308.3 182.82,308.7 183.00,309.4 183.06,309.5 183.38,310.0 183.47,310.1 183.50,310.1 183.78,310.3 183.87,310.4 184.00,310.4 184.19,310.5 184.43,310.5 184.50,310.5 184.67,310.6 184.79,310.6 184.91,310.6 185.00,310.8 185.15,310.8 185.19,310.8 185.47,310.8 185.50,310.8 185.51,310.8 185.75,310.7 185.87,310.7 185.99,310.7 186.00,310.7 186.02,310.7 186.23,310.7 186.42,310.7 186.47,310.7 186.50,310.7 186.74,310.7 186.79,310.6 186.98,310.5 187.00,310.5 187.19,310.5 187.22,310.4 187.31,310.4 187.46,310.1 187.50,310.0 187.64,309.3 187.70,308.7 187.82,307.3 187.90,306.0 188.00,304.3 188.02,303.9 188.10,302.6 188.22,301.3 188.30,300.9 188.42,301.6 188.50,302.6 188.54,303.2 188.70,305.9 188.78,307.2 188.96,309.2 189.00,309.5 189.01,309.6 189.02,309.6 189.26,310.4 189.29,310.4 189.34,310.5 189.50,310.4 189.60,310.3 189.80,310.1 189.82,310.0 190.00,309.9 190.09,310.0 190.20,310.1 190.22,310.1 190.40,310.4 190.49,310.5 190.50,310.6 190.66,310.7 190.81,310.7 190.99,310.6 191.00,310.6 191.05,310.6 191.29,310.6 191.50,310.6 191.53,310.6 191.77,310.8 192.00,310.9 192.06,310.9 192.09,310.9 192.46,310.9 192.49,310.9 192.50,310.9 192.78,310.8 193.00,310.8 193.02,310.8 193.26,310.7 193.50,310.8 193.74,310.9 193.96,310.9 194.00,310.9 194.06,310.9 194.36,310.9 194.46,310.9 194.50,310.9 194.68,310.9 194.92,310.8 195.00,310.8 195.16,310.2 195.40,309.3 195.50,309.0 195.64,308.5 195.96,307.3 196.00,307.1 196.20,306.2 196.30,303.7 196.34,301.3 196.36,299.7 196.38,297.8 196.44,291.9 196.50,289.0 196.56,291.5 196.62,296.9 196.70,302.3 196.74,303.5 196.80,304.0 197.00,303.6 197.01,303.5 197.06,303.5 197.30,303.2 197.34,303.2 197.50,302.8 197.54,302.7 197.60,302.5 197.78,302.0 197.80,301.9 198.00,301.6 198.02,301.6 198.17,301.7 198.20,301.8 198.34,302.0 198.40,302.2 198.50,302.3 198.57,302.4 198.66,302.5 198.74,302.5 198.89,302.4 198.99,302.4 199.00,302.4 199.13,302.7 199.37,303.4 199.42,303.6 199.50,303.8 199.61,304.1 199.82,304.7 199.85,304.8 200.00,305.3 200.14,305.6 200.17,305.7 200.38,306.3 200.50,306.6 200.57,306.8 200.62,306.9 200.71,307.2 200.86,307.6 201.00,308.1 201.10,308.1 201.11,308.1 201.42,308.1 201.43,308.1 201.50,308.1 201.67,308.0 201.82,308.0 201.91,308.0 202.00,308.0 202.15,308.0 202.39,308.1 202.50,308.1 202.60,308.1 202.71,308.1 203.00,308.1 203.11,308.1 203.32,308.0 203.50,307.9 203.56,307.9 203.80,307.8 204.00,307.9 204.04,307.9 204.28,308.0 204.50,308.1 204.58,308.1 204.60,308.1 204.98,308.1 205.00,308.1 205.30,308.0 205.50,307.8 205.54,307.8 205.78,307.8 206.00,307.8 206.02,307.8 206.11,307.9 206.26,307.9 206.50,308.0 206.51,308.0 206.58,308.0 206.83,307.9 206.98,307.9 207.00,307.9 207.07,307.8 207.31,307.8 207.45,307.8 207.50,307.8 207.55,307.8 207.79,307.9 207.85,307.9 208.00,307.9 208.01,307.9 208.11,307.8 208.17,307.7 208.34,307.4 208.41,307.2 208.50,306.9 208.51,306.9 208.60,306.5 208.65,306.2 208.75,305.8 208.80,305.6 208.89,305.3 209.00,305.2 209.13,305.5 209.15,305.6 209.20,305.8 209.40,306.7 209.45,306.9 209.47,307.0 209.50,307.1 209.66,307.5 209.71,307.6 209.85,307.7 209.95,307.8 209.99,307.8 210.00,307.8 210.01,307.8 210.19,307.8 210.34,307.6 210.43,307.5 210.50,307.3 210.60,307.0 210.63,306.9 210.75,306.5 210.80,306.3 211.00,306.0 211.03,306.0 211.15,306.1 211.20,306.3 211.35,306.7 211.40,306.9 211.50,307.2 211.59,307.4 211.66,307.5 211.83,307.6 211.99,307.7 212.00,307.7 212.01,307.7 212.07,307.7 212.31,307.7 212.34,307.7 212.50,307.4 212.60,307.2 212.63,307.2 212.80,306.7 212.94,306.5 213.00,306.5 213.03,306.5 213.20,306.5 213.34,306.7 213.40,306.8 213.50,306.9 213.66,307.0 213.90,306.8 213.99,306.7 214.00,306.7 214.14,306.6 214.38,306.4 214.49,306.3 214.50,306.3 214.62,306.2 214.89,306.0 214.94,306.0 215.00,305.9 215.21,305.6 215.34,305.7 215.45,305.7 215.50,305.7 215.69,305.8 215.93,305.7 216.00,305.7 216.15,305.6 216.17,305.6 216.49,305.2 216.50,305.1 216.55,305.0 216.87,303.9 216.89,303.8 217.00,303.3 217.11,302.5 217.20,299.3 217.30,269.0 217.35,223.5 217.38,184.6 217.44,101.1 217.50,61.3 217.56,101.3 217.59,141.7 217.62,185.0 217.70,269.6 217.80,300.2 217.83,302.1 218.00,304.7 218.15,305.8 218.29,306.7 218.50,307.9 218.55,308.1 218.69,308.7 219.00,309.7 219.01,309.7 219.25,310.0 219.49,310.2 219.50,310.2 219.73,310.5 219.97,310.8 220.00,311.2 220.29,311.3 220.50,311.4 220.67,311.4 220.69,311.4 221.00,311.4 221.07,311.4 221.39,311.2 221.50,311.2 221.63,311.1 221.87,311.1 222.00,311.1 222.11,311.1 222.35,311.2 222.50,311.3 222.67,311.4 223.00,311.4 223.04,311.4 223.07,311.4 223.44,311.4 223.50,311.4 223.76,311.3 224.00,311.3 224.24,311.3 224.48,311.3 224.50,311.3 224.72,311.3 224.95,311.4 225.00,311.4 225.04,311.4 225.35,311.4 225.44,311.4 225.50,311.4 225.67,311.3 225.91,311.3 226.00,311.3 226.15,311.3 226.39,311.3 226.50,311.3 226.63,311.3 226.78,311.4 226.95,311.4 227.00,311.4 227.18,311.4 227.35,311.3 227.50,311.3 227.74,311.2 227.98,311.2 228.00,311.2 228.22,311.2 228.45,311.3 228.46,311.3 228.50,311.3 228.78,311.3 228.85,311.3 229.00,311.3 229.17,311.2 229.18,311.2 229.41,311.1 229.50,311.0 229.65,311.0 229.89,311.1 230.00,311.1 230.13,311.2 230.44,311.3 230.45,311.3 230.50,311.4 230.84,311.4 230.85,311.4 231.00,311.4 231.16,311.3 231.40,311.3 231.50,311.2 231.64,311.2 231.88,311.3 232.00,311.3 232.04,311.3 232.12,311.3 232.44,311.3 232.50,311.3 232.76,311.3 232.84,311.3 233.00,311.2 233.24,311.2 233.48,311.2 233.50,311.2 233.72,311.3 234.00,311.3 234.04,311.3 234.12,311.3 234.44,311.3 234.50,311.3 234.68,311.2 234.92,311.2 235.00,311.2 235.16,311.2 235.40,311.2 235.50,311.2 235.72,311.2 235.96,311.1 236.00,311.1 236.12,311.0 236.20,311.0 236.44,311.1 236.50,311.1 236.68,311.2 236.69,311.2 237.00,311.3 237.09,311.3 237.40,311.2 237.41,311.2 237.50,311.2 237.65,311.1 237.89,311.0 238.00,311.0 238.13,311.1 238.37,311.2 238.50,311.3 238.69,311.3 238.76,311.4 239.00,311.4 239.09,311.4 239.16,311.4 239.48,311.2 239.50,311.2 239.72,311.1 239.96,311.1 239.97,311.1 240.00,311.1 240.20,311.1 240.37,311.2 240.44,311.2 240.50,311.2 240.69,311.2 240.76,311.2 240.93,311.2 241.00,311.2 241.16,311.2 241.17,311.2 241.33,311.2 241.41,311.2 241.50,311.3 241.65,311.3 241.73,311.3 241.97,311.3 242.00,311.3 242.05,311.3 242.29,311.2 242.37,311.2 242.50,311.2 242.53,311.2 242.77,311.2 243.00,311.3 243.01,311.3 243.25,311.3 243.33,311.3 243.50,311.3 243.65,311.3 243.73,311.3 243.97,311.1 244.00,311.1 244.01,311.1 244.21,310.7 244.34,310.3 244.45,309.8 244.50,309.4 244.60,308.7 244.69,307.9 244.80,307.1 244.93,306.4 245.00,306.4 245.20,307.2 245.25,307.6 245.40,308.9 245.45,309.4 245.50,309.7 245.65,310.5 245.66,310.6 245.85,311.0 245.99,311.1 246.00,311.1 246.17,311.0 246.41,310.9 246.50,310.8 246.65,310.8 246.66,310.8 246.89,310.7 247.00,310.7 247.06,310.7 247.13,310.6 247.38,310.5 247.45,310.4 247.50,310.4 247.62,310.3 247.85,310.0 247.86,310.0 248.00,309.8 248.10,309.7 248.20,309.0 248.30,303.0 248.34,296.2 248.38,286.3 248.44,269.8 248.50,262.0 248.56,269.8 248.62,286.3 248.66,296.2 248.70,303.0 248.80,309.0 248.84,309.4 249.00,309.7 249.01,309.7 249.06,309.7 249.16,309.7 249.34,309.5 249.40,309.4 249.50,309.0 249.60,308.6 249.64,308.5 249.80,307.8 249.88,307.6 250.00,307.5 250.12,307.7 250.20,308.1 250.40,309.1 250.44,309.3 250.50,309.6 250.66,310.1 250.68,310.2 250.84,310.4 250.99,310.5 251.00,310.5 251.08,310.5 251.40,310.4 251.50,310.4 251.64,310.3 251.88,310.3 252.00,310.3 252.12,310.3 252.36,310.4 252.50,310.4 252.68,310.5 252.75,310.5 253.00,310.5 253.08,310.5 253.15,310.5 253.47,310.4 253.50,310.4 253.71,310.3 253.95,310.3 254.00,310.3 254.19,310.3 254.43,310.4 254.50,310.4 254.75,310.5 254.77,310.5 255.00,310.5 255.01,310.5 255.15,310.5 255.17,310.5 255.34,310.4 255.49,310.3 255.50,310.3 255.60,310.2 255.73,310.0 255.80,310.0 255.97,309.9 256.00,309.9 256.20,310.0 256.21,310.0 256.40,310.2 256.45,310.2 256.50,310.3 256.64,310.4 256.66,310.4 256.77,310.4 256.99,310.5 257.00,310.5 257.04,310.5 257.17,310.4 257.36,310.4 257.50,310.3 257.60,310.3 257.84,310.2 258.00,310.2 258.08,310.3 258.20,310.3 258.32,310.4 258.50,310.4 258.60,310.4 258.64,310.4 258.92,310.4 259.00,310.4 259.04,310.4 259.16,310.4 259.40,310.3 259.48,310.3 259.50,310.3 259.64,310.4 259.88,310.4 260.00,310.4 260.20,310.3 260.44,310.2 260.50,310.2 260.60,310.2 260.68,310.2 260.70,310.2 260.92,310.2 261.00,310.2 261.01,310.2 261.10,310.3 261.16,310.3 261.34,310.3 261.42,310.2 261.48,310.2 261.50,310.2 261.60,310.1 261.66,310.0 261.80,309.9 261.88,309.8 261.90,309.8 262.00,309.8 262.14,309.9 262.20,309.9 262.38,310.1 262.40,310.2 262.50,310.3 262.66,310.4 262.70,310.4 262.90,310.5 262.99,310.5 263.00,310.5 263.10,310.5 263.30,310.4 263.50,310.4 263.62,310.3 263.86,310.2 264.00,310.2 264.01,310.2 264.10,310.1 264.34,310.0 264.50,309.8 264.58,309.7 264.60,309.6 264.63,309.6 264.80,309.2 264.90,309.0 265.00,309.0 265.03,309.0 265.20,309.2 265.30,309.4 265.35,309.5 265.40,309.7 265.50,309.9 265.59,310.0 265.66,310.1 265.83,310.2 265.99,310.3 266.00,310.3 266.07,310.3 266.14,310.3 266.31,310.4 266.50,310.4 266.54,310.4 266.63,310.4 266.86,310.3 267.00,310.2 267.01,310.2 267.03,310.2 267.10,310.2 267.34,310.1 267.50,310.0 267.58,310.0 267.60,310.0 267.77,309.9 267.80,309.9 267.82,309.9 268.00,309.9 268.14,310.0 268.17,310.0 268.20,310.0 268.40,310.2 268.49,310.2 268.50,310.2 268.54,310.3 268.66,310.3 268.73,310.3 268.97,310.3 268.99,310.3 269.00,310.3 269.21,310.3 269.45,310.4 269.50,310.4 269.52,310.4 269.77,310.5 269.92,310.4 270.00,310.4 270.17,310.4 270.24,310.3 270.48,310.2 270.50,310.2 270.72,310.2 270.96,310.2 271.00,310.2 271.08,310.3 271.20,310.3 271.48,310.4 271.50,310.3 271.52,310.3 271.80,310.2 271.92,310.1 272.00,310.0 272.01,310.0 272.04,310.0 272.28,309.3 272.34,309.0 272.50,307.7 272.52,307.5 272.60,306.6 272.76,304.6 272.80,304.2 273.00,303.0 273.08,303.3 273.16,303.9 273.20,304.3 273.40,306.8 273.48,307.8 273.50,308.0 273.66,309.2 273.72,309.5 273.96,310.1 273.99,310.1 274.00,310.1 274.01,310.1 274.20,310.1 274.34,309.9 274.44,309.7 274.50,309.6 274.60,309.2 274.61,309.1 274.76,308.5 274.80,308.4 275.00,307.9 275.01,307.9 275.16,308.2 275.20,308.3 275.33,308.8 275.40,309.1 275.50,309.5 275.57,309.7 275.66,309.8 275.81,310.0 275.99,310.2 276.00,310.2 276.05,310.2 276.22,310.3 276.29,310.3 276.50,310.4 276.61,310.4 276.62,310.4 276.94,310.4 277.00,310.3 277.01,310.3 277.18,310.2 277.34,310.0 277.42,309.9 277.50,309.7 277.60,309.4 277.66,309.2 277.80,308.7 277.90,308.5 278.00,308.4 278.20,308.8 278.22,308.9 278.40,309.5 278.50,309.8 278.54,309.9 278.62,310.1 278.66,310.2 278.94,310.4 278.99,310.4 279.00,310.4 279.26,310.3 279.50,310.2 279.74,310.2 279.98,310.2 280.00,310.2 280.01,310.2 280.20,310.2 280.22,310.2 280.34,310.2 280.50,309.9 280.54,309.9 280.60,309.7 280.80,309.2 280.92,308.9 280.94,308.9 281.00,308.9 281.16,309.0 281.20,309.0 281.40,309.5 281.50,309.8 281.64,310.1 281.66,310.1 281.86,310.3 281.88,310.3 281.99,310.4 282.00,310.4 282.20,310.4 282.26,310.4 282.50,310.3 282.58,310.3 282.60,310.3 282.82,310.2 283.00,310.1 283.06,310.1 283.30,310.2 283.50,310.3 283.54,310.3 283.69,310.4 283.86,310.4 284.00,310.4 284.01,310.4 284.09,310.4 284.26,310.2 284.34,310.0 284.41,309.9 284.50,309.5 284.60,309.1 284.65,308.9 284.80,308.2 284.89,307.9 285.00,307.8 285.13,308.0 285.20,308.3 285.37,309.1 285.40,309.2 285.50,309.6 285.66,310.1 285.67,310.1 285.69,310.2 285.99,310.4 286.00,310.4 286.07,310.4 286.09,310.4 286.39,310.3 286.50,310.3 286.63,310.2 286.87,310.2 287.00,310.2 287.11,310.3 287.35,310.3 287.50,310.4 287.67,310.4 287.71,310.4 288.00,310.4 288.01,310.4 288.07,310.4 288.11,310.3 288.34,309.9 288.43,309.5 288.50,309.2 288.60,308.6 288.67,308.1 288.80,307.3 288.91,306.9 289.00,306.7 289.15,307.1 289.20,307.4 289.25,307.7 289.39,308.6 289.40,308.7 289.50,309.2 289.65,309.9 289.66,309.9 289.71,310.0 289.97,310.3 289.99,310.3 290.00,310.3 290.11,310.3 290.21,310.3 290.45,310.2 290.50,310.2 290.69,310.3 290.93,310.3 291.00,310.3 291.01,310.3 291.25,310.1 291.34,309.8 291.37,309.7 291.50,309.0 291.60,308.3 291.65,307.9 291.77,306.9 291.80,306.7 292.00,305.9 292.09,306.0 292.20,306.5 292.33,307.4 292.40,308.0 292.50,308.7 292.57,309.0 292.66,309.4 292.81,309.8 292.99,310.0 293.00,310.0 293.05,310.0 293.31,310.0 293.37,310.0 293.50,309.9 293.71,309.7 293.77,309.6 294.00,309.3 294.03,309.3 294.20,308.4 294.27,305.5 294.30,302.4 294.38,285.9 294.44,269.5 294.50,261.7 294.51,261.9 294.56,269.5 294.62,285.9 294.70,302.4 294.75,306.8 294.80,308.4 294.99,309.3 295.00,309.3 295.31,309.7 295.39,309.8 295.50,309.8 295.71,309.9 295.95,309.9 296.00,309.9 296.01,309.9 296.19,309.8 296.25,309.7 296.34,309.5 296.43,309.3 296.50,309.0 296.60,308.5 296.65,308.2 296.67,308.1 296.80,307.3 296.97,306.8 296.99,306.7 297.00,306.8 297.20,307.2 297.21,307.3 297.39,308.3 297.40,308.4 297.45,308.7 297.50,308.9 297.66,309.5 297.68,309.6 297.69,309.6 297.93,310.0 297.99,310.0 298.00,310.0 298.08,310.0 298.25,310.0 298.40,309.9 298.50,309.8 298.64,309.6 298.65,309.6 298.88,309.4 299.00,309.2 299.12,309.1 299.20,308.5 299.30,302.5 299.36,291.3 299.38,286.0 299.44,269.7 299.50,261.9 299.56,269.7 299.62,286.1 299.68,299.7 299.70,302.6 299.80,308.6 300.00,309.4 300.02,309.4 300.08,309.5 300.34,309.6 300.50,309.7 300.58,309.7 300.82,309.7 300.86,309.8 301.00,309.8 301.06,309.9 301.26,310.0 301.30,310.0 301.50,310.1 301.58,310.0 301.62,310.0 301.82,310.0 302.00,309.9 302.01,309.9 302.02,309.9 302.06,309.8 302.30,308.7 302.34,308.3 302.50,306.1 302.54,305.3 302.60,304.1 302.80,299.6 302.86,298.6 303.00,297.5 303.03,297.5 303.20,299.7 303.26,300.9 303.40,304.1 303.43,304.8 303.50,306.2 303.66,308.4 303.75,309.2 303.99,309.9 304.00,309.9 304.01,309.9 304.23,309.9 304.34,309.8 304.39,309.8 304.47,309.7 304.50,309.6 304.60,309.4 304.71,309.2 304.79,309.0 304.80,309.0 305.00,308.8 305.03,308.8 305.11,308.8 305.20,309.0 305.35,309.3 305.40,309.4 305.43,309.5 305.50,309.6 305.59,309.8 305.66,309.9 305.83,310.1 305.99,310.2 306.00,310.2 306.07,310.2 306.24,310.3 306.39,310.4 306.50,310.4 306.64,310.4 306.79,310.3 306.96,310.2 307.00,310.2 307.01,310.2 307.20,309.6 307.34,308.6 307.44,307.4 307.50,306.5 307.60,304.6 307.68,302.9 307.80,300.5 307.92,298.8 308.00,298.5 308.20,300.5 308.24,301.3 308.40,304.7 308.50,306.6 308.58,307.8 308.64,308.5 308.66,308.7 308.98,310.2 308.99,310.2 309.00,310.2 309.30,310.3 309.50,310.3 309.54,310.3 309.78,310.3 310.00,310.3 310.02,310.3 310.26,310.4 310.50,310.4 310.58,310.4 310.85,310.4 310.98,310.4 311.00,310.4 311.01,310.4 311.25,310.2 311.34,310.1 311.50,309.6 311.57,309.3 311.60,309.1 311.80,308.2 311.81,308.1 312.00,307.7 312.05,307.7 312.20,308.1 312.29,308.5 312.40,309.1 312.50,309.5 312.53,309.6 312.66,310.0 312.85,310.3 312.91,310.3 312.99,310.4 313.00,310.4 313.25,310.4 313.31,310.4 313.50,310.4 313.63,310.4 313.87,310.3 314.00,310.1 314.01,310.1 314.11,310.0 314.34,308.8 314.35,308.7 314.50,306.8 314.59,305.3 314.60,305.1 314.80,301.3 314.91,299.9 315.00,299.5 315.02,299.5 315.20,301.4 315.31,303.4 315.40,305.1 315.42,305.5 315.50,306.9 315.66,308.8 315.74,309.4 315.98,310.1 315.99,310.1 316.00,310.1 316.22,310.2 316.32,310.2 316.46,310.2 316.50,310.2 316.70,310.3 316.72,310.3 317.00,310.3 317.01,310.2 317.02,310.2 317.04,310.2 317.28,309.9 317.34,309.8 317.42,309.6 317.50,309.3 317.52,309.2 317.60,308.9 317.76,308.2 317.80,308.0 318.00,307.6 318.20,308.0 318.32,308.4 318.40,308.8 318.50,309.1 318.60,309.3 318.66,309.4 318.72,309.5 318.99,309.3 319.00,309.3 319.20,308.5 319.30,302.2 319.32,299.2 319.38,285.0 319.44,268.0 319.50,259.8 319.56,267.9 319.62,284.9 319.70,302.1 319.80,308.3 320.00,309.2 320.04,309.3 320.28,309.6 320.50,309.8 320.56,309.9 320.60,309.9 320.96,310.1 321.00,310.1 321.01,310.1 321.28,309.7 321.34,309.6 321.50,308.9 321.52,308.8 321.60,308.3 321.76,307.3 321.80,307.1 322.00,306.7 322.20,307.4 322.24,307.6 322.40,308.7 322.50,309.3 322.51,309.3 322.56,309.6 322.66,309.9 322.91,310.3 322.96,310.3 322.99,310.3 323.00,310.3 323.23,310.3 323.47,310.2 323.50,310.2 323.71,310.1 323.95,310.2 324.00,310.2 324.19,310.2 324.50,310.3 324.51,310.3 324.85,310.3 324.91,310.3 325.00,310.2 325.25,310.1 325.50,309.9 325.57,309.8 325.81,309.6 326.00,309.3 326.05,309.3 326.20,308.7 326.29,304.8 326.30,303.9 326.38,290.4 326.44,277.1 326.50,270.8 326.53,272.5 326.56,277.2 326.62,290.5 326.70,304.0 326.80,308.9 326.85,309.3 327.00,309.5 327.01,309.5 327.20,309.5 327.25,309.5 327.34,309.3 327.50,308.6 327.60,307.9 327.80,306.4 327.92,305.8 328.00,305.6 328.16,306.1 328.20,306.4 328.40,307.9 328.50,308.7 328.64,309.4 328.66,309.5 328.88,310.1 328.99,310.2 329.00,310.2 329.01,310.2 329.20,310.1 329.30,309.9 329.34,309.8 329.50,309.0 329.60,308.3 329.70,307.5 329.80,306.7 330.00,305.9 330.02,305.9 330.20,306.7 330.26,307.1 330.40,308.2 330.50,308.9 330.66,309.7 330.74,310.0 330.98,310.3 330.99,310.3 331.00,310.3 331.22,310.4 331.30,310.4 331.50,310.4 331.62,310.4 331.70,310.4 331.94,310.4 332.00,310.3 332.18,310.3 332.42,310.2 332.50,310.2 332.51,310.2 332.66,310.0 332.84,309.6 332.90,309.3 333.00,308.6 333.08,307.9 333.10,307.8 333.22,306.6 333.30,305.9 333.48,304.9 333.50,304.9 333.62,305.2 333.70,305.8 333.80,306.6 333.90,307.6 334.00,308.4 334.04,308.7 334.16,309.3 334.28,309.7 334.49,310.0 334.50,310.0 334.52,310.0 334.76,310.1 334.81,310.1 335.00,309.7 335.08,309.3 335.14,308.9 335.40,305.4 335.44,304.6 335.48,303.9 335.50,303.5 335.60,301.8 335.80,300.0 335.84,300.1 336.00,301.7 336.16,304.6 336.20,305.3 336.40,308.2 336.46,308.8 336.50,309.1 336.64,309.8 336.79,310.1 336.88,310.2 337.00,310.2 337.02,310.2 337.12,310.3 337.42,310.3 337.44,310.3 337.50,310.3 337.74,310.3 337.84,310.2 337.98,310.2 338.00,310.2 338.22,310.1 338.46,310.1 338.50,310.0 338.51,310.0 338.70,309.6 338.84,308.7 338.97,307.1 339.00,306.7 339.02,306.3 339.10,304.9 339.30,300.9 339.37,299.8 339.42,299.3 339.50,298.9 339.69,300.7 339.70,300.8 339.90,304.7 339.93,305.3 340.00,306.5 340.16,308.5 340.17,308.6 340.41,309.9 340.49,310.0 340.50,310.0 340.65,310.2 340.97,310.3 341.00,310.3 341.01,310.2 341.34,309.7 341.37,309.6 341.40,309.5 341.50,308.9 341.60,308.2 341.72,307.2 341.80,306.5 341.96,305.8 342.00,305.7 342.20,306.4 342.25,306.8 342.40,308.0 342.44,308.3 342.50,308.7 342.65,309.5 342.66,309.6 342.68,309.6 342.97,310.1 342.99,310.1 343.00,310.1 343.01,310.1 343.21,310.0 343.34,309.7 343.40,309.5 343.45,309.3 343.50,309.1 343.60,308.6 343.69,308.0 343.80,307.4 343.93,307.0 344.00,306.9 344.20,307.5 344.25,307.8 344.40,308.7 344.50,309.3 344.65,309.8 344.66,309.9 344.90,310.2 344.99,310.2 345.00,310.2 345.22,310.1 345.46,309.9 345.50,309.8 345.51,309.8 345.70,309.3 345.84,308.5 345.94,307.5 346.00,306.7 346.10,305.1 346.18,303.7 346.30,301.6 346.50,299.9 346.67,301.2 346.70,301.7 346.90,305.3 347.00,306.9 347.07,307.8 347.16,308.7 347.39,309.7 347.49,309.8 347.50,309.8 347.51,309.8 347.63,309.6 347.84,308.3 347.87,308.0 348.00,306.1 348.07,304.8 348.10,304.2 348.11,303.9 348.30,299.9 348.35,299.1 348.47,297.9 348.50,297.8 348.67,299.4 348.70,299.9 348.79,301.8 348.90,304.2 349.00,306.1 349.03,306.6 349.07,307.2 349.16,308.3 349.27,309.1 349.49,309.8 349.50,309.8 349.51,309.8 349.75,309.4 349.84,308.8 350.00,307.2 350.07,306.2 350.10,305.7 350.20,304.1 350.30,302.5 350.47,300.9 350.50,300.9 350.60,301.3 350.70,302.4 350.90,305.6 350.92,305.9 351.00,307.0 351.16,308.6 351.40,309.5 351.49,309.6 351.50,309.7 351.64,309.8 351.66,309.8 351.88,309.9 352.00,309.9 352.06,309.9 352.20,309.7 352.30,307.9 352.38,303.0 352.44,298.1 352.50,295.8 352.56,298.1 352.60,301.3 352.62,302.9 352.70,307.8 352.80,309.6 352.86,309.7 353.00,309.8 353.10,309.9 353.27,310.0 353.34,310.0 353.50,310.1 353.66,310.1 353.67,310.1 353.99,309.9 354.00,309.9 354.01,309.9 354.06,309.8 354.23,309.3 354.34,308.5 354.47,307.1 354.50,306.7 354.60,305.0 354.71,303.0 354.80,301.5 354.86,300.7 354.95,300.0 355.00,299.9 355.20,301.7 355.26,302.7 355.27,302.8 355.40,305.2 355.50,306.8 355.58,307.9 355.66,308.6 355.67,308.7 355.82,309.5 355.99,309.8 356.00,309.8 356.06,309.8 356.12,309.9 356.30,309.9 356.50,309.9 356.51,309.9 356.52,309.9 356.54,309.9 356.84,308.8 356.86,308.6 357.00,307.1 357.08,305.9 357.10,305.6 357.26,302.9 357.30,302.3 357.32,302.0 357.50,300.7 357.56,300.9 357.70,302.4 357.80,304.0 357.90,305.7 358.00,307.2 358.12,308.6 358.16,308.9 358.49,310.1 358.50,310.1 358.52,310.1 358.90,310.1 359.00,310.0 359.01,310.0 359.22,309.5 359.34,308.9 359.46,307.8 359.50,307.3 359.60,306.0 359.70,304.5 359.80,303.1 359.94,301.9 360.00,301.7 360.18,303.0 360.20,303.2 360.40,306.2 360.50,307.5 360.66,309.0 360.82,309.7 360.90,309.9 360.99,309.9 361.00,309.9 361.01,309.9 361.22,309.4 361.34,308.6 361.50,306.7 361.54,306.1 361.60,305.1 361.78,301.7 361.80,301.4 362.00,299.6 362.02,299.6 362.20,301.4 362.26,302.4 362.39,304.8 362.40,304.9 362.50,306.6 362.66,308.4 362.79,309.2 362.82,309.3 362.99,309.6 363.00,309.6 363.11,309.6 363.20,309.3 363.22,309.1 363.30,306.7 363.35,302.8 363.38,299.4 363.44,292.2 363.50,288.8 363.56,292.2 363.59,295.7 363.62,299.4 363.70,306.7 363.80,309.4 363.83,309.5 364.00,309.7 364.07,309.8 364.39,310.0 364.50,310.0 364.61,310.0 364.79,310.0 365.00,309.9 365.01,309.9 365.33,308.7 365.34,308.6 365.50,306.7 365.57,305.6 365.60,305.0 365.80,301.5 365.81,301.3 366.00,299.8 366.05,299.9 366.20,301.6 366.29,303.2 366.40,305.2 366.50,306.9 366.60,308.1 366.61,308.2 366.66,308.7 366.92,309.8 366.99,309.9 367.00,309.9 367.01,309.9 367.16,309.9 367.40,309.9 367.50,309.8 367.51,309.8 367.64,309.7 367.71,309.5 367.84,308.9 367.88,308.6 368.00,307.5 368.10,306.1 368.11,306.0 368.20,304.7 368.30,303.3 368.43,302.0 368.50,301.8 368.60,302.1 368.67,302.7 368.70,303.1 368.90,305.9 368.91,306.1 369.00,307.2 369.15,308.7 369.16,308.8 369.39,309.8 369.49,310.0 369.50,310.0 369.71,310.1 370.00,310.1 370.01,310.1 370.11,310.1 370.34,309.6 370.41,309.3 370.50,308.8 370.60,308.1 370.73,307.0 370.80,306.5 370.97,305.7 371.00,305.6 371.20,306.3 371.21,306.4 371.26,306.7 371.40,307.8 371.45,308.2 371.50,308.6 371.66,309.4 371.69,309.5 371.98,310.0 371.99,310.0 372.00,310.0 372.01,310.0 372.22,310.1 372.41,310.0 372.46,310.0 372.50,310.0 372.51,310.0 372.70,309.8 372.84,309.4 372.94,308.9 373.00,308.5 373.10,307.7 373.17,307.0 373.26,306.2 373.30,305.9 373.50,305.0 373.57,305.1 373.66,305.5 373.70,305.8 373.89,307.5 373.90,307.6 374.00,308.4 374.13,309.2 374.16,309.3 374.37,309.8 374.49,309.9 374.50,309.9 374.61,310.0 374.85,310.1 375.00,310.1 375.01,310.1 375.12,310.1 375.17,310.0 375.34,309.7 375.50,309.0 375.52,308.9 375.57,308.6 375.60,308.4 375.80,307.0 375.84,306.8 376.00,306.3 376.08,306.4 376.20,306.9 376.32,307.7 376.40,308.2 376.50,308.8 376.56,309.1 376.66,309.5 376.76,309.8 376.80,309.9 376.99,310.1 377.00,310.1 377.12,310.1 377.16,310.1 377.48,310.1 377.50,310.1 377.52,310.1 377.72,310.0 377.96,309.9 378.00,309.9 378.01,309.9 378.20,309.7 378.34,309.3 378.44,308.8 378.50,308.5 378.60,307.6 378.66,307.1 378.76,306.2 378.80,305.9 379.00,304.9 379.06,305.0 379.16,305.5 379.20,305.8 379.38,307.3 379.40,307.5 379.50,308.3 379.62,309.0 379.66,309.2 379.86,309.6 379.87,309.7 379.99,309.8 380.00,309.8 380.10,309.9 380.27,309.9 380.34,310.0 380.50,310.0 380.51,310.0 380.59,309.9 380.66,309.9 380.83,309.6 380.84,309.6 381.00,309.0 381.06,308.7 381.07,308.6 381.10,308.5 381.30,307.4 381.31,307.3 381.50,306.9 381.55,306.9 381.70,307.5 381.87,308.5 381.88,308.5 381.90,308.6 382.00,309.1 382.16,309.7 382.27,309.9 382.28,309.9 382.49,310.1 382.50,310.1 382.60,310.1 382.84,310.0 383.00,309.9 383.01,309.9 383.08,309.9 383.32,309.6 383.34,309.6 383.36,309.5 383.50,309.0 383.56,308.8 383.60,308.5 383.76,307.7 383.80,307.4 383.88,307.1 384.00,306.9 384.08,306.9 384.20,307.3 384.28,307.7 384.32,307.9 384.40,308.4 384.50,308.9 384.56,309.1 384.66,309.4 384.80,309.7 384.99,310.0 385.00,310.0 385.04,310.0 385.19,310.1 385.36,310.1 385.50,310.1 385.51,310.1 385.59,310.1 385.76,309.8 385.84,309.6 385.91,309.4 386.00,309.0 386.10,308.5 386.15,308.2 386.30,307.3 386.39,306.9 386.50,306.8 386.63,307.0 386.70,307.4 386.87,308.4 386.90,308.5 387.00,309.1 387.15,309.6 387.16,309.6 387.19,309.7 387.49,310.0 387.50,310.0 387.55,310.0 387.59,310.0 387.87,310.0 388.00,309.9 388.11,309.8 388.35,309.7 388.50,309.7 388.59,309.7 388.60,309.7 388.83,309.6 389.00,309.5 389.15,309.3 389.20,309.0 389.30,305.5 389.32,303.8 389.38,295.9 389.44,286.3 389.50,281.8 389.55,285.0 389.56,286.3 389.62,295.8 389.70,305.4 389.80,308.8 390.00,309.3 390.04,309.4 390.28,309.6 390.50,309.8 390.60,309.9 390.83,309.9 391.00,310.0 391.01,310.0 391.23,309.9 391.34,309.7 391.50,309.3 391.55,309.1 391.60,309.0 391.79,308.2 391.80,308.2 392.00,307.8 392.03,307.9 392.10,308.0 392.20,308.2 392.27,308.5 392.40,309.0 392.50,309.3 392.51,309.4 392.66,309.7 392.82,309.8 392.83,309.8 392.99,309.8 393.00,309.8 393.01,309.8 393.06,309.8 393.23,309.7 393.30,309.7 393.34,309.6 393.39,309.6 393.50,309.5 393.54,309.4 393.60,309.3 393.78,309.0 393.79,309.0 393.80,309.0 394.00,308.8 394.10,308.8 394.11,308.8 394.20,308.9 394.35,309.2 394.40,309.3 394.50,309.4 394.59,309.5 394.66,309.6 394.83,309.8 394.99,309.9 395.00,309.9 395.07,309.9 395.37,310.1 395.39,310.1 395.50,310.1 395.77,310.1 395.79,310.1 396.00,310.0 396.01,310.0 396.09,309.9 396.33,309.6 396.34,309.5 396.50,309.1 396.57,308.9 396.60,308.8 396.80,308.1 396.81,308.1 397.00,307.8 397.05,307.9 397.20,308.2 397.25,308.4 397.37,308.9 397.40,309.0 397.50,309.4 397.65,309.7 397.66,309.7 397.77,309.8 397.97,309.8 397.99,309.8 398.00,309.8 398.21,309.7 398.45,309.6 398.50,309.6 398.51,309.6 398.69,309.4 398.77,309.3 398.84,309.1 398.93,308.7 399.00,308.3 399.10,307.5 399.17,306.9 399.25,306.2 399.30,305.8 399.49,304.9 399.50,304.9 399.65,305.4 399.70,305.7 399.73,306.0 399.90,307.4 399.97,308.0 400.00,308.2 400.16,309.2 400.21,309.3 400.28,309.5 400.45,309.8 400.49,309.8 400.50,309.8 400.51,309.8 400.68,309.6 400.77,309.3 400.84,309.0 401.00,307.8 401.10,306.7 401.17,305.9 401.24,305.1 401.30,304.4 401.48,303.3 401.49,303.3 401.50,303.3 401.70,304.5 401.72,304.7 401.89,306.6 401.90,306.7 401.96,307.4 402.00,307.8 402.16,308.9 402.21,309.1 402.28,309.4 402.45,309.6 402.49,309.6 402.50,309.6 402.68,309.7 402.69,309.7 402.93,309.7 403.00,309.7 403.01,309.7 403.11,309.7 403.17,309.7 403.34,309.3 403.49,308.7 403.50,308.6 403.51,308.6 403.60,308.0 403.80,306.6 403.83,306.4 403.89,306.1 404.00,305.9 404.07,305.9 404.20,306.5 404.31,307.2 404.40,307.9 404.50,308.5 404.54,308.8 404.55,308.8 404.66,309.3 404.79,309.6 404.94,309.8 404.99,309.8 405.00,309.8 405.01,309.8 405.11,309.8 405.26,309.6 405.34,309.4 405.50,308.8 405.51,308.8 405.60,308.3 405.74,307.6 405.80,307.3 405.98,306.8 406.00,306.8 406.20,307.4 406.22,307.5 406.40,308.5 406.50,309.0 406.54,309.1 406.62,309.4 406.66,309.5 406.94,309.9 406.99,309.9 407.00,309.9 407.02,309.9 407.34,309.8 407.50,309.7 407.58,309.7 407.82,309.6 408.00,309.6 408.06,309.7 408.30,309.8 408.45,309.8 408.50,309.9 408.62,309.9 408.85,309.9 409.00,309.8 409.02,309.8 409.17,309.8 409.41,309.6 409.50,309.5 409.51,309.5 409.65,309.3 409.84,308.7 409.89,308.4 410.00,307.5 410.10,306.4 410.13,306.1 410.30,304.1 410.45,303.0 410.50,303.0 410.64,303.6 410.70,304.2 410.85,305.9 410.90,306.6 411.00,307.6 411.04,308.0 411.16,308.9 411.36,309.5 411.49,309.6 411.50,309.6 411.60,309.6 411.84,309.6 412.00,309.6 412.01,309.6 412.08,309.6 412.10,309.6 412.32,309.3 412.34,309.2 412.50,308.5 412.60,307.9 412.64,307.6 412.80,306.5 412.82,306.4 413.00,305.8 413.04,305.8 413.06,305.8 413.20,306.4 413.30,307.0 413.40,307.7 413.50,308.4 413.54,308.6 413.62,309.0 413.66,309.1 413.78,309.5 413.99,309.7 414.00,309.7 414.02,309.7 414.10,309.7 414.34,309.7 414.50,309.6 414.58,309.6 414.82,309.5 415.00,309.5 415.01,309.5 415.06,309.5 415.30,309.5 415.34,309.5 415.50,309.2 415.60,308.9 415.62,308.9 415.80,308.3 416.00,308.0 416.02,308.0 416.20,308.3 416.40,309.0 416.50,309.2 416.66,309.6 416.72,309.6 416.96,309.7 416.99,309.7 417.00,309.7 417.20,309.8 417.44,309.8 417.50,309.8 417.68,309.8 417.84,309.8 418.00,309.8 418.24,309.8 418.40,309.8 418.50,309.8 418.56,309.8 418.80,309.8 419.00,309.8 419.04,309.8 419.28,309.8 419.34,309.8 419.50,309.8 419.52,309.8 419.74,309.8 419.84,309.8 420.00,309.7 420.06,309.7 420.24,309.6 420.30,309.6 420.50,309.5 420.54,309.5 420.78,309.6 421.00,309.6 421.02,309.7 421.29,309.7 421.31,309.7 421.34,309.6 421.50,309.4 421.64,308.9 421.69,308.6 421.74,308.3 421.90,306.8 422.00,305.6 422.01,305.5 422.10,304.6 422.25,303.5 422.30,303.4 422.49,304.4 422.50,304.4 422.56,305.0 422.70,306.6 422.73,306.9 422.96,308.7 422.97,308.8 423.00,308.9 423.28,309.5 423.29,309.5 423.50,309.4 423.52,309.4 423.69,309.4 423.76,309.4 424.00,309.5 424.01,309.5 424.17,309.5 424.24,309.5 424.34,309.5 424.50,309.4 424.56,309.4 424.57,309.4 424.60,309.3 424.80,309.0 424.89,308.9 424.96,308.8 425.00,308.8 425.13,308.8 425.20,308.9 425.37,309.1 425.40,309.1 425.50,309.3 425.61,309.4 425.66,309.5 425.85,309.6 425.99,309.7 426.00,309.7 426.17,309.7 426.38,309.8 426.50,309.8 426.57,309.8 426.78,309.7 427.00,309.7 427.10,309.6 427.34,309.5 427.50,309.5 427.58,309.5 427.82,309.5 427.87,309.5 428.00,309.6 428.06,309.6 428.27,309.7 428.38,309.7 428.50,309.7 428.59,309.7 428.78,309.6 428.83,309.6 429.00,309.6 429.07,309.6 429.09,309.6 429.31,309.6 429.49,309.6 429.50,309.6 429.55,309.6 429.81,309.5 429.87,309.5 430.00,309.5 430.05,309.4 430.27,309.4 430.29,309.4 430.50,309.4 430.53,309.4 430.55,309.5 430.77,309.6 430.95,309.6 431.00,309.6 431.09,309.6 431.27,309.6 431.49,309.5 431.50,309.5 431.51,309.5 431.75,309.5 431.99,309.5 432.00,309.5 432.01,309.5 432.13,309.5 432.23,309.5 432.34,309.5 432.50,309.4 432.53,309.4 432.55,309.4 432.60,309.3 432.80,309.0 432.85,308.9 432.95,308.8 433.00,308.8 433.09,308.8 433.20,308.8 433.33,309.0 433.40,309.1 433.50,309.2 433.57,309.3 433.66,309.4 433.81,309.5 433.99,309.6 434.00,309.6 434.13,309.6 434.50,309.7 434.52,309.7 434.53,309.7 434.92,309.6 435.00,309.6 435.01,309.6 435.24,309.4 435.34,309.2 435.48,308.8 435.50,308.7 435.60,308.3 435.72,307.7 435.80,307.3 435.96,306.9 436.00,306.9 436.02,306.9 436.20,307.4 436.40,308.3 436.42,308.4 436.50,308.7 436.52,308.8 436.66,309.1 436.74,309.2 436.92,309.3 436.98,309.3 436.99,309.3 437.00,309.3 437.01,309.3 437.22,309.1 437.34,308.8 437.46,308.4 437.50,308.2 437.57,307.8 437.60,307.7 437.70,307.1 437.80,306.5 437.97,305.9 438.00,305.9 438.02,305.9 438.20,306.5 438.29,307.0 438.40,307.6 438.42,307.7 438.50,308.1 438.53,308.3 438.66,308.7 438.77,309.0 438.99,309.2 439.00,309.2 439.01,309.2 439.17,309.3 439.25,309.2 439.34,309.2 439.49,309.0 439.50,308.9 439.57,308.8 439.60,308.7 439.73,308.3 439.80,308.1 439.97,307.9 440.00,307.8 440.20,308.1 440.21,308.2 440.27,308.3 440.40,308.7 440.45,308.9 440.50,309.0 440.66,309.3 440.67,309.3 440.77,309.4 440.99,309.5 441.00,309.5 441.17,309.5 441.23,309.5 441.47,309.5 441.50,309.5 441.71,309.5 441.72,309.5 441.95,309.5 442.00,309.5 442.01,309.5 442.12,309.5 442.27,309.5 442.34,309.4 442.44,309.3 442.50,309.3 442.60,309.2 442.67,309.1 442.68,309.1 442.80,308.9 442.92,308.8 443.00,308.8 443.13,308.9 443.16,308.9 443.20,308.9 443.40,309.2 443.50,309.3 443.53,309.3 443.66,309.4 443.72,309.4 443.85,309.4 443.99,309.3 444.00,309.3 444.09,309.3 444.12,309.3 444.33,309.2 444.50,309.3 444.57,309.3 444.81,309.4 445.00,309.5 445.08,309.5 445.13,309.5 445.48,309.5 445.50,309.5 445.53,309.5 445.80,309.5 446.00,309.4 446.04,309.4 446.28,309.4 446.50,309.4 446.52,309.4 446.67,309.4 446.76,309.5 447.00,309.5 447.07,309.5 447.08,309.5 447.39,309.3 447.48,309.3 447.50,309.3 447.63,309.2 447.87,309.1 448.00,309.2 448.11,309.2 448.15,309.2 448.35,309.3 448.50,309.4 448.55,309.4 448.67,309.4 448.87,309.4 449.00,309.3 449.07,309.3 449.11,309.3 449.35,309.2 449.50,309.2 449.59,309.3 449.73,309.3 449.83,309.4 450.00,309.4 450.13,309.4 450.15,309.4 450.45,309.4 450.50,309.4 450.55,309.4 450.69,309.4 450.93,309.4 451.00,309.4 451.17,309.4 451.29,309.4 451.41,309.4 451.50,309.5 451.69,309.5 451.73,309.5 452.00,309.4 452.01,309.4 452.13,309.4 452.25,309.4 452.49,309.4 452.50,309.4 452.73,309.4 452.97,309.5 453.00,309.5 453.29,309.6 453.50,309.6 453.58,309.6 453.69,309.6 453.98,309.6 454.00,309.6 454.30,309.5 454.50,309.4 454.54,309.4 454.78,309.3 455.00,309.4 455.02,309.4 455.26,309.5 455.32,309.5 455.50,309.6 455.58,309.6 455.72,309.6 455.98,309.5 456.00,309.5 456.04,309.5 456.28,309.4 456.50,309.3 456.52,309.3 456.76,309.4 457.00,309.5 457.10,309.6 457.32,309.6 457.50,309.6 457.72,309.6 457.82,309.6 458.00,309.5 458.06,309.5 458.30,309.4 458.50,309.5 458.54,309.5 458.71,309.5 458.78,309.6 459.00,309.6 459.10,309.7 459.11,309.7 459.43,309.6 459.50,309.6 459.67,309.5 459.91,309.5 460.00,309.5 460.11,309.5 460.15,309.5 460.39,309.6 460.50,309.6 460.51,309.6 460.71,309.7 460.83,309.6 461.00,309.6 461.07,309.6 461.11,309.6 461.31,309.6 461.50,309.6 461.55,309.6 461.79,309.7 462.00,309.8 462.11,309.8 462.27,309.8 462.50,309.8 462.51,309.8 462.67,309.8 462.99,309.8 463.00,309.7 463.23,309.7 463.47,309.7 463.50,309.7 463.71,309.7 463.92,309.8 463.95,309.8 464.00,309.8 464.27,309.8 464.32,309.8 464.50,309.8 464.64,309.8 464.67,309.8 464.88,309.7 465.00,309.7 465.12,309.7 465.36,309.7 465.50,309.7 465.60,309.8 465.92,309.9 465.97,309.9 466.00,309.9 466.32,309.9 466.37,309.9 466.50,309.9 466.69,309.9 466.93,309.8 467.00,309.8 467.17,309.8 467.41,309.8 467.50,309.8 467.65,309.9 467.97,309.9 468.00,309.9 468.07,310.0 468.37,310.0 468.47,310.0 468.50,310.0 468.79,309.9 469.00,309.9 469.03,309.9 469.27,309.9 469.50,309.9 469.51,309.9 469.75,310.0 469.99,310.0 470.00,310.0 470.07,310.0 470.39,310.0 470.47,310.0 470.50,309.9 470.71,309.9 470.95,309.7 471.00,309.7 471.19,309.7 471.43,309.8 471.50,309.8 471.67,309.9 471.99,310.0 472.00,310.0 472.39,310.0 472.50,310.0 472.71,309.9 472.95,309.8 473.00,309.8 473.19,309.7 473.43,309.8 473.50,309.8 473.64,309.9 473.67,309.9 473.99,310.0 474.00,310.1 474.04,310.1 474.36,310.0 474.39,310.0 474.50,310.0 474.60,310.0 474.84,309.9 475.00,310.0 475.08,310.0 475.32,310.1 475.50,310.1 475.64,310.1 475.88,310.2 476.00,310.2 476.01,310.2 476.04,310.2 476.28,310.1 476.34,310.1 476.50,310.0 476.60,309.9 476.80,309.8 476.84,309.8 477.00,309.7 477.08,309.7 477.20,309.7 477.32,309.8 477.40,309.9 477.50,310.0 477.51,310.0 477.56,310.0 477.66,310.1 477.88,310.2 477.91,310.2 477.99,310.2 478.00,310.2 478.23,310.2 478.28,310.2 478.47,310.1 478.50,310.1 478.71,310.1 478.95,310.1 479.00,310.2 479.19,310.2 479.30,310.2 479.50,310.2 479.51,310.2 479.70,310.2 479.91,310.2 480.00,310.2 480.02,310.2 480.26,310.1 480.50,310.0 480.74,310.1 480.98,310.2 481.00,310.2 481.30,310.3 481.50,310.3 481.55,310.3 481.70,310.3 481.95,310.3 482.00,310.3 482.27,310.2 482.50,310.2 482.51,310.2 482.75,310.1 482.99,310.2 483.00,310.2 483.07,310.2 483.23,310.2 483.47,310.3 483.50,310.3 483.55,310.3 483.79,310.2 483.95,310.1 484.00,310.1 484.03,310.1 484.27,310.0 484.50,310.1 484.51,310.1 484.75,310.2 485.00,310.3 485.04,310.4 485.07,310.4 485.44,310.4 485.47,310.4 485.50,310.4 485.76,310.4 486.00,310.3 486.24,310.3 486.48,310.4 486.50,310.4 486.72,310.4 486.93,310.4 487.00,310.4 487.04,310.4 487.33,310.4 487.44,310.4 487.50,310.4 487.65,310.4 487.89,310.3 488.00,310.3 488.01,310.3 488.13,310.2 488.34,310.1 488.37,310.1 488.42,310.0 488.50,309.9 488.60,309.7 488.61,309.6 488.80,309.2 488.82,309.1 488.93,308.9 489.00,308.9 489.14,309.0 489.20,309.1 489.33,309.4 489.38,309.5 489.40,309.5 489.50,309.8 489.62,310.0 489.66,310.0 489.86,310.2 489.99,310.3 490.00,310.3 490.10,310.4 490.42,310.5 490.46,310.5 490.50,310.5 490.82,310.5 490.86,310.5 491.00,310.5 491.18,310.4 491.41,310.3 491.42,310.3 491.50,310.1 491.66,309.7 491.74,309.3 491.90,308.1 492.00,306.9 492.14,305.2 492.20,304.5 492.40,303.3 492.46,303.4 492.50,303.6 492.56,304.1 492.60,304.5 492.80,307.0 492.86,307.8 492.96,308.8 493.00,309.1 493.06,309.5 493.28,310.2 493.39,310.3 493.50,310.3 493.52,310.3 493.76,310.3 494.00,310.3 494.24,310.5 494.45,310.6 494.50,310.6 494.56,310.6 494.85,310.6 494.96,310.6 495.00,310.6 495.17,310.6 495.41,310.6 495.50,310.6 495.65,310.6 495.89,310.6 496.00,310.6 496.13,310.6 496.40,310.7 496.45,310.7 496.50,310.7 496.72,310.6 496.85,310.6 496.96,310.6 497.00,310.6 497.20,310.6 497.44,310.6 497.49,310.6 497.50,310.6 497.68,310.6 497.89,310.7 498.00,310.7 498.21,310.6 498.40,310.6 498.45,310.6 498.50,310.6 498.69,310.5 498.93,310.6 499.00,310.6 499.17,310.7 499.26,310.7 499.49,310.7 499.50,310.7 499.66,310.7 499.89,310.7 499.98,310.7 500.00,310.7 500.22,310.6 500.46,310.6 500.50,310.6 500.70,310.6 500.74,310.6 500.94,310.7 501.00,310.7 501.14,310.7 501.26,310.7 501.46,310.7 501.50,310.6 501.66,310.6 501.70,310.6 501.94,310.5 502.00,310.5 502.01,310.5 502.18,310.6 502.41,310.7 502.42,310.7 502.50,310.7 502.73,310.8 502.74,310.8 502.97,310.8 503.00,310.7 503.01,310.7 503.14,310.7 503.21,310.7 503.32,310.7 503.34,310.6 503.45,310.6 503.50,310.5 503.60,310.4 503.69,310.2 503.72,310.2 503.80,310.1 504.00,309.9 504.01,309.9 504.04,309.9 504.20,310.1 504.28,310.2 504.40,310.4 504.41,310.4 504.50,310.5 504.52,310.5 504.66,310.7 504.76,310.8 504.99,310.9 505.00,310.9 505.32,310.9 505.50,310.9 505.51,310.9 505.72,310.9 505.91,310.9 506.00,310.9 506.23,310.8 506.47,310.7 506.50,310.7 506.71,310.6 506.95,310.7 507.00,310.7 507.19,310.8 507.50,310.9 507.51,310.9 507.91,311.0 508.00,311.0" fill="none" stroke="#6464dc" stroke-width="0.8" stroke-opacity="1" stroke-linejoin="round"/>
<line x1="217.50" y1="56.00" x2="217.50" y2="268.00" stroke="#587a94" stroke-width="0.9" stroke-opacity="1.0"/>
<line x1="143.40" y1="132.70" x2="171.40" y2="132.70" stroke="#9cd49c" stroke-width="0.8" stroke-opacity="1.0"/>
<line x1="164.50" y1="240.30" x2="182.40" y2="240.30" stroke="#9cd49c" stroke-width="0.8" stroke-opacity="1.0"/>
<line x1="276.00" y1="218.40" x2="294.60" y2="218.40" stroke="#9cd49c" stroke-width="0.8" stroke-opacity="1.0"/>
<line x1="327.40" y1="212.00" x2="337.80" y2="212.00" stroke="#9cd49c" stroke-width="0.8" stroke-opacity="1.0"/>
<line x1="60.00" y1="198.30" x2="68.60" y2="198.30" stroke="#9cd49c" stroke-width="0.6" stroke-opacity="1.0"/>
<line x1="60.00" y1="219.40" x2="68.60" y2="219.40" stroke="#9cd49c" stroke-width="0.6" stroke-opacity="1.0"/>
<line x1="437.00" y1="306.30" x2="447.00" y2="306.30" stroke="#9cd49c" stroke-width="0.6" stroke-opacity="1.0"/>
<line x1="122.00" y1="247.00" x2="131.00" y2="247.00" stroke="#9cd49c" stroke-width="0.6" stroke-opacity="1.0"/>
<line x1="115.00" y1="259.20" x2="123.00" y2="259.20" stroke="#9cd49c" stroke-width="0.6" stroke-opacity="1.0"/>
<text transform="translate(75.10,46.80) scale(1.15,1)" font-size="9.0" fill="#1e1e1e" stroke="#1e1e1e" stroke-width="0.22" text-anchor="middle" font-weight="normal">2.72</text>
<text transform="translate(75.60,142.10) scale(1.15,1)" font-size="9.0" fill="#1e1e1e" stroke="#1e1e1e" stroke-width="0.22" text-anchor="middle" font-weight="normal">2.70</text>
<text transform="translate(75.60,155.70) scale(1.15,1)" font-size="9.0" fill="#1e1e1e" stroke="#1e1e1e" stroke-width="0.22" text-anchor="middle" font-weight="normal">2.70</text>
<text transform="translate(75.60,179.90) scale(1.15,1)" font-size="9.0" fill="#1e1e1e" stroke="#1e1e1e" stroke-width="0.22" text-anchor="middle" font-weight="normal">2.70</text>
<text transform="translate(58.10,197.40) scale(1.15,1)" font-size="9.0" fill="#1e1e1e" stroke="#1e1e1e" stroke-width="0.22" text-anchor="middle" font-weight="normal">2.21</text>
<text transform="translate(58.10,218.60) scale(1.15,1)" font-size="9.0" fill="#1e1e1e" stroke="#1e1e1e" stroke-width="0.22" text-anchor="middle" font-weight="normal">2.21</text>
<text transform="translate(91.10,234.20) scale(1.15,1)" font-size="9.0" fill="#1e1e1e" stroke="#1e1e1e" stroke-width="0.22" text-anchor="middle" font-weight="normal">3.32</text>
<text transform="translate(218.10,20.40) scale(1.15,1)" font-size="9.0" fill="#1e1e1e" stroke="#1e1e1e" stroke-width="0.22" text-anchor="middle" font-weight="normal">13.56</text>
<text transform="translate(218.10,34.00) scale(1.15,1)" font-size="9.0" fill="#1e1e1e" stroke="#1e1e1e" stroke-width="0.22" text-anchor="middle" font-weight="normal">13.56</text>
<text transform="translate(218.10,49.90) scale(1.15,1)" font-size="9.0" fill="#1e1e1e" stroke="#1e1e1e" stroke-width="0.22" text-anchor="middle" font-weight="normal">13.53</text>
<text transform="translate(144.00,83.80) scale(1.15,1)" font-size="9.0" fill="#1e1e1e" stroke="#1e1e1e" stroke-width="0.22" text-anchor="middle" font-weight="normal">7.89</text>
<text transform="translate(144.00,123.70) scale(1.15,1)" font-size="9.0" fill="#1e1e1e" stroke="#1e1e1e" stroke-width="0.22" text-anchor="middle" font-weight="normal">7.88</text>
<text transform="translate(172.30,131.60) scale(1.15,1)" font-size="9.0" fill="#1e1e1e" stroke="#1e1e1e" stroke-width="0.22" text-anchor="middle" font-weight="normal">7.89</text>
<text transform="translate(144.00,217.40) scale(1.15,1)" font-size="9.0" fill="#1e1e1e" stroke="#1e1e1e" stroke-width="0.22" text-anchor="middle" font-weight="normal">7.87</text>
<text transform="translate(182.90,196.80) scale(1.15,1)" font-size="9.0" fill="#1e1e1e" stroke="#1e1e1e" stroke-width="0.22" text-anchor="middle" font-weight="normal">10.85</text>
<text transform="translate(164.50,238.80) scale(1.15,1)" font-size="9.0" fill="#1e1e1e" stroke="#1e1e1e" stroke-width="0.22" text-anchor="middle" font-weight="normal">10.85</text>
<text transform="translate(177.70,250.80) scale(1.15,1)" font-size="9.0" fill="#1e1e1e" stroke="#1e1e1e" stroke-width="0.22" text-anchor="middle" font-weight="normal">10.85</text>
<text transform="translate(197.10,231.10) scale(1.15,1)" font-size="9.0" fill="#1e1e1e" stroke="#1e1e1e" stroke-width="0.22" text-anchor="middle" font-weight="normal">11.94</text>
<text transform="translate(125.80,246.50) scale(1.15,1)" font-size="9.0" fill="#1e1e1e" stroke="#1e1e1e" stroke-width="0.22" text-anchor="middle" font-weight="normal">6.92</text>
<text transform="translate(114.80,259.00) scale(1.15,1)" font-size="9.0" fill="#1e1e1e" stroke="#1e1e1e" stroke-width="0.22" text-anchor="middle" font-weight="normal">6.32</text>
<text transform="translate(103.30,274.20) scale(1.15,1)" font-size="9.0" fill="#1e1e1e" stroke="#1e1e1e" stroke-width="0.22" text-anchor="middle" font-weight="normal">4.82</text>
<text transform="translate(115.10,297.80) scale(1.15,1)" font-size="9.0" fill="#1e1e1e" stroke="#1e1e1e" stroke-width="0.22" text-anchor="middle" font-weight="normal">6.32</text>
<text transform="translate(166.80,269.40) scale(1.15,1)" font-size="9.0" fill="#1e1e1e" stroke="#1e1e1e" stroke-width="0.22" text-anchor="middle" font-weight="normal">9.65</text>
<text transform="translate(166.80,280.00) scale(1.15,1)" font-size="9.0" fill="#1e1e1e" stroke="#1e1e1e" stroke-width="0.22" text-anchor="middle" font-weight="normal">9.66</text>
<text transform="translate(249.60,228.30) scale(1.15,1)" font-size="9.0" fill="#1e1e1e" stroke="#1e1e1e" stroke-width="0.22" text-anchor="middle" font-weight="normal">15.89</text>
<text transform="translate(239.30,262.10) scale(1.15,1)" font-size="9.0" fill="#1e1e1e" stroke="#1e1e1e" stroke-width="0.22" text-anchor="middle" font-weight="normal">15.88</text>
<text transform="translate(273.00,262.10) scale(1.15,1)" font-size="9.0" fill="#1e1e1e" stroke="#1e1e1e" stroke-width="0.22" text-anchor="middle" font-weight="normal">17.72</text>
<text transform="translate(275.90,279.20) scale(1.15,1)" font-size="9.0" fill="#1e1e1e" stroke="#1e1e1e" stroke-width="0.22" text-anchor="middle" font-weight="normal">18.32</text>
<text transform="translate(273.00,300.50) scale(1.15,1)" font-size="9.0" fill="#1e1e1e" stroke="#1e1e1e" stroke-width="0.22" text-anchor="middle" font-weight="normal">17.71</text>
<text transform="translate(266.30,217.40) scale(1.15,1)" font-size="9.0" fill="#1e1e1e" stroke="#1e1e1e" stroke-width="0.22" text-anchor="middle" font-weight="normal">19.39</text>
<text transform="translate(300.70,211.10) scale(1.15,1)" font-size="9.0" fill="#1e1e1e" stroke="#1e1e1e" stroke-width="0.22" text-anchor="middle" font-weight="normal">19.80</text>
<text transform="translate(319.00,198.10) scale(1.15,1)" font-size="9.0" fill="#1e1e1e" stroke="#1e1e1e" stroke-width="0.22" text-anchor="middle" font-weight="normal">21.30</text>
<text transform="translate(337.90,211.10) scale(1.15,1)" font-size="9.0" fill="#1e1e1e" stroke="#1e1e1e" stroke-width="0.22" text-anchor="middle" font-weight="normal">21.93</text>
<text transform="translate(316.50,229.70) scale(1.15,1)" font-size="9.0" fill="#1e1e1e" stroke="#1e1e1e" stroke-width="0.22" text-anchor="middle" font-weight="normal">21.29</text>
<text transform="translate(349.20,229.70) scale(1.15,1)" font-size="9.0" fill="#1e1e1e" stroke="#1e1e1e" stroke-width="0.22" text-anchor="middle" font-weight="normal">23.55</text>
<text transform="translate(388.80,230.00) scale(1.15,1)" font-size="9.0" fill="#1e1e1e" stroke="#1e1e1e" stroke-width="0.22" text-anchor="middle" font-weight="normal">26.59</text>
<text transform="translate(337.80,242.00) scale(1.15,1)" font-size="9.0" fill="#1e1e1e" stroke="#1e1e1e" stroke-width="0.22" text-anchor="middle" font-weight="normal">21.92</text>
<text transform="translate(294.90,248.60) scale(1.15,1)" font-size="9.0" fill="#1e1e1e" stroke="#1e1e1e" stroke-width="0.22" text-anchor="middle" font-weight="normal">19.38</text>
<text transform="translate(316.50,258.80) scale(1.15,1)" font-size="9.0" fill="#1e1e1e" stroke="#1e1e1e" stroke-width="0.22" text-anchor="middle" font-weight="normal">21.29</text>
<text transform="translate(349.20,257.00) scale(1.15,1)" font-size="9.0" fill="#1e1e1e" stroke="#1e1e1e" stroke-width="0.22" text-anchor="middle" font-weight="normal">23.55</text>
<text transform="translate(388.80,264.30) scale(1.15,1)" font-size="9.0" fill="#1e1e1e" stroke="#1e1e1e" stroke-width="0.22" text-anchor="middle" font-weight="normal">26.59</text>
<text transform="translate(337.80,270.20) scale(1.15,1)" font-size="9.0" fill="#1e1e1e" stroke="#1e1e1e" stroke-width="0.22" text-anchor="middle" font-weight="normal">21.91</text>
<text transform="translate(355.50,282.40) scale(1.15,1)" font-size="9.0" fill="#1e1e1e" stroke="#1e1e1e" stroke-width="0.22" text-anchor="middle" font-weight="normal">24.60</text>
<text transform="translate(388.50,278.70) scale(1.15,1)" font-size="9.0" fill="#1e1e1e" stroke="#1e1e1e" stroke-width="0.22" text-anchor="middle" font-weight="normal">26.58</text>
<text transform="translate(409.70,251.60) scale(1.15,1)" font-size="9.0" fill="#1e1e1e" stroke="#1e1e1e" stroke-width="0.22" text-anchor="middle" font-weight="normal">28.22</text>
<text transform="translate(444.00,259.90) scale(1.15,1)" font-size="9.0" fill="#1e1e1e" stroke="#1e1e1e" stroke-width="0.22" text-anchor="middle" font-weight="normal">30.22</text>
<text transform="translate(436.50,270.30) scale(1.15,1)" font-size="9.0" fill="#1e1e1e" stroke="#1e1e1e" stroke-width="0.22" text-anchor="middle" font-weight="normal">30.27</text>
<text transform="translate(492.20,242.10) scale(1.15,1)" font-size="9.0" fill="#1e1e1e" stroke="#1e1e1e" stroke-width="0.22" text-anchor="middle" font-weight="normal">34.42</text>
<text transform="translate(490.90,271.20) scale(1.15,1)" font-size="9.0" fill="#1e1e1e" stroke="#1e1e1e" stroke-width="0.22" text-anchor="middle" font-weight="normal">34.41</text>
<text transform="translate(437.10,286.10) scale(1.15,1)" font-size="9.0" fill="#1e1e1e" stroke="#1e1e1e" stroke-width="0.22" text-anchor="middle" font-weight="normal">30.28</text>
<text transform="translate(470.80,294.20) scale(1.15,1)" font-size="9.0" fill="#1e1e1e" stroke="#1e1e1e" stroke-width="0.22" text-anchor="middle" font-weight="normal">33.97</text>
<text transform="translate(410.30,300.60) scale(1.15,1)" font-size="9.0" fill="#1e1e1e" stroke="#1e1e1e" stroke-width="0.22" text-anchor="middle" font-weight="normal">28.21</text>
<text transform="translate(444.60,305.20) scale(1.15,1)" font-size="9.0" fill="#1e1e1e" stroke="#1e1e1e" stroke-width="0.22" text-anchor="middle" font-weight="normal">30.18</text>
<text transform="translate(509.00,17.40) scale(1.14,1)" font-size="7.3" fill="#1e1e1e" stroke="#1e1e1e" stroke-width="0.15" letter-spacing="0.45" text-anchor="start" font-weight="normal">NL:</text>
<text transform="translate(509.00,27.25) scale(1.14,1)" font-size="7.3" fill="#1e1e1e" stroke="#1e1e1e" stroke-width="0.15" letter-spacing="0.45" text-anchor="start" font-weight="normal">5.00E7</text>
<text transform="translate(509.00,37.10) scale(1.14,1)" font-size="7.3" fill="#1e1e1e" stroke="#1e1e1e" stroke-width="0.15" letter-spacing="0.45" text-anchor="start" font-weight="normal">TIC&#160;&#160;MS</text>
<text transform="translate(509.00,46.95) scale(1.14,1)" font-size="7.3" fill="#1e1e1e" stroke="#1e1e1e" stroke-width="0.15" letter-spacing="0.45" text-anchor="start" font-weight="normal">2010-847</text>
<text transform="translate(509.00,58.70) scale(1.14,1)" font-size="7.3" fill="#9a2626" stroke="#9a2626" stroke-width="0.15" letter-spacing="0.45" text-anchor="start" font-weight="normal">NL:</text>
<text transform="translate(509.00,68.55) scale(1.14,1)" font-size="7.3" fill="#9a2626" stroke="#9a2626" stroke-width="0.15" letter-spacing="0.45" text-anchor="start" font-weight="normal">4.81E7</text>
<text transform="translate(509.00,78.40) scale(1.14,1)" font-size="7.3" fill="#9a2626" stroke="#9a2626" stroke-width="0.15" letter-spacing="0.45" text-anchor="start" font-weight="normal">TIC&#160;&#160;MS</text>
<text transform="translate(509.00,88.25) scale(1.14,1)" font-size="7.3" fill="#9a2626" stroke="#9a2626" stroke-width="0.15" letter-spacing="0.45" text-anchor="start" font-weight="normal">2010-848</text>
<text transform="translate(509.00,100.20) scale(1.14,1)" font-size="7.3" fill="#2a8c2a" stroke="#2a8c2a" stroke-width="0.15" letter-spacing="0.45" text-anchor="start" font-weight="normal">NL:</text>
<text transform="translate(509.00,110.05) scale(1.14,1)" font-size="7.3" fill="#2a8c2a" stroke="#2a8c2a" stroke-width="0.15" letter-spacing="0.45" text-anchor="start" font-weight="normal">4.72E7</text>
<text transform="translate(509.00,119.90) scale(1.14,1)" font-size="7.3" fill="#2a8c2a" stroke="#2a8c2a" stroke-width="0.15" letter-spacing="0.45" text-anchor="start" font-weight="normal">TIC&#160;&#160;MS</text>
<text transform="translate(509.00,129.75) scale(1.14,1)" font-size="7.3" fill="#2a8c2a" stroke="#2a8c2a" stroke-width="0.15" letter-spacing="0.45" text-anchor="start" font-weight="normal">2010-849</text>
<text transform="translate(509.00,140.40) scale(1.14,1)" font-size="7.3" fill="#2a2a9c" stroke="#2a2a9c" stroke-width="0.15" letter-spacing="0.45" text-anchor="start" font-weight="normal">NL:</text>
<text transform="translate(509.00,150.25) scale(1.14,1)" font-size="7.3" fill="#2a2a9c" stroke="#2a2a9c" stroke-width="0.15" letter-spacing="0.45" text-anchor="start" font-weight="normal">4.96E7</text>
<text transform="translate(509.00,160.10) scale(1.14,1)" font-size="7.3" fill="#2a2a9c" stroke="#2a2a9c" stroke-width="0.15" letter-spacing="0.45" text-anchor="start" font-weight="normal">TIC&#160;&#160;MS</text>
<text transform="translate(509.00,169.95) scale(1.14,1)" font-size="7.3" fill="#2a2a9c" stroke="#2a2a9c" stroke-width="0.15" letter-spacing="0.45" text-anchor="start" font-weight="normal">2010-850</text>
</svg>
<div class="cap">
<span class="w" style="left:16.6px;top:349.6px;">2010-847:</span>
<span class="w" style="left:78.7px;top:349.6px;font-style:italic;">Phyllostachys</span>
<span class="w" style="left:159.4px;top:349.6px;font-style:italic;">heterocycla</span>
<span class="w" style="left:226.9px;top:349.6px;font-style:italic;">cv.</span>
<span class="w" style="left:252.8px;top:349.6px;"><i>Pubescens</i>;</span>
<span class="w" style="left:319.7px;top:349.6px;">2010-848:</span>
<span class="w" style="left:383.1px;top:349.6px;font-style:italic;">Phyllostachys</span>
<span class="w" style="left:463.1px;top:349.6px;"><i>Kwangsiens</i>;</span>
<span class="w" style="left:16.4px;top:367.5px;">2010-849:</span>
<span class="w" style="left:76.4px;top:367.5px;font-style:italic;">Phyllostachys</span>
<span class="w" style="left:154.5px;top:367.5px;font-style:italic;">heterocycla</span>
<span class="w" style="left:221.8px;top:367.5px;font-style:italic;">cv.</span>
<span class="w" style="left:243.6px;top:367.5px;"><i>Gracilis</i>;</span>
<span class="w" style="left:296.4px;top:367.5px;">2010-850:</span>
<span class="w" style="left:356.4px;top:367.5px;letter-spacing:0.45px;font-style:italic;">Phyllostachys</span>
<span class="w" style="left:440.9px;top:367.5px;letter-spacing:0.58px;font-style:italic;">heterocycla</span>
<span class="w" style="left:512.7px;top:367.5px;letter-spacing:0.4px;font-style:italic;">cv.</span>
<span class="w" style="left:16.9px;top:385.0px;font-style:italic;">Heterocycla.</span>
</div>
</body></html>
